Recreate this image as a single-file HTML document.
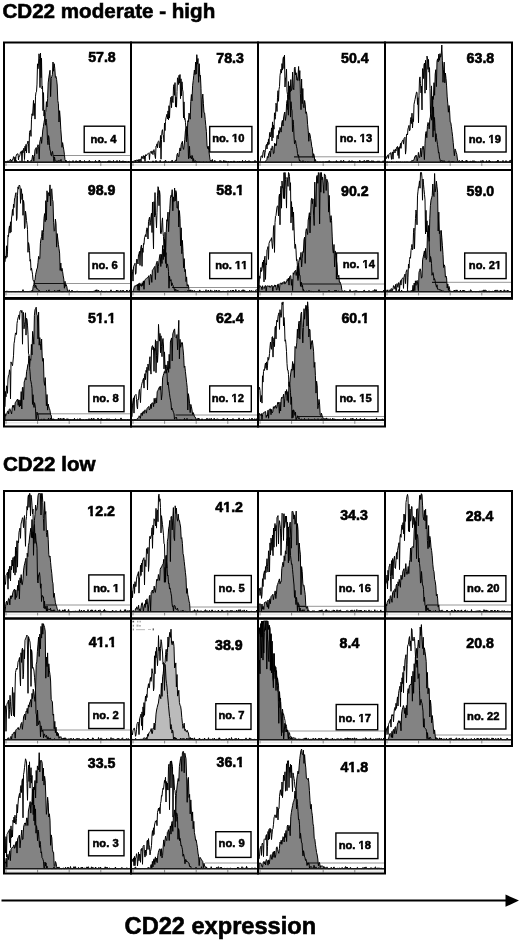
<!DOCTYPE html>
<html><head><meta charset="utf-8"><style>
html,body{margin:0;padding:0;background:#fff;}
svg{display:block;filter:grayscale(1);}
text{font-kerning:none;font-family:"Liberation Sans",sans-serif;font-weight:bold;fill:#000;stroke:#000;stroke-width:0.6px;}
.n{font-size:14.2px;}
.b{font-size:11.2px;stroke-width:0.5px;}
.t{font-size:20.6px;}
.x{font-size:23.6px;}
</style></head><body>
<svg width="520" height="941" viewBox="0 0 520 941">
<rect width="520" height="941" fill="#fff"/>
<defs><clipPath id="one_n"><path d="M-2.00,-11.09 L14.20,-11.09 L14.20,-2.60 L5.56,-2.60 L5.56,2.00 L3.01,2.00 L3.01,-2.60 L-2.00,-2.60 Z"/></clipPath><clipPath id="one_b"><path d="M-2.00,-8.75 L11.20,-8.75 L11.20,-2.60 L4.40,-2.60 L4.40,2.00 L2.36,2.00 L2.36,-2.60 L-2.00,-2.60 Z"/></clipPath></defs>
<text x="2.4" y="18.2" class="t">CD22 moderate - high</text>
<text x="2.9" y="470.7" class="t">CD22 low</text>
<g><clipPath id="c100"><rect x="5.0" y="43.5" width="125.0" height="119.3"/></clipPath><line x1="53.5" y1="155.5" x2="130.0" y2="155.5" stroke="#8a8a8a" stroke-width="0.9"/><g clip-path="url(#c100)"><path d="M5.0,162.3L5.0,162.3L5.6,162.0L6.2,161.3L6.8,162.2L7.4,162.1L8.0,160.7L8.6,162.3L9.2,162.3L9.8,162.3L10.4,162.3L11.0,162.0L11.6,161.1L12.2,162.3L12.8,162.0L13.4,162.3L14.0,162.2L14.6,162.0L15.2,162.2L15.8,162.3L16.4,160.5L17.0,162.3L17.6,162.0L18.2,162.2L18.8,162.2L19.4,162.3L20.0,160.8L20.6,161.4L21.2,162.3L21.8,162.2L22.4,162.2L23.0,162.1L23.6,162.3L24.2,160.7L24.8,161.2L25.4,162.1L26.0,162.0L26.6,162.3L27.2,162.0L27.8,160.0L28.4,162.3L29.0,162.3L29.6,162.0L30.2,161.4L30.8,160.6L31.4,161.3L32.0,159.1L32.6,155.0L33.2,155.9L33.8,161.2L34.4,156.4L35.0,149.9L35.6,148.6L36.2,147.6L36.8,153.7L37.4,147.3L38.0,144.7L38.6,146.4L39.2,159.1L39.8,141.7L40.4,139.5L41.0,136.9L41.6,143.4L42.2,137.3L42.8,129.9L43.4,126.7L44.0,122.5L44.6,119.2L45.2,112.4L45.8,111.4L46.4,101.7L47.0,107.0L47.6,98.7L48.2,82.9L48.8,77.8L49.4,74.0L50.0,70.3L50.6,96.6L51.2,78.4L51.8,76.4L52.4,74.7L53.0,62.0L53.6,71.2L54.2,63.7L54.8,68.6L55.4,77.4L56.0,76.5L56.6,79.5L57.2,85.0L57.8,100.7L58.4,103.7L59.0,122.0L59.6,110.7L60.2,118.0L60.8,129.3L61.4,137.0L62.0,147.3L62.6,142.6L63.2,146.3L63.8,149.9L64.4,154.3L65.0,159.7L65.6,161.0L66.2,162.3L66.8,161.3L67.4,162.0L68.0,162.0L68.6,162.3L69.2,162.3L69.8,162.3L70.4,162.0L71.0,162.3L71.6,162.0L72.2,162.3L72.8,162.3L73.4,162.0L74.0,162.0L74.6,162.3L75.2,162.3L75.8,160.8L76.4,160.8L77.0,162.3L77.6,162.1L78.2,162.3L78.8,161.7L79.4,160.5L80.0,162.3L80.6,162.3L81.2,162.0L81.8,162.0L82.4,162.0L83.0,162.0L83.6,162.3L84.2,162.0L84.8,162.0L85.4,162.3L86.0,161.4L86.6,162.3L87.2,162.0L87.8,162.3L88.4,162.2L89.0,160.6L89.6,160.7L90.2,162.3L90.8,162.0L91.4,162.3L92.0,162.2L92.6,162.1L93.2,162.1L93.8,162.3L94.4,162.3L95.0,162.3L95.6,162.3L96.2,161.8L96.8,162.0L97.4,162.3L98.0,162.3L98.6,162.3L99.2,160.1L99.8,162.3L100.4,162.3L101.0,162.0L101.6,162.3L102.2,162.0L102.8,162.3L103.4,162.0L104.0,162.0L104.6,162.3L105.2,162.3L105.8,162.0L106.4,162.3L107.0,162.0L107.6,161.4L108.2,162.3L108.8,160.7L109.4,161.3L110.0,162.0L110.6,162.0L111.2,162.0L111.8,162.0L112.4,162.3L113.0,162.0L113.6,162.3L114.2,162.3L114.8,162.0L115.4,162.0L116.0,162.3L116.6,162.0L117.2,162.3L117.8,162.0L118.4,162.3L119.0,162.3L119.6,160.4L120.2,162.3L120.8,162.3L121.4,161.2L122.0,162.1L122.6,162.0L123.2,162.3L123.8,162.0L124.4,162.0L125.0,161.1L125.6,162.1L126.2,161.6L126.8,162.0L127.4,162.3L128.0,162.3L128.6,161.0L129.2,162.0L129.8,162.0L129.8,162.3Z" fill="#838383" stroke="#000" stroke-width="1.0"/><clipPath id="f100"><path d="M5.0,162.3L5.0,162.3L5.6,162.0L6.2,161.3L6.8,162.2L7.4,162.1L8.0,160.7L8.6,162.3L9.2,162.3L9.8,162.3L10.4,162.3L11.0,162.0L11.6,161.1L12.2,162.3L12.8,162.0L13.4,162.3L14.0,162.2L14.6,162.0L15.2,162.2L15.8,162.3L16.4,160.5L17.0,162.3L17.6,162.0L18.2,162.2L18.8,162.2L19.4,162.3L20.0,160.8L20.6,161.4L21.2,162.3L21.8,162.2L22.4,162.2L23.0,162.1L23.6,162.3L24.2,160.7L24.8,161.2L25.4,162.1L26.0,162.0L26.6,162.3L27.2,162.0L27.8,160.0L28.4,162.3L29.0,162.3L29.6,162.0L30.2,161.4L30.8,160.6L31.4,161.3L32.0,159.1L32.6,155.0L33.2,155.9L33.8,161.2L34.4,156.4L35.0,149.9L35.6,148.6L36.2,147.6L36.8,153.7L37.4,147.3L38.0,144.7L38.6,146.4L39.2,159.1L39.8,141.7L40.4,139.5L41.0,136.9L41.6,143.4L42.2,137.3L42.8,129.9L43.4,126.7L44.0,122.5L44.6,119.2L45.2,112.4L45.8,111.4L46.4,101.7L47.0,107.0L47.6,98.7L48.2,82.9L48.8,77.8L49.4,74.0L50.0,70.3L50.6,96.6L51.2,78.4L51.8,76.4L52.4,74.7L53.0,62.0L53.6,71.2L54.2,63.7L54.8,68.6L55.4,77.4L56.0,76.5L56.6,79.5L57.2,85.0L57.8,100.7L58.4,103.7L59.0,122.0L59.6,110.7L60.2,118.0L60.8,129.3L61.4,137.0L62.0,147.3L62.6,142.6L63.2,146.3L63.8,149.9L64.4,154.3L65.0,159.7L65.6,161.0L66.2,162.3L66.8,161.3L67.4,162.0L68.0,162.0L68.6,162.3L69.2,162.3L69.8,162.3L70.4,162.0L71.0,162.3L71.6,162.0L72.2,162.3L72.8,162.3L73.4,162.0L74.0,162.0L74.6,162.3L75.2,162.3L75.8,160.8L76.4,160.8L77.0,162.3L77.6,162.1L78.2,162.3L78.8,161.7L79.4,160.5L80.0,162.3L80.6,162.3L81.2,162.0L81.8,162.0L82.4,162.0L83.0,162.0L83.6,162.3L84.2,162.0L84.8,162.0L85.4,162.3L86.0,161.4L86.6,162.3L87.2,162.0L87.8,162.3L88.4,162.2L89.0,160.6L89.6,160.7L90.2,162.3L90.8,162.0L91.4,162.3L92.0,162.2L92.6,162.1L93.2,162.1L93.8,162.3L94.4,162.3L95.0,162.3L95.6,162.3L96.2,161.8L96.8,162.0L97.4,162.3L98.0,162.3L98.6,162.3L99.2,160.1L99.8,162.3L100.4,162.3L101.0,162.0L101.6,162.3L102.2,162.0L102.8,162.3L103.4,162.0L104.0,162.0L104.6,162.3L105.2,162.3L105.8,162.0L106.4,162.3L107.0,162.0L107.6,161.4L108.2,162.3L108.8,160.7L109.4,161.3L110.0,162.0L110.6,162.0L111.2,162.0L111.8,162.0L112.4,162.3L113.0,162.0L113.6,162.3L114.2,162.3L114.8,162.0L115.4,162.0L116.0,162.3L116.6,162.0L117.2,162.3L117.8,162.0L118.4,162.3L119.0,162.3L119.6,160.4L120.2,162.3L120.8,162.3L121.4,161.2L122.0,162.1L122.6,162.0L123.2,162.3L123.8,162.0L124.4,162.0L125.0,161.1L125.6,162.1L126.2,161.6L126.8,162.0L127.4,162.3L128.0,162.3L128.6,161.0L129.2,162.0L129.8,162.0L129.8,162.3Z"/></clipPath><line x1="53.5" y1="155.5" x2="130.0" y2="155.5" stroke="#111" stroke-width="1.2" clip-path="url(#f100)"/><path d="M5.0,162.0L5.5,161.9L6.0,162.0L6.5,162.3L7.0,162.3L7.5,162.0L8.0,162.2L8.5,161.2L9.0,161.9L9.5,160.7L10.0,160.0L10.5,159.2L11.0,161.8L11.5,160.1L12.0,161.1L12.5,159.3L13.0,159.6L13.5,156.6L14.0,157.7L14.5,162.3L15.0,156.9L15.5,162.3L16.0,156.1L16.5,155.0L17.0,153.9L17.5,153.9L18.0,153.8L18.5,159.9L19.0,156.0L19.5,156.4L20.0,154.8L20.5,151.9L21.0,151.5L21.5,151.2L22.0,162.3L22.5,150.6L23.0,152.8L23.5,149.0L24.0,148.1L24.5,159.5L25.0,146.2L25.5,150.8L26.0,144.4L26.5,152.9L27.0,144.4L27.5,143.0L28.0,141.0L28.5,143.5L29.0,153.1L29.5,132.3L30.0,130.5L30.5,130.3L31.0,136.4L31.5,119.2L32.0,113.8L32.5,115.5L33.0,109.0L33.5,100.4L34.0,115.6L34.5,103.6L35.0,119.1L35.5,96.2L36.0,92.2L36.5,91.8L37.0,84.1L37.5,63.8L38.0,68.8L38.5,63.9L39.0,53.8L39.5,58.3L40.0,87.6L40.5,53.0L41.0,77.7L41.5,58.2L42.0,89.0L42.5,86.1L43.0,110.6L43.5,92.6L44.0,116.1L44.5,110.1L45.0,118.3L45.5,125.2L46.0,119.0L46.5,122.4L47.0,128.1L47.5,140.5L48.0,144.7L48.5,135.6L49.0,137.6L49.5,145.7L50.0,150.0L50.5,151.1L51.0,155.4L51.5,155.8L52.0,152.6L52.5,151.4L53.0,154.6L53.5,158.3L54.0,162.3L54.5,156.9L55.0,160.1L55.5,160.6L56.0,161.7L56.5,161.5L57.0,160.6L57.5,162.3L58.0,161.7L58.5,160.9L59.0,160.2L59.5,161.4L60.0,160.9L60.5,161.2L61.0,159.4L61.5,162.3L62.0,161.5L62.5,162.3L63.0,162.0L63.5,161.8L64.0,162.0L64.5,162.2L65.0,162.3L65.5,162.0L66.0,160.1L66.5,162.3L67.0,162.0L67.5,162.3L68.0,162.3L68.5,162.0L69.0,161.1L69.5,161.2L70.0,161.2L70.5,162.3L71.0,162.3L71.5,162.3L72.0,162.0L72.5,162.0L73.0,160.5L73.5,162.0L74.0,162.3L74.5,162.3L75.0,162.3L75.5,162.2L76.0,162.3L76.5,161.8L77.0,162.3L77.5,161.2L78.0,161.8L78.5,162.3L79.0,162.3L79.5,162.3L80.0,162.1L80.5,160.4L81.0,162.3L81.5,162.1L82.0,162.3L82.5,162.0L83.0,162.3L83.5,162.3L84.0,162.0L84.5,160.5L85.0,161.8L85.5,162.3L86.0,162.3L86.5,162.1L87.0,162.3L87.5,162.0L88.0,162.0L88.5,162.3L89.0,162.0L89.5,162.3L90.0,162.0L90.5,162.0L91.0,162.3L91.5,162.0L92.0,162.3L92.5,162.0L93.0,162.3L93.5,162.3L94.0,162.0L94.5,162.0L95.0,162.0L95.5,160.4L96.0,162.3L96.5,162.2L97.0,162.0L97.5,162.3L98.0,162.3L98.5,162.0L99.0,161.8L99.5,161.0L100.0,160.8L100.5,162.3L101.0,162.3L101.5,162.3L102.0,162.3L102.5,162.0L103.0,162.3L103.5,162.3L104.0,162.3L104.5,162.0L105.0,162.3L105.5,162.0L106.0,162.3L106.5,162.3L107.0,162.3L107.5,162.3L108.0,162.0L108.5,162.3L109.0,162.0L109.5,161.7L110.0,160.7L110.5,161.2L111.0,162.3L111.5,161.6L112.0,162.3L112.5,162.1L113.0,162.0L113.5,160.4L114.0,162.0L114.5,162.3L115.0,162.3L115.5,162.0L116.0,162.3L116.5,162.0L117.0,160.4L117.5,162.0L118.0,162.3L118.5,162.3L119.0,162.0L119.5,162.0L120.0,162.1L120.5,162.0L121.0,162.3L121.5,162.3L122.0,162.0L122.5,162.0L123.0,160.7L123.5,162.0L124.0,162.2L124.5,162.0L125.0,161.0L125.5,162.3L126.0,162.0L126.5,162.3L127.0,162.0L127.5,162.0L128.0,162.0L128.5,162.3L129.0,162.3L129.5,162.3L130.0,162.0" fill="none" stroke="#000" stroke-width="1.0"/></g><line x1="5.0" y1="164.9" x2="130.0" y2="164.9" stroke="#e6e6e6" stroke-width="1.6"/><line x1="6.0" y1="163.3" x2="6.0" y2="165.9" stroke="#777" stroke-width="0.9"/><line x1="37.6" y1="163.3" x2="37.6" y2="165.9" stroke="#777" stroke-width="0.9"/><line x1="69.2" y1="163.3" x2="69.2" y2="165.9" stroke="#777" stroke-width="0.9"/><line x1="100.8" y1="163.3" x2="100.8" y2="165.9" stroke="#777" stroke-width="0.9"/><line x1="5.0" y1="162.3" x2="130.0" y2="162.3" stroke="#1a1a1a" stroke-width="1.6"/><g transform="translate(88.15,62.25) scale(1,1.080)"><text x="0.00" y="0" class="n">57.8</text></g><rect x="84.2" y="126.2" width="40.5" height="26.2" fill="none" stroke="#000" stroke-width="1.4"/><g transform="translate(90.40,143.40)"><text x="0.00" y="0" class="b">no. 4</text></g><rect x="4.0" y="42.5" width="127.0" height="127.5" fill="none" stroke="#000" stroke-width="2"/></g>
<g><clipPath id="c101"><rect x="132.0" y="43.5" width="125.0" height="119.3"/></clipPath><g clip-path="url(#c101)"><path d="M132.0,162.3L132.0,162.3L132.6,161.5L133.2,162.3L133.8,162.0L134.4,162.0L135.0,162.2L135.6,160.3L136.2,162.3L136.8,162.0L137.4,162.0L138.0,162.3L138.6,162.3L139.2,160.8L139.8,162.3L140.4,162.0L141.0,162.3L141.6,161.9L142.2,162.3L142.8,162.3L143.4,162.3L144.0,162.3L144.6,162.1L145.2,162.3L145.8,162.1L146.4,162.3L147.0,162.3L147.6,162.3L148.2,161.2L148.8,162.3L149.4,162.3L150.0,162.3L150.6,162.3L151.2,162.3L151.8,162.3L152.4,162.0L153.0,160.8L153.6,162.0L154.2,162.3L154.8,162.0L155.4,162.0L156.0,160.4L156.6,162.3L157.2,162.1L157.8,162.0L158.4,162.3L159.0,162.3L159.6,162.3L160.2,160.3L160.8,162.3L161.4,162.3L162.0,162.0L162.6,162.3L163.2,162.0L163.8,162.0L164.4,162.2L165.0,160.9L165.6,160.1L166.2,162.1L166.8,162.3L167.4,162.3L168.0,162.3L168.6,161.6L169.2,162.3L169.8,162.1L170.4,162.0L171.0,162.0L171.6,161.0L172.2,160.1L172.8,162.3L173.4,162.3L174.0,162.3L174.6,162.3L175.2,160.4L175.8,160.1L176.4,160.9L177.0,154.6L177.6,153.2L178.2,156.2L178.8,156.8L179.4,151.5L180.0,147.9L180.6,150.8L181.2,144.7L181.8,143.0L182.4,141.3L183.0,147.9L183.6,149.4L184.2,145.1L184.8,139.2L185.4,130.9L186.0,128.4L186.6,126.5L187.2,135.9L187.8,120.7L188.4,121.9L189.0,113.1L189.6,115.2L190.2,119.2L190.8,101.6L191.4,94.5L192.0,100.9L192.6,85.7L193.2,80.7L193.8,75.3L194.4,70.0L195.0,74.6L195.6,62.0L196.2,74.1L196.8,54.7L197.4,64.1L198.0,58.5L198.6,82.3L199.2,63.7L199.8,76.2L200.4,75.3L201.0,88.4L201.6,117.7L202.2,99.3L202.8,94.1L203.4,103.7L204.0,112.7L204.6,112.9L205.2,119.3L205.8,125.6L206.4,131.7L207.0,145.2L207.6,148.5L208.2,146.2L208.8,150.4L209.4,154.9L210.0,159.7L210.6,161.2L211.2,160.4L211.8,161.3L212.4,159.4L213.0,162.3L213.6,162.3L214.2,162.1L214.8,160.3L215.4,161.8L216.0,162.3L216.6,162.3L217.2,162.3L217.8,162.3L218.4,162.3L219.0,162.1L219.6,161.8L220.2,162.3L220.8,162.0L221.4,162.3L222.0,162.3L222.6,162.3L223.2,162.3L223.8,160.3L224.4,162.3L225.0,160.8L225.6,162.3L226.2,161.4L226.8,162.2L227.4,162.3L228.0,162.0L228.6,161.1L229.2,162.2L229.8,162.3L230.4,162.0L231.0,162.0L231.6,162.3L232.2,162.3L232.8,162.0L233.4,162.3L234.0,160.8L234.6,162.0L235.2,162.3L235.8,162.0L236.4,162.1L237.0,162.0L237.6,162.3L238.2,162.2L238.8,162.0L239.4,161.3L240.0,162.3L240.6,162.0L241.2,162.0L241.8,162.0L242.4,161.5L243.0,161.7L243.6,162.3L244.2,162.3L244.8,161.5L245.4,160.6L246.0,161.2L246.6,162.3L247.2,161.0L247.8,162.0L248.4,162.0L249.0,162.2L249.6,162.0L250.2,161.3L250.8,162.2L251.4,162.0L252.0,162.1L252.6,162.3L253.2,162.3L253.8,162.3L254.4,162.3L255.0,162.0L255.6,162.0L256.2,161.4L256.8,162.3L256.8,162.3Z" fill="#838383" stroke="#000" stroke-width="1.0"/><path d="M132.0,162.3L132.5,162.3L133.0,161.4L133.5,161.3L134.0,161.1L134.5,160.8L135.0,160.6L135.5,161.5L136.0,160.3L136.5,160.2L137.0,160.0L137.5,161.0L138.0,159.7L138.5,162.3L139.0,159.4L139.5,160.6L140.0,159.2L140.5,159.3L141.0,162.3L141.5,156.5L142.0,157.0L142.5,158.4L143.0,155.9L143.5,155.7L144.0,159.1L144.5,155.9L145.0,161.3L145.5,154.9L146.0,154.7L146.5,155.7L147.0,154.3L147.5,154.0L148.0,153.7L148.5,153.3L149.0,153.6L149.5,159.6L150.0,152.3L150.5,151.9L151.0,151.6L151.5,153.4L152.0,150.9L152.5,153.8L153.0,154.6L153.5,150.3L154.0,149.6L154.5,152.3L155.0,156.1L155.5,158.6L156.0,146.0L156.5,146.1L157.0,143.8L157.5,147.8L158.0,141.6L158.5,141.2L159.0,141.4L159.5,147.9L160.0,147.3L160.5,135.5L161.0,159.2L161.5,139.4L162.0,131.2L162.5,129.7L163.0,134.6L163.5,135.2L164.0,142.1L164.5,123.1L165.0,130.6L165.5,121.3L166.0,117.8L166.5,116.0L167.0,114.2L167.5,119.0L168.0,110.9L168.5,119.9L169.0,105.7L169.5,118.1L170.0,105.3L170.5,99.4L171.0,97.2L171.5,107.7L172.0,96.0L172.5,100.7L173.0,102.6L173.5,86.7L174.0,84.6L174.5,95.3L175.0,82.6L175.5,106.8L176.0,97.1L176.5,107.2L177.0,91.4L177.5,77.8L178.0,79.4L178.5,84.5L179.0,75.3L179.5,83.1L180.0,74.5L180.5,98.6L181.0,78.8L181.5,95.8L182.0,81.8L182.5,89.2L183.0,91.9L183.5,117.8L184.0,101.9L184.5,119.4L185.0,118.5L185.5,122.7L186.0,129.5L186.5,141.8L187.0,129.6L187.5,132.9L188.0,141.1L188.5,158.7L189.0,153.2L189.5,146.3L190.0,158.2L190.5,155.9L191.0,157.3L191.5,158.9L192.0,155.4L192.5,156.1L193.0,162.3L193.5,158.6L194.0,160.7L194.5,161.9L195.0,160.8L195.5,160.7L196.0,162.2L196.5,161.5L197.0,161.3L197.5,162.3L198.0,162.3L198.5,162.2L199.0,161.6L199.5,162.1L200.0,162.3L200.5,161.8L201.0,162.3L201.5,162.3L202.0,162.3L202.5,162.3L203.0,162.3L203.5,161.8L204.0,161.8L204.5,162.3L205.0,162.3L205.5,162.3L206.0,162.1L206.5,162.0L207.0,162.0L207.5,162.3L208.0,162.0L208.5,162.3L209.0,162.0L209.5,162.0L210.0,162.3L210.5,162.3L211.0,161.5L211.5,162.3L212.0,162.3L212.5,160.6L213.0,162.3L213.5,162.3L214.0,162.3L214.5,161.9L215.0,162.0L215.5,161.6L216.0,161.2L216.5,162.3L217.0,162.1L217.5,162.0L218.0,162.3L218.5,162.0L219.0,162.3L219.5,161.9L220.0,160.4L220.5,161.5L221.0,160.8L221.5,162.0L222.0,162.0L222.5,162.3L223.0,162.0L223.5,161.6L224.0,162.3L224.5,162.0L225.0,162.2L225.5,162.3L226.0,160.9L226.5,162.3L227.0,162.3L227.5,162.0L228.0,162.3L228.5,161.9L229.0,162.2L229.5,162.3L230.0,162.0L230.5,162.0L231.0,161.1L231.5,162.0L232.0,162.3L232.5,162.0L233.0,162.3L233.5,162.0L234.0,162.0L234.5,161.0L235.0,162.0L235.5,162.3L236.0,162.0L236.5,162.3L237.0,162.0L237.5,161.3L238.0,162.3L238.5,162.0L239.0,162.0L239.5,161.3L240.0,162.0L240.5,162.0L241.0,162.1L241.5,162.3L242.0,162.3L242.5,160.3L243.0,162.0L243.5,162.0L244.0,162.3L244.5,162.0L245.0,162.0L245.5,162.3L246.0,162.0L246.5,162.0L247.0,162.0L247.5,162.0L248.0,162.0L248.5,162.3L249.0,160.6L249.5,162.3L250.0,162.3L250.5,162.3L251.0,162.0L251.5,162.3L252.0,162.2L252.5,162.3L253.0,161.4L253.5,162.0L254.0,162.2L254.5,162.0L255.0,160.3L255.5,162.3L256.0,162.2L256.5,162.0L257.0,162.3" fill="none" stroke="#000" stroke-width="1.0"/></g><line x1="132.0" y1="164.9" x2="257.0" y2="164.9" stroke="#e6e6e6" stroke-width="1.6"/><line x1="133.0" y1="163.3" x2="133.0" y2="165.9" stroke="#777" stroke-width="0.9"/><line x1="164.6" y1="163.3" x2="164.6" y2="165.9" stroke="#777" stroke-width="0.9"/><line x1="196.2" y1="163.3" x2="196.2" y2="165.9" stroke="#777" stroke-width="0.9"/><line x1="227.8" y1="163.3" x2="227.8" y2="165.9" stroke="#777" stroke-width="0.9"/><line x1="132.0" y1="162.3" x2="257.0" y2="162.3" stroke="#1a1a1a" stroke-width="1.6"/><g transform="translate(216.30,62.50) scale(1,1.080)"><text x="0.00" y="0" class="n">78.3</text></g><rect x="209.7" y="126.5" width="42.2" height="25.5" fill="none" stroke="#000" stroke-width="1.4"/><g transform="translate(212.20,141.70)"><text x="0.00" y="0" class="b">no. </text><g transform="translate(19.91,0)"><text x="0" y="0" class="b" clip-path="url(#one_b)">1</text></g><text x="26.14" y="0" class="b">0</text></g><rect x="131.0" y="42.5" width="127.0" height="127.5" fill="none" stroke="#000" stroke-width="2"/></g>
<g><clipPath id="c102"><rect x="259.0" y="43.5" width="125.0" height="119.3"/></clipPath><line x1="294.0" y1="156.8" x2="384.0" y2="156.8" stroke="#8a8a8a" stroke-width="0.9"/><g clip-path="url(#c102)"><path d="M259.0,162.3L259.0,162.0L259.6,162.2L260.2,162.2L260.8,162.0L261.4,162.0L262.0,162.3L262.6,162.0L263.2,162.0L263.8,162.1L264.4,162.0L265.0,162.3L265.6,161.2L266.2,160.3L266.8,159.7L267.4,156.5L268.0,157.8L268.6,153.9L269.2,152.6L269.8,151.2L270.4,156.7L271.0,148.6L271.6,150.0L272.2,145.9L272.8,146.7L273.4,153.7L274.0,153.2L274.6,143.3L275.2,145.8L275.8,143.8L276.4,145.5L277.0,135.4L277.6,135.4L278.2,138.9L278.8,130.6L279.4,133.4L280.0,127.4L280.6,130.2L281.2,132.1L281.8,122.5L282.4,120.4L283.0,126.0L283.6,118.0L284.2,114.1L284.8,112.0L285.4,120.4L286.0,116.2L286.6,103.4L287.2,100.3L287.8,107.4L288.4,115.2L289.0,100.1L289.6,85.9L290.2,92.1L290.8,79.6L291.4,90.6L292.0,89.1L292.6,72.1L293.2,87.7L293.8,89.7L294.4,68.3L295.0,67.1L295.6,74.9L296.2,72.8L296.8,80.0L297.4,80.5L298.0,76.1L298.6,66.5L299.2,80.6L299.8,70.6L300.4,93.4L301.0,109.7L301.6,79.1L302.2,103.7L302.8,88.5L303.4,107.1L304.0,107.8L304.6,100.5L305.2,104.2L305.8,113.4L306.4,111.8L307.0,115.6L307.6,124.3L308.2,130.3L308.8,141.3L309.4,132.9L310.0,134.6L310.6,138.5L311.2,141.8L311.8,146.8L312.4,148.3L313.0,157.4L313.6,153.7L314.2,155.4L314.8,161.6L315.4,159.5L316.0,161.4L316.6,162.3L317.2,162.3L317.8,162.1L318.4,162.2L319.0,162.3L319.6,162.0L320.2,162.3L320.8,162.3L321.4,162.3L322.0,162.0L322.6,162.0L323.2,162.2L323.8,162.3L324.4,162.3L325.0,162.3L325.6,162.0L326.2,162.0L326.8,162.0L327.4,162.2L328.0,162.3L328.6,162.2L329.2,160.6L329.8,161.3L330.4,162.3L331.0,162.3L331.6,162.3L332.2,162.3L332.8,162.0L333.4,162.3L334.0,162.2L334.6,162.3L335.2,162.1L335.8,162.3L336.4,160.6L337.0,162.0L337.6,162.0L338.2,162.3L338.8,162.3L339.4,162.0L340.0,162.2L340.6,162.3L341.2,162.1L341.8,162.3L342.4,162.0L343.0,161.5L343.6,160.2L344.2,162.3L344.8,162.0L345.4,162.0L346.0,162.3L346.6,162.3L347.2,162.0L347.8,162.3L348.4,162.0L349.0,160.6L349.6,161.0L350.2,162.3L350.8,161.6L351.4,162.3L352.0,162.0L352.6,162.3L353.2,162.2L353.8,162.0L354.4,162.2L355.0,162.3L355.6,162.3L356.2,162.3L356.8,162.3L357.4,161.7L358.0,162.3L358.6,162.0L359.2,162.3L359.8,160.3L360.4,162.0L361.0,162.3L361.6,162.0L362.2,162.3L362.8,161.1L363.4,162.3L364.0,160.4L364.6,160.7L365.2,162.3L365.8,162.3L366.4,160.7L367.0,162.3L367.6,162.0L368.2,162.3L368.8,162.1L369.4,162.0L370.0,162.1L370.6,161.7L371.2,162.3L371.8,162.3L372.4,162.3L373.0,160.6L373.6,162.3L374.2,162.0L374.8,162.1L375.4,162.0L376.0,162.3L376.6,162.2L377.2,161.1L377.8,161.3L378.4,162.0L379.0,162.3L379.6,162.3L380.2,162.3L380.8,162.0L381.4,162.3L382.0,162.0L382.6,162.3L383.2,160.7L383.8,162.3L383.8,162.3Z" fill="#838383" stroke="#000" stroke-width="1.0"/><clipPath id="f102"><path d="M259.0,162.3L259.0,162.0L259.6,162.2L260.2,162.2L260.8,162.0L261.4,162.0L262.0,162.3L262.6,162.0L263.2,162.0L263.8,162.1L264.4,162.0L265.0,162.3L265.6,161.2L266.2,160.3L266.8,159.7L267.4,156.5L268.0,157.8L268.6,153.9L269.2,152.6L269.8,151.2L270.4,156.7L271.0,148.6L271.6,150.0L272.2,145.9L272.8,146.7L273.4,153.7L274.0,153.2L274.6,143.3L275.2,145.8L275.8,143.8L276.4,145.5L277.0,135.4L277.6,135.4L278.2,138.9L278.8,130.6L279.4,133.4L280.0,127.4L280.6,130.2L281.2,132.1L281.8,122.5L282.4,120.4L283.0,126.0L283.6,118.0L284.2,114.1L284.8,112.0L285.4,120.4L286.0,116.2L286.6,103.4L287.2,100.3L287.8,107.4L288.4,115.2L289.0,100.1L289.6,85.9L290.2,92.1L290.8,79.6L291.4,90.6L292.0,89.1L292.6,72.1L293.2,87.7L293.8,89.7L294.4,68.3L295.0,67.1L295.6,74.9L296.2,72.8L296.8,80.0L297.4,80.5L298.0,76.1L298.6,66.5L299.2,80.6L299.8,70.6L300.4,93.4L301.0,109.7L301.6,79.1L302.2,103.7L302.8,88.5L303.4,107.1L304.0,107.8L304.6,100.5L305.2,104.2L305.8,113.4L306.4,111.8L307.0,115.6L307.6,124.3L308.2,130.3L308.8,141.3L309.4,132.9L310.0,134.6L310.6,138.5L311.2,141.8L311.8,146.8L312.4,148.3L313.0,157.4L313.6,153.7L314.2,155.4L314.8,161.6L315.4,159.5L316.0,161.4L316.6,162.3L317.2,162.3L317.8,162.1L318.4,162.2L319.0,162.3L319.6,162.0L320.2,162.3L320.8,162.3L321.4,162.3L322.0,162.0L322.6,162.0L323.2,162.2L323.8,162.3L324.4,162.3L325.0,162.3L325.6,162.0L326.2,162.0L326.8,162.0L327.4,162.2L328.0,162.3L328.6,162.2L329.2,160.6L329.8,161.3L330.4,162.3L331.0,162.3L331.6,162.3L332.2,162.3L332.8,162.0L333.4,162.3L334.0,162.2L334.6,162.3L335.2,162.1L335.8,162.3L336.4,160.6L337.0,162.0L337.6,162.0L338.2,162.3L338.8,162.3L339.4,162.0L340.0,162.2L340.6,162.3L341.2,162.1L341.8,162.3L342.4,162.0L343.0,161.5L343.6,160.2L344.2,162.3L344.8,162.0L345.4,162.0L346.0,162.3L346.6,162.3L347.2,162.0L347.8,162.3L348.4,162.0L349.0,160.6L349.6,161.0L350.2,162.3L350.8,161.6L351.4,162.3L352.0,162.0L352.6,162.3L353.2,162.2L353.8,162.0L354.4,162.2L355.0,162.3L355.6,162.3L356.2,162.3L356.8,162.3L357.4,161.7L358.0,162.3L358.6,162.0L359.2,162.3L359.8,160.3L360.4,162.0L361.0,162.3L361.6,162.0L362.2,162.3L362.8,161.1L363.4,162.3L364.0,160.4L364.6,160.7L365.2,162.3L365.8,162.3L366.4,160.7L367.0,162.3L367.6,162.0L368.2,162.3L368.8,162.1L369.4,162.0L370.0,162.1L370.6,161.7L371.2,162.3L371.8,162.3L372.4,162.3L373.0,160.6L373.6,162.3L374.2,162.0L374.8,162.1L375.4,162.0L376.0,162.3L376.6,162.2L377.2,161.1L377.8,161.3L378.4,162.0L379.0,162.3L379.6,162.3L380.2,162.3L380.8,162.0L381.4,162.3L382.0,162.0L382.6,162.3L383.2,160.7L383.8,162.3L383.8,162.3Z"/></clipPath><line x1="294.0" y1="156.8" x2="384.0" y2="156.8" stroke="#111" stroke-width="1.2" clip-path="url(#f102)"/><path d="M259.0,162.0L259.5,162.3L260.0,161.8L260.5,160.0L261.0,156.2L261.5,155.7L262.0,157.2L262.5,157.6L263.0,152.2L263.5,151.1L264.0,150.0L264.5,157.5L265.0,152.9L265.5,150.4L266.0,145.5L266.5,144.4L267.0,149.0L267.5,142.4L268.0,145.2L268.5,138.9L269.0,144.3L269.5,134.0L270.0,132.2L270.5,137.0L271.0,134.4L271.5,127.9L272.0,140.9L272.5,121.9L273.0,137.8L273.5,125.0L274.0,129.2L274.5,112.8L275.0,119.3L275.5,116.6L276.0,103.2L276.5,105.7L277.0,111.5L277.5,97.2L278.0,90.7L278.5,101.3L279.0,89.3L279.5,86.5L280.0,75.5L280.5,72.3L281.0,69.2L281.5,73.1L282.0,63.6L282.5,70.1L283.0,59.0L283.5,56.8L284.0,68.6L284.5,55.0L285.0,87.0L285.5,77.8L286.0,77.7L286.5,69.2L287.0,91.2L287.5,94.6L288.0,109.7L288.5,81.6L289.0,99.6L289.5,87.9L290.0,92.5L290.5,117.1L291.0,101.7L291.5,108.6L292.0,110.8L292.5,131.7L293.0,119.9L293.5,124.5L294.0,136.0L294.5,143.8L295.0,142.5L295.5,140.5L296.0,143.7L296.5,146.8L297.0,148.8L297.5,153.6L298.0,155.8L298.5,154.8L299.0,158.6L299.5,161.0L300.0,160.9L300.5,160.8L301.0,161.9L301.5,162.3L302.0,162.3L302.5,160.9L303.0,161.2L303.5,160.9L304.0,162.0L304.5,162.3L305.0,162.2L305.5,161.4L306.0,162.3L306.5,162.3L307.0,162.3L307.5,162.0L308.0,161.3L308.5,162.3L309.0,162.3L309.5,162.0L310.0,162.3L310.5,162.0L311.0,162.1L311.5,162.0L312.0,162.2L312.5,162.3L313.0,162.3L313.5,162.0L314.0,162.2L314.5,162.0L315.0,162.3L315.5,162.0L316.0,162.1L316.5,162.3L317.0,162.3L317.5,161.7L318.0,162.0L318.5,162.3L319.0,162.0L319.5,162.3L320.0,162.3L320.5,162.0L321.0,162.3L321.5,162.3L322.0,162.0L322.5,162.3L323.0,162.3L323.5,162.0L324.0,162.0L324.5,162.3L325.0,162.0L325.5,162.0L326.0,162.0L326.5,162.0L327.0,162.3L327.5,162.2L328.0,161.3L328.5,162.3L329.0,161.6L329.5,162.0L330.0,162.3L330.5,162.0L331.0,162.3L331.5,162.0L332.0,162.0L332.5,162.3L333.0,162.3L333.5,162.0L334.0,161.6L334.5,162.3L335.0,161.7L335.5,162.3L336.0,162.3L336.5,161.9L337.0,161.7L337.5,162.1L338.0,161.6L338.5,162.3L339.0,162.3L339.5,162.3L340.0,162.0L340.5,162.0L341.0,160.4L341.5,162.0L342.0,162.0L342.5,162.1L343.0,162.0L343.5,162.3L344.0,162.1L344.5,162.3L345.0,162.0L345.5,162.3L346.0,162.0L346.5,162.3L347.0,162.0L347.5,162.3L348.0,162.3L348.5,162.0L349.0,162.0L349.5,162.0L350.0,162.0L350.5,162.0L351.0,162.0L351.5,162.0L352.0,160.6L352.5,162.3L353.0,162.0L353.5,161.3L354.0,162.3L354.5,162.3L355.0,161.3L355.5,162.3L356.0,162.1L356.5,162.3L357.0,162.1L357.5,162.0L358.0,162.3L358.5,162.3L359.0,162.2L359.5,162.3L360.0,162.1L360.5,161.9L361.0,162.2L361.5,162.0L362.0,162.3L362.5,162.0L363.0,162.3L363.5,162.0L364.0,162.0L364.5,162.0L365.0,162.3L365.5,162.0L366.0,162.3L366.5,162.3L367.0,160.3L367.5,160.6L368.0,162.3L368.5,160.5L369.0,160.6L369.5,162.0L370.0,162.3L370.5,162.0L371.0,162.3L371.5,160.7L372.0,162.1L372.5,162.3L373.0,162.3L373.5,161.0L374.0,162.0L374.5,162.0L375.0,162.3L375.5,162.3L376.0,162.0L376.5,162.1L377.0,162.3L377.5,162.3L378.0,162.2L378.5,162.3L379.0,160.8L379.5,162.0L380.0,162.0L380.5,162.3L381.0,162.3L381.5,162.3L382.0,162.0L382.5,162.0L383.0,162.0L383.5,162.3L384.0,162.3" fill="none" stroke="#000" stroke-width="1.0"/></g><line x1="259.0" y1="164.9" x2="384.0" y2="164.9" stroke="#e6e6e6" stroke-width="1.6"/><line x1="260.0" y1="163.3" x2="260.0" y2="165.9" stroke="#777" stroke-width="0.9"/><line x1="291.6" y1="163.3" x2="291.6" y2="165.9" stroke="#777" stroke-width="0.9"/><line x1="323.2" y1="163.3" x2="323.2" y2="165.9" stroke="#777" stroke-width="0.9"/><line x1="354.8" y1="163.3" x2="354.8" y2="165.9" stroke="#777" stroke-width="0.9"/><line x1="259.0" y1="162.3" x2="384.0" y2="162.3" stroke="#1a1a1a" stroke-width="1.6"/><g transform="translate(341.05,62.60) scale(1,1.080)"><text x="0.00" y="0" class="n">50.4</text></g><rect x="336.2" y="126.5" width="42.1" height="25.9" fill="none" stroke="#000" stroke-width="1.4"/><g transform="translate(339.75,141.80)"><text x="0.00" y="0" class="b">no. </text><g transform="translate(19.91,0)"><text x="0" y="0" class="b" clip-path="url(#one_b)">1</text></g><text x="26.14" y="0" class="b">3</text></g><rect x="258.0" y="42.5" width="127.0" height="127.5" fill="none" stroke="#000" stroke-width="2"/></g>
<g><clipPath id="c103"><rect x="386.0" y="43.5" width="125.0" height="119.3"/></clipPath><g clip-path="url(#c103)"><path d="M386.0,162.3L386.0,162.2L386.6,162.0L387.2,161.7L387.8,162.0L388.4,162.3L389.0,162.0L389.6,162.1L390.2,162.3L390.8,162.3L391.4,162.1L392.0,161.5L392.6,162.3L393.2,162.3L393.8,162.1L394.4,162.2L395.0,162.3L395.6,162.3L396.2,162.2L396.8,161.5L397.4,162.2L398.0,162.0L398.6,162.0L399.2,162.3L399.8,161.7L400.4,162.0L401.0,162.0L401.6,162.3L402.2,162.0L402.8,162.3L403.4,162.3L404.0,162.3L404.6,162.0L405.2,162.3L405.8,162.0L406.4,162.0L407.0,162.3L407.6,162.0L408.2,162.3L408.8,162.2L409.4,162.3L410.0,162.3L410.6,162.3L411.2,161.0L411.8,160.6L412.4,161.1L413.0,160.0L413.6,160.3L414.2,159.2L414.8,156.5L415.4,156.9L416.0,155.1L416.6,156.2L417.2,161.2L417.8,158.1L418.4,152.4L419.0,156.3L419.6,157.6L420.2,154.3L420.8,148.1L421.4,156.8L422.0,150.2L422.6,147.2L423.2,146.1L423.8,150.1L424.4,159.6L425.0,143.8L425.6,133.6L426.2,131.5L426.8,137.7L427.4,126.3L428.0,122.5L428.6,123.8L429.2,128.9L429.8,119.3L430.4,117.0L431.0,106.7L431.6,120.2L432.2,117.0L432.8,100.3L433.4,99.7L434.0,82.7L434.6,95.3L435.2,74.0L435.8,69.7L436.4,86.6L437.0,61.2L437.6,58.8L438.2,62.0L438.8,54.1L439.4,60.4L440.0,53.6L440.6,57.2L441.2,55.6L441.8,45.0L442.4,60.8L443.0,82.3L443.6,69.9L444.2,62.1L444.8,82.8L445.4,73.0L446.0,78.5L446.6,85.9L447.2,96.9L447.8,103.9L448.4,112.2L449.0,105.5L449.6,110.9L450.2,122.2L450.8,122.5L451.4,126.7L452.0,131.5L452.6,136.3L453.2,142.4L453.8,149.3L454.4,155.8L455.0,148.9L455.6,150.3L456.2,152.3L456.8,154.3L457.4,159.0L458.0,161.0L458.6,162.3L459.2,160.6L459.8,160.9L460.4,161.3L461.0,162.3L461.6,162.1L462.2,160.1L462.8,162.3L463.4,162.0L464.0,161.3L464.6,162.3L465.2,162.0L465.8,162.0L466.4,162.3L467.0,160.6L467.6,162.0L468.2,162.0L468.8,162.0L469.4,162.1L470.0,162.1L470.6,160.9L471.2,162.0L471.8,162.0L472.4,162.3L473.0,162.0L473.6,162.3L474.2,162.0L474.8,162.2L475.4,162.1L476.0,162.2L476.6,162.0L477.2,162.3L477.8,162.2L478.4,162.3L479.0,162.3L479.6,162.3L480.2,162.0L480.8,162.3L481.4,162.3L482.0,162.2L482.6,160.5L483.2,160.6L483.8,162.3L484.4,162.3L485.0,162.3L485.6,162.3L486.2,162.0L486.8,161.5L487.4,162.3L488.0,162.3L488.6,162.3L489.2,160.3L489.8,162.0L490.4,161.2L491.0,162.0L491.6,162.3L492.2,162.0L492.8,162.0L493.4,162.0L494.0,162.1L494.6,162.0L495.2,161.9L495.8,162.3L496.4,162.1L497.0,162.0L497.6,160.7L498.2,162.3L498.8,162.0L499.4,162.2L500.0,162.1L500.6,162.0L501.2,162.3L501.8,162.0L502.4,162.0L503.0,162.3L503.6,162.0L504.2,162.3L504.8,162.0L505.4,161.3L506.0,162.0L506.6,162.3L507.2,161.8L507.8,162.3L508.4,162.0L509.0,162.3L509.6,162.3L510.2,162.3L510.8,162.0L510.8,162.3Z" fill="#838383" stroke="#000" stroke-width="1.0"/><path d="M386.0,156.2L386.5,158.5L387.0,157.2L387.5,155.3L388.0,154.9L388.5,158.4L389.0,154.0L389.5,153.6L390.0,153.1L390.5,152.7L391.0,155.4L391.5,159.4L392.0,153.0L392.5,151.9L393.0,159.2L393.5,151.6L394.0,149.7L394.5,151.4L395.0,153.0L395.5,149.2L396.0,151.1L396.5,147.5L397.0,147.0L397.5,146.4L398.0,155.5L398.5,147.6L399.0,158.4L399.5,146.7L400.0,148.1L400.5,143.4L401.0,148.4L401.5,143.1L402.0,141.7L402.5,140.6L403.0,139.9L403.5,144.1L404.0,138.6L404.5,137.8L405.0,137.2L405.5,154.1L406.0,149.7L406.5,134.3L407.0,134.2L407.5,135.0L408.0,128.9L408.5,127.2L409.0,125.4L409.5,130.8L410.0,130.0L410.5,119.6L411.0,117.4L411.5,123.5L412.0,113.2L412.5,127.9L413.0,118.8L413.5,121.6L414.0,104.4L414.5,101.9L415.0,99.5L415.5,97.0L416.0,94.6L416.5,92.1L417.0,92.3L417.5,104.5L418.0,97.7L418.5,122.8L419.0,95.3L419.5,79.0L420.0,76.9L420.5,83.7L421.0,92.9L421.5,86.0L422.0,109.9L422.5,68.7L423.0,68.8L423.5,78.5L424.0,64.5L424.5,63.1L425.0,93.2L425.5,60.3L426.0,69.3L426.5,90.0L427.0,56.1L427.5,59.2L428.0,69.4L428.5,59.4L429.0,72.2L429.5,67.6L430.0,88.6L430.5,113.1L431.0,109.8L431.5,85.9L432.0,106.8L432.5,96.4L433.0,137.1L433.5,106.9L434.0,130.7L434.5,117.5L435.0,127.5L435.5,141.5L436.0,133.6L436.5,137.7L437.0,141.1L437.5,144.6L438.0,148.1L438.5,153.1L439.0,152.5L439.5,158.0L440.0,159.2L440.5,162.3L441.0,160.7L441.5,160.6L442.0,160.1L442.5,161.8L443.0,162.0L443.5,162.3L444.0,160.5L444.5,162.1L445.0,162.0L445.5,162.0L446.0,162.3L446.5,162.3L447.0,162.0L447.5,162.0L448.0,162.0L448.5,161.5L449.0,160.8L449.5,162.3L450.0,162.1L450.5,162.0L451.0,162.0L451.5,162.3L452.0,161.0L452.5,161.6L453.0,161.0L453.5,162.0L454.0,162.0L454.5,162.0L455.0,162.0L455.5,162.3L456.0,162.3L456.5,162.0L457.0,162.3L457.5,162.3L458.0,162.2L458.5,162.3L459.0,162.0L459.5,162.3L460.0,162.3L460.5,162.3L461.0,162.0L461.5,162.3L462.0,162.0L462.5,162.3L463.0,161.3L463.5,161.7L464.0,162.0L464.5,162.3L465.0,162.3L465.5,162.3L466.0,160.2L466.5,160.5L467.0,162.1L467.5,162.0L468.0,162.0L468.5,162.3L469.0,162.3L469.5,161.9L470.0,162.0L470.5,162.3L471.0,162.0L471.5,162.0L472.0,162.0L472.5,162.0L473.0,160.5L473.5,162.0L474.0,162.3L474.5,160.9L475.0,161.2L475.5,162.0L476.0,162.3L476.5,162.3L477.0,162.0L477.5,162.3L478.0,162.0L478.5,162.0L479.0,162.1L479.5,162.3L480.0,162.2L480.5,162.0L481.0,160.6L481.5,162.3L482.0,162.3L482.5,162.0L483.0,162.3L483.5,162.3L484.0,162.0L484.5,162.3L485.0,162.0L485.5,162.3L486.0,162.3L486.5,160.6L487.0,162.0L487.5,162.0L488.0,162.0L488.5,162.0L489.0,162.3L489.5,162.0L490.0,162.0L490.5,162.0L491.0,162.0L491.5,162.2L492.0,162.3L492.5,162.1L493.0,162.0L493.5,162.3L494.0,162.3L494.5,162.3L495.0,162.0L495.5,162.0L496.0,162.3L496.5,162.3L497.0,161.2L497.5,162.0L498.0,160.0L498.5,162.3L499.0,162.3L499.5,162.3L500.0,162.3L500.5,162.0L501.0,162.0L501.5,162.3L502.0,162.3L502.5,161.9L503.0,160.4L503.5,162.3L504.0,162.0L504.5,162.3L505.0,162.0L505.5,162.2L506.0,160.5L506.5,162.0L507.0,162.0L507.5,162.3L508.0,162.3L508.5,162.3L509.0,161.8L509.5,162.0L510.0,160.0L510.5,160.3L511.0,162.3" fill="none" stroke="#000" stroke-width="1.0"/></g><line x1="386.0" y1="164.9" x2="511.0" y2="164.9" stroke="#e6e6e6" stroke-width="1.6"/><line x1="387.0" y1="163.3" x2="387.0" y2="165.9" stroke="#777" stroke-width="0.9"/><line x1="418.6" y1="163.3" x2="418.6" y2="165.9" stroke="#777" stroke-width="0.9"/><line x1="450.2" y1="163.3" x2="450.2" y2="165.9" stroke="#777" stroke-width="0.9"/><line x1="481.8" y1="163.3" x2="481.8" y2="165.9" stroke="#777" stroke-width="0.9"/><line x1="386.0" y1="162.3" x2="511.0" y2="162.3" stroke="#1a1a1a" stroke-width="1.6"/><g transform="translate(466.60,62.60) scale(1,1.080)"><text x="0.00" y="0" class="n">63.8</text></g><rect x="464.7" y="126.2" width="41.4" height="25.8" fill="none" stroke="#000" stroke-width="1.4"/><g transform="translate(468.65,142.80)"><text x="0.00" y="0" class="b">no. </text><g transform="translate(19.91,0)"><text x="0" y="0" class="b" clip-path="url(#one_b)">1</text></g><text x="26.14" y="0" class="b">9</text></g><rect x="385.0" y="42.5" width="127.0" height="127.5" fill="none" stroke="#000" stroke-width="2"/></g>
<g><clipPath id="c110"><rect x="5.0" y="171.0" width="125.0" height="121.3"/></clipPath><line x1="35.0" y1="283.5" x2="130.0" y2="283.5" stroke="#8a8a8a" stroke-width="0.9"/><g clip-path="url(#c110)"><path d="M5.0,291.8L5.0,291.6L5.6,291.6L6.2,291.2L6.8,291.6L7.4,290.9L8.0,291.8L8.6,291.8L9.2,291.8L9.8,291.8L10.4,291.6L11.0,291.8L11.6,291.8L12.2,291.6L12.8,291.6L13.4,291.6L14.0,291.7L14.6,291.7L15.2,291.8L15.8,291.8L16.4,291.6L17.0,291.8L17.6,291.6L18.2,291.6L18.8,291.2L19.4,291.8L20.0,291.6L20.6,291.8L21.2,291.6L21.8,291.8L22.4,291.6L23.0,289.6L23.6,291.8L24.2,291.6L24.8,291.8L25.4,291.6L26.0,291.8L26.6,291.0L27.2,291.8L27.8,291.8L28.4,291.6L29.0,291.6L29.6,291.6L30.2,290.9L30.8,291.6L31.4,291.8L32.0,290.2L32.6,291.1L33.2,286.2L33.8,284.5L34.4,280.6L35.0,280.2L35.6,274.7L36.2,272.1L36.8,269.1L37.4,268.0L38.0,262.6L38.6,256.4L39.2,258.9L39.8,258.7L40.4,243.3L41.0,238.9L41.6,236.6L42.2,230.4L42.8,240.0L43.4,232.4L44.0,218.2L44.6,213.6L45.2,221.7L45.8,200.7L46.4,220.1L47.0,190.8L47.6,201.9L48.2,192.5L48.8,194.7L49.4,196.0L50.0,184.9L50.6,205.9L51.2,189.7L51.8,188.8L52.4,199.4L53.0,201.5L53.6,222.2L54.2,231.2L54.8,230.5L55.4,219.1L56.0,223.7L56.6,247.1L57.2,233.6L57.8,239.0L58.4,244.3L59.0,248.7L59.6,253.1L60.2,270.4L60.8,263.0L61.4,271.2L62.0,268.3L62.6,271.5L63.2,275.9L63.8,279.1L64.4,288.2L65.0,281.3L65.6,286.3L66.2,284.6L66.8,286.5L67.4,290.2L68.0,291.8L68.6,291.6L69.2,289.8L69.8,291.6L70.4,291.8L71.0,291.8L71.6,291.8L72.2,291.8L72.8,291.6L73.4,291.6L74.0,291.8L74.6,291.7L75.2,291.6L75.8,291.8L76.4,291.4L77.0,291.6L77.6,291.1L78.2,291.7L78.8,291.6L79.4,291.6L80.0,291.6L80.6,291.8L81.2,291.6L81.8,291.8L82.4,291.6L83.0,291.8L83.6,291.8L84.2,291.6L84.8,291.6L85.4,291.6L86.0,291.8L86.6,291.6L87.2,291.6L87.8,291.6L88.4,291.7L89.0,291.6L89.6,291.8L90.2,291.8L90.8,291.8L91.4,291.6L92.0,291.6L92.6,291.8L93.2,291.6L93.8,291.0L94.4,291.8L95.0,291.7L95.6,291.6L96.2,289.8L96.8,291.8L97.4,291.8L98.0,291.8L98.6,290.2L99.2,291.6L99.8,291.8L100.4,291.8L101.0,291.6L101.6,290.6L102.2,291.8L102.8,291.8L103.4,291.6L104.0,291.7L104.6,291.8L105.2,291.8L105.8,291.8L106.4,290.9L107.0,291.8L107.6,291.6L108.2,291.8L108.8,291.8L109.4,291.6L110.0,291.6L110.6,290.7L111.2,291.6L111.8,291.6L112.4,291.7L113.0,291.8L113.6,291.7L114.2,291.6L114.8,291.6L115.4,291.6L116.0,291.8L116.6,290.2L117.2,291.8L117.8,290.4L118.4,291.8L119.0,291.8L119.6,291.8L120.2,291.8L120.8,290.2L121.4,291.7L122.0,291.6L122.6,291.8L123.2,291.6L123.8,291.6L124.4,291.8L125.0,291.4L125.6,291.6L126.2,291.6L126.8,290.0L127.4,291.6L128.0,291.6L128.6,291.8L129.2,290.6L129.8,290.1L129.8,291.8Z" fill="#838383" stroke="#000" stroke-width="1.0"/><clipPath id="f110"><path d="M5.0,291.8L5.0,291.6L5.6,291.6L6.2,291.2L6.8,291.6L7.4,290.9L8.0,291.8L8.6,291.8L9.2,291.8L9.8,291.8L10.4,291.6L11.0,291.8L11.6,291.8L12.2,291.6L12.8,291.6L13.4,291.6L14.0,291.7L14.6,291.7L15.2,291.8L15.8,291.8L16.4,291.6L17.0,291.8L17.6,291.6L18.2,291.6L18.8,291.2L19.4,291.8L20.0,291.6L20.6,291.8L21.2,291.6L21.8,291.8L22.4,291.6L23.0,289.6L23.6,291.8L24.2,291.6L24.8,291.8L25.4,291.6L26.0,291.8L26.6,291.0L27.2,291.8L27.8,291.8L28.4,291.6L29.0,291.6L29.6,291.6L30.2,290.9L30.8,291.6L31.4,291.8L32.0,290.2L32.6,291.1L33.2,286.2L33.8,284.5L34.4,280.6L35.0,280.2L35.6,274.7L36.2,272.1L36.8,269.1L37.4,268.0L38.0,262.6L38.6,256.4L39.2,258.9L39.8,258.7L40.4,243.3L41.0,238.9L41.6,236.6L42.2,230.4L42.8,240.0L43.4,232.4L44.0,218.2L44.6,213.6L45.2,221.7L45.8,200.7L46.4,220.1L47.0,190.8L47.6,201.9L48.2,192.5L48.8,194.7L49.4,196.0L50.0,184.9L50.6,205.9L51.2,189.7L51.8,188.8L52.4,199.4L53.0,201.5L53.6,222.2L54.2,231.2L54.8,230.5L55.4,219.1L56.0,223.7L56.6,247.1L57.2,233.6L57.8,239.0L58.4,244.3L59.0,248.7L59.6,253.1L60.2,270.4L60.8,263.0L61.4,271.2L62.0,268.3L62.6,271.5L63.2,275.9L63.8,279.1L64.4,288.2L65.0,281.3L65.6,286.3L66.2,284.6L66.8,286.5L67.4,290.2L68.0,291.8L68.6,291.6L69.2,289.8L69.8,291.6L70.4,291.8L71.0,291.8L71.6,291.8L72.2,291.8L72.8,291.6L73.4,291.6L74.0,291.8L74.6,291.7L75.2,291.6L75.8,291.8L76.4,291.4L77.0,291.6L77.6,291.1L78.2,291.7L78.8,291.6L79.4,291.6L80.0,291.6L80.6,291.8L81.2,291.6L81.8,291.8L82.4,291.6L83.0,291.8L83.6,291.8L84.2,291.6L84.8,291.6L85.4,291.6L86.0,291.8L86.6,291.6L87.2,291.6L87.8,291.6L88.4,291.7L89.0,291.6L89.6,291.8L90.2,291.8L90.8,291.8L91.4,291.6L92.0,291.6L92.6,291.8L93.2,291.6L93.8,291.0L94.4,291.8L95.0,291.7L95.6,291.6L96.2,289.8L96.8,291.8L97.4,291.8L98.0,291.8L98.6,290.2L99.2,291.6L99.8,291.8L100.4,291.8L101.0,291.6L101.6,290.6L102.2,291.8L102.8,291.8L103.4,291.6L104.0,291.7L104.6,291.8L105.2,291.8L105.8,291.8L106.4,290.9L107.0,291.8L107.6,291.6L108.2,291.8L108.8,291.8L109.4,291.6L110.0,291.6L110.6,290.7L111.2,291.6L111.8,291.6L112.4,291.7L113.0,291.8L113.6,291.7L114.2,291.6L114.8,291.6L115.4,291.6L116.0,291.8L116.6,290.2L117.2,291.8L117.8,290.4L118.4,291.8L119.0,291.8L119.6,291.8L120.2,291.8L120.8,290.2L121.4,291.7L122.0,291.6L122.6,291.8L123.2,291.6L123.8,291.6L124.4,291.8L125.0,291.4L125.6,291.6L126.2,291.6L126.8,290.0L127.4,291.6L128.0,291.6L128.6,291.8L129.2,290.6L129.8,290.1L129.8,291.8Z"/></clipPath><line x1="35.0" y1="283.5" x2="130.0" y2="283.5" stroke="#111" stroke-width="1.2" clip-path="url(#f110)"/><path d="M5.0,261.9L5.5,256.0L6.0,258.3L6.5,245.8L7.0,257.2L7.5,251.9L8.0,235.3L8.5,236.7L9.0,229.0L9.5,225.9L10.0,233.1L10.5,221.8L11.0,232.1L11.5,218.0L12.0,215.1L12.5,209.4L13.0,215.5L13.5,204.2L14.0,207.6L14.5,199.0L15.0,197.4L15.5,194.2L16.0,192.7L16.5,220.5L17.0,218.2L17.5,195.2L18.0,186.9L18.5,189.1L19.0,185.6L19.5,185.0L20.0,186.8L20.5,203.3L21.0,188.6L21.5,190.1L22.0,199.5L22.5,193.8L23.0,215.3L23.5,200.4L24.0,203.6L24.5,228.6L25.0,227.8L25.5,211.2L26.0,214.9L26.5,220.6L27.0,224.2L27.5,229.4L28.0,252.3L28.5,242.6L29.0,245.1L29.5,250.3L30.0,261.2L30.5,259.5L31.0,270.3L31.5,268.1L32.0,271.1L32.5,274.2L33.0,279.8L33.5,280.9L34.0,280.9L34.5,282.6L35.0,287.6L35.5,285.1L36.0,285.8L36.5,288.7L37.0,289.1L37.5,288.7L38.0,289.7L38.5,290.4L39.0,290.0L39.5,290.5L40.0,291.8L40.5,291.8L41.0,291.8L41.5,291.5L42.0,291.5L42.5,291.5L43.0,291.3L43.5,291.5L44.0,291.8L44.5,291.5L45.0,291.7L45.5,291.5L46.0,291.7L46.5,290.5L47.0,291.5L47.5,291.8L48.0,291.8L48.5,290.5L49.0,289.8L49.5,291.8L50.0,291.8L50.5,291.5L51.0,291.8L51.5,291.8L52.0,291.5L52.5,291.5L53.0,291.8L53.5,291.5L54.0,291.8L54.5,290.4L55.0,291.5L55.5,291.8L56.0,290.8L56.5,291.5L57.0,291.5L57.5,291.5L58.0,290.2L58.5,290.9L59.0,291.6L59.5,289.9L60.0,291.5L60.5,291.0L61.0,291.8L61.5,291.8L62.0,291.4L62.5,291.8L63.0,291.5L63.5,291.7L64.0,291.5L64.5,291.5L65.0,291.7L65.5,291.5L66.0,291.8L66.5,291.7L67.0,291.5L67.5,291.8L68.0,291.5L68.5,291.8L69.0,291.5L69.5,291.8L70.0,291.5L70.5,291.7L71.0,291.8L71.5,291.7L72.0,290.0L72.5,291.8L73.0,291.5L73.5,291.5L74.0,291.8L74.5,291.8L75.0,291.8L75.5,291.8L76.0,291.8L76.5,291.1L77.0,291.8L77.5,291.5L78.0,291.8L78.5,291.8L79.0,291.8L79.5,291.7L80.0,291.5L80.5,291.5L81.0,291.8L81.5,291.8L82.0,291.1L82.5,291.6L83.0,291.5L83.5,291.5L84.0,291.5L84.5,291.8L85.0,291.6L85.5,291.8L86.0,291.8L86.5,291.5L87.0,291.8L87.5,291.8L88.0,291.5L88.5,291.8L89.0,291.8L89.5,291.8L90.0,291.7L90.5,291.6L91.0,291.6L91.5,291.8L92.0,291.8L92.5,291.8L93.0,291.8L93.5,291.8L94.0,291.8L94.5,291.8L95.0,290.5L95.5,291.8L96.0,290.1L96.5,291.5L97.0,289.8L97.5,291.5L98.0,291.6L98.5,291.1L99.0,291.8L99.5,291.5L100.0,291.8L100.5,291.8L101.0,291.8L101.5,291.5L102.0,291.8L102.5,291.6L103.0,291.8L103.5,291.8L104.0,291.5L104.5,291.8L105.0,291.5L105.5,291.8L106.0,291.5L106.5,291.5L107.0,291.8L107.5,291.8L108.0,291.8L108.5,291.5L109.0,291.8L109.5,291.8L110.0,291.5L110.5,291.8L111.0,289.8L111.5,291.5L112.0,291.7L112.5,291.5L113.0,291.6L113.5,291.4L114.0,291.7L114.5,291.8L115.0,291.6L115.5,291.8L116.0,291.8L116.5,290.0L117.0,291.5L117.5,291.5L118.0,291.5L118.5,291.8L119.0,290.8L119.5,291.8L120.0,291.8L120.5,291.7L121.0,291.8L121.5,291.6L122.0,291.5L122.5,290.5L123.0,291.1L123.5,290.3L124.0,291.8L124.5,291.8L125.0,291.8L125.5,291.5L126.0,291.8L126.5,291.5L127.0,290.4L127.5,291.8L128.0,291.5L128.5,291.5L129.0,291.8L129.5,291.8L130.0,291.5" fill="none" stroke="#000" stroke-width="1.0"/></g><line x1="5.0" y1="294.4" x2="130.0" y2="294.4" stroke="#e6e6e6" stroke-width="1.6"/><line x1="6.0" y1="292.8" x2="6.0" y2="295.4" stroke="#777" stroke-width="0.9"/><line x1="37.6" y1="292.8" x2="37.6" y2="295.4" stroke="#777" stroke-width="0.9"/><line x1="69.2" y1="292.8" x2="69.2" y2="295.4" stroke="#777" stroke-width="0.9"/><line x1="100.8" y1="292.8" x2="100.8" y2="295.4" stroke="#777" stroke-width="0.9"/><line x1="5.0" y1="291.8" x2="130.0" y2="291.8" stroke="#1a1a1a" stroke-width="1.6"/><g transform="translate(87.75,194.85) scale(1,1.080)"><text x="0.00" y="0" class="n">98.9</text></g><rect x="88.9" y="253.0" width="35.1" height="25.8" fill="none" stroke="#000" stroke-width="1.4"/><g transform="translate(91.70,269.00)"><text x="0.00" y="0" class="b">no. 6</text></g><rect x="4.0" y="170.0" width="127.0" height="128.3" fill="none" stroke="#000" stroke-width="2"/></g>
<g><clipPath id="c111"><rect x="132.0" y="171.0" width="125.0" height="121.3"/></clipPath><line x1="172.0" y1="287.5" x2="257.0" y2="287.5" stroke="#8a8a8a" stroke-width="0.9"/><g clip-path="url(#c111)"><path d="M132.0,291.8L132.0,291.8L132.6,291.5L133.2,290.8L133.8,289.1L134.4,286.4L135.0,285.7L135.6,286.4L136.2,285.0L136.8,285.6L137.4,284.3L138.0,290.2L138.6,283.6L139.2,290.5L139.8,282.9L140.4,285.6L141.0,284.1L141.6,286.4L142.2,282.7L142.8,285.7L143.4,280.9L144.0,289.3L144.6,280.7L145.2,279.7L145.8,279.0L146.4,278.3L147.0,277.7L147.6,277.8L148.2,277.1L148.8,275.7L149.4,284.8L150.0,276.6L150.6,274.3L151.2,275.0L151.8,282.4L152.4,270.3L153.0,269.4L153.6,268.4L154.2,267.4L154.8,266.4L155.4,279.5L156.0,265.2L156.6,262.5L157.2,261.2L157.8,272.7L158.4,266.3L159.0,260.7L159.6,256.1L160.2,254.2L160.8,266.5L161.4,254.4L162.0,263.5L162.6,245.5L163.2,259.6L163.8,248.6L164.4,256.6L165.0,232.2L165.6,255.0L166.2,232.5L166.8,219.7L167.4,221.2L168.0,212.1L168.6,231.7L169.2,218.2L169.8,208.8L170.4,198.2L171.0,195.3L171.6,196.6L172.2,189.7L172.8,210.8L173.4,196.9L174.0,201.5L174.6,188.0L175.2,200.9L175.8,190.6L176.4,193.0L177.0,208.0L177.6,208.2L178.2,201.2L178.8,227.0L179.4,210.6L180.0,218.3L180.6,245.8L181.2,227.8L181.8,253.7L182.4,240.4L183.0,251.4L183.6,267.8L184.2,258.6L184.8,271.7L185.4,269.5L186.0,281.6L186.6,276.9L187.2,286.2L187.8,284.5L188.4,285.2L189.0,289.7L189.6,291.5L190.2,291.8L190.8,289.8L191.4,291.2L192.0,291.5L192.6,291.8L193.2,290.8L193.8,291.5L194.4,291.5L195.0,291.3L195.6,291.5L196.2,291.5L196.8,291.8L197.4,291.5L198.0,291.5L198.6,291.8L199.2,291.8L199.8,289.9L200.4,291.8L201.0,291.6L201.6,291.5L202.2,291.8L202.8,291.8L203.4,291.1L204.0,291.6L204.6,291.6L205.2,291.8L205.8,291.5L206.4,291.8L207.0,291.5L207.6,291.6L208.2,290.1L208.8,291.5L209.4,291.5L210.0,291.8L210.6,289.9L211.2,291.8L211.8,291.5L212.4,291.5L213.0,291.8L213.6,291.5L214.2,291.1L214.8,290.3L215.4,290.7L216.0,291.8L216.6,290.3L217.2,291.6L217.8,291.5L218.4,291.8L219.0,291.5L219.6,291.8L220.2,291.5L220.8,291.5L221.4,291.8L222.0,291.8L222.6,291.6L223.2,290.9L223.8,291.5L224.4,291.6L225.0,291.8L225.6,291.5L226.2,291.5L226.8,291.5L227.4,291.8L228.0,291.5L228.6,291.5L229.2,291.5L229.8,291.4L230.4,291.5L231.0,291.8L231.6,291.8L232.2,290.5L232.8,291.2L233.4,290.0L234.0,291.8L234.6,291.6L235.2,291.7L235.8,289.6L236.4,291.5L237.0,291.8L237.6,291.8L238.2,291.8L238.8,291.8L239.4,291.5L240.0,291.5L240.6,291.5L241.2,291.5L241.8,290.6L242.4,291.5L243.0,291.7L243.6,291.5L244.2,291.8L244.8,291.5L245.4,291.6L246.0,291.8L246.6,291.8L247.2,291.5L247.8,291.5L248.4,291.8L249.0,291.3L249.6,290.3L250.2,291.8L250.8,291.8L251.4,290.8L252.0,291.8L252.6,291.3L253.2,291.5L253.8,291.5L254.4,291.5L255.0,291.8L255.6,291.8L256.2,291.8L256.8,291.8L256.8,291.8Z" fill="#838383" stroke="#000" stroke-width="1.0"/><clipPath id="f111"><path d="M132.0,291.8L132.0,291.8L132.6,291.5L133.2,290.8L133.8,289.1L134.4,286.4L135.0,285.7L135.6,286.4L136.2,285.0L136.8,285.6L137.4,284.3L138.0,290.2L138.6,283.6L139.2,290.5L139.8,282.9L140.4,285.6L141.0,284.1L141.6,286.4L142.2,282.7L142.8,285.7L143.4,280.9L144.0,289.3L144.6,280.7L145.2,279.7L145.8,279.0L146.4,278.3L147.0,277.7L147.6,277.8L148.2,277.1L148.8,275.7L149.4,284.8L150.0,276.6L150.6,274.3L151.2,275.0L151.8,282.4L152.4,270.3L153.0,269.4L153.6,268.4L154.2,267.4L154.8,266.4L155.4,279.5L156.0,265.2L156.6,262.5L157.2,261.2L157.8,272.7L158.4,266.3L159.0,260.7L159.6,256.1L160.2,254.2L160.8,266.5L161.4,254.4L162.0,263.5L162.6,245.5L163.2,259.6L163.8,248.6L164.4,256.6L165.0,232.2L165.6,255.0L166.2,232.5L166.8,219.7L167.4,221.2L168.0,212.1L168.6,231.7L169.2,218.2L169.8,208.8L170.4,198.2L171.0,195.3L171.6,196.6L172.2,189.7L172.8,210.8L173.4,196.9L174.0,201.5L174.6,188.0L175.2,200.9L175.8,190.6L176.4,193.0L177.0,208.0L177.6,208.2L178.2,201.2L178.8,227.0L179.4,210.6L180.0,218.3L180.6,245.8L181.2,227.8L181.8,253.7L182.4,240.4L183.0,251.4L183.6,267.8L184.2,258.6L184.8,271.7L185.4,269.5L186.0,281.6L186.6,276.9L187.2,286.2L187.8,284.5L188.4,285.2L189.0,289.7L189.6,291.5L190.2,291.8L190.8,289.8L191.4,291.2L192.0,291.5L192.6,291.8L193.2,290.8L193.8,291.5L194.4,291.5L195.0,291.3L195.6,291.5L196.2,291.5L196.8,291.8L197.4,291.5L198.0,291.5L198.6,291.8L199.2,291.8L199.8,289.9L200.4,291.8L201.0,291.6L201.6,291.5L202.2,291.8L202.8,291.8L203.4,291.1L204.0,291.6L204.6,291.6L205.2,291.8L205.8,291.5L206.4,291.8L207.0,291.5L207.6,291.6L208.2,290.1L208.8,291.5L209.4,291.5L210.0,291.8L210.6,289.9L211.2,291.8L211.8,291.5L212.4,291.5L213.0,291.8L213.6,291.5L214.2,291.1L214.8,290.3L215.4,290.7L216.0,291.8L216.6,290.3L217.2,291.6L217.8,291.5L218.4,291.8L219.0,291.5L219.6,291.8L220.2,291.5L220.8,291.5L221.4,291.8L222.0,291.8L222.6,291.6L223.2,290.9L223.8,291.5L224.4,291.6L225.0,291.8L225.6,291.5L226.2,291.5L226.8,291.5L227.4,291.8L228.0,291.5L228.6,291.5L229.2,291.5L229.8,291.4L230.4,291.5L231.0,291.8L231.6,291.8L232.2,290.5L232.8,291.2L233.4,290.0L234.0,291.8L234.6,291.6L235.2,291.7L235.8,289.6L236.4,291.5L237.0,291.8L237.6,291.8L238.2,291.8L238.8,291.8L239.4,291.5L240.0,291.5L240.6,291.5L241.2,291.5L241.8,290.6L242.4,291.5L243.0,291.7L243.6,291.5L244.2,291.8L244.8,291.5L245.4,291.6L246.0,291.8L246.6,291.8L247.2,291.5L247.8,291.5L248.4,291.8L249.0,291.3L249.6,290.3L250.2,291.8L250.8,291.8L251.4,290.8L252.0,291.8L252.6,291.3L253.2,291.5L253.8,291.5L254.4,291.5L255.0,291.8L255.6,291.8L256.2,291.8L256.8,291.8L256.8,291.8Z"/></clipPath><line x1="172.0" y1="287.5" x2="257.0" y2="287.5" stroke="#111" stroke-width="1.2" clip-path="url(#f111)"/><path d="M132.0,269.3L132.5,271.3L133.0,281.1L133.5,266.6L134.0,265.5L134.5,264.4L135.0,263.3L135.5,274.3L136.0,273.1L136.5,260.1L137.0,259.0L137.5,261.2L138.0,264.0L138.5,254.6L139.0,253.5L139.5,251.4L140.0,265.4L140.5,250.9L141.0,246.6L141.5,245.0L142.0,266.3L142.5,248.1L143.0,252.4L143.5,243.5L144.0,244.3L144.5,237.7L145.0,236.2L145.5,234.6L146.0,236.9L146.5,229.9L147.0,227.8L147.5,229.0L148.0,239.0L148.5,221.4L149.0,219.3L149.5,217.2L150.0,225.5L150.5,222.7L151.0,216.9L151.5,213.2L152.0,232.5L152.5,202.1L153.0,229.3L153.5,248.8L154.0,201.7L154.5,217.0L155.0,192.6L155.5,215.3L156.0,217.1L156.5,227.8L157.0,212.3L157.5,195.9L158.0,186.7L158.5,188.0L159.0,205.7L159.5,190.6L160.0,194.7L160.5,233.1L161.0,233.8L161.5,232.6L162.0,222.4L162.5,217.9L163.0,232.4L163.5,236.7L164.0,247.7L164.5,239.2L165.0,242.9L165.5,263.4L166.0,252.6L166.5,267.8L167.0,265.7L167.5,263.9L168.0,266.6L168.5,271.4L169.0,288.2L169.5,276.1L170.0,280.4L170.5,281.1L171.0,279.6L171.5,285.7L172.0,282.8L172.5,284.8L173.0,285.1L173.5,287.8L174.0,287.7L174.5,290.3L175.0,291.1L175.5,289.3L176.0,289.4L176.5,291.8L177.0,291.5L177.5,290.5L178.0,290.2L178.5,291.8L179.0,291.8L179.5,291.5L180.0,291.8L180.5,291.6L181.0,291.8L181.5,291.8L182.0,291.5L182.5,291.6L183.0,291.5L183.5,291.7L184.0,291.6L184.5,291.6L185.0,290.9L185.5,291.8L186.0,291.8L186.5,291.6L187.0,291.8L187.5,291.5L188.0,290.2L188.5,291.8L189.0,291.7L189.5,290.6L190.0,291.5L190.5,291.5L191.0,291.5L191.5,291.5L192.0,291.8L192.5,290.4L193.0,291.5L193.5,291.0L194.0,291.8L194.5,290.5L195.0,290.8L195.5,291.5L196.0,291.5L196.5,291.5L197.0,291.5L197.5,291.5L198.0,290.9L198.5,291.8L199.0,291.8L199.5,291.8L200.0,291.5L200.5,291.5L201.0,291.5L201.5,291.5L202.0,291.5L202.5,291.5L203.0,291.5L203.5,291.5L204.0,291.8L204.5,291.8L205.0,291.8L205.5,290.5L206.0,289.7L206.5,291.5L207.0,291.8L207.5,291.5L208.0,291.7L208.5,290.6L209.0,291.5L209.5,291.5L210.0,291.5L210.5,291.5L211.0,291.8L211.5,291.8L212.0,290.6L212.5,291.5L213.0,291.5L213.5,291.5L214.0,291.8L214.5,291.8L215.0,291.8L215.5,291.8L216.0,291.8L216.5,290.5L217.0,291.8L217.5,291.4L218.0,291.8L218.5,291.8L219.0,290.1L219.5,291.5L220.0,291.7L220.5,291.8L221.0,291.8L221.5,291.5L222.0,291.8L222.5,291.0L223.0,291.8L223.5,291.5L224.0,291.8L224.5,291.5L225.0,291.8L225.5,291.5L226.0,291.8L226.5,291.8L227.0,291.8L227.5,291.5L228.0,290.5L228.5,291.8L229.0,291.8L229.5,291.5L230.0,291.5L230.5,290.4L231.0,291.5L231.5,291.5L232.0,291.5L232.5,290.1L233.0,291.8L233.5,291.7L234.0,291.8L234.5,291.5L235.0,291.6L235.5,291.5L236.0,291.5L236.5,291.4L237.0,291.8L237.5,291.1L238.0,291.8L238.5,290.5L239.0,291.5L239.5,290.6L240.0,291.8L240.5,291.5L241.0,291.8L241.5,291.5L242.0,290.7L242.5,291.5L243.0,289.7L243.5,291.5L244.0,289.9L244.5,291.8L245.0,290.7L245.5,291.5L246.0,291.5L246.5,291.8L247.0,291.8L247.5,291.5L248.0,291.5L248.5,291.5L249.0,291.5L249.5,291.5L250.0,291.8L250.5,290.9L251.0,291.5L251.5,290.6L252.0,291.0L252.5,291.7L253.0,291.5L253.5,290.8L254.0,291.8L254.5,291.5L255.0,291.7L255.5,291.1L256.0,289.7L256.5,289.8L257.0,290.6" fill="none" stroke="#000" stroke-width="1.0"/></g><line x1="132.0" y1="294.4" x2="257.0" y2="294.4" stroke="#e6e6e6" stroke-width="1.6"/><line x1="133.0" y1="292.8" x2="133.0" y2="295.4" stroke="#777" stroke-width="0.9"/><line x1="164.6" y1="292.8" x2="164.6" y2="295.4" stroke="#777" stroke-width="0.9"/><line x1="196.2" y1="292.8" x2="196.2" y2="295.4" stroke="#777" stroke-width="0.9"/><line x1="227.8" y1="292.8" x2="227.8" y2="295.4" stroke="#777" stroke-width="0.9"/><line x1="132.0" y1="291.8" x2="257.0" y2="291.8" stroke="#1a1a1a" stroke-width="1.6"/><g transform="translate(216.35,195.40) scale(1,1.080)"><text x="0.00" y="0" class="n">58.</text><g transform="translate(19.74,0)"><text x="0" y="0" class="n" clip-path="url(#one_n)">1</text></g></g><rect x="209.7" y="253.0" width="41.9" height="25.6" fill="none" stroke="#000" stroke-width="1.4"/><g transform="translate(215.20,269.30)"><text x="0.00" y="0" class="b">no. </text><g transform="translate(19.91,0)"><text x="0" y="0" class="b" clip-path="url(#one_b)">1</text></g><g transform="translate(26.14,0)"><text x="0" y="0" class="b" clip-path="url(#one_b)">1</text></g></g><rect x="131.0" y="170.0" width="127.0" height="128.3" fill="none" stroke="#000" stroke-width="2"/></g>
<g><clipPath id="c112"><rect x="259.0" y="171.0" width="125.0" height="121.3"/></clipPath><line x1="300.0" y1="284.0" x2="384.0" y2="284.0" stroke="#8a8a8a" stroke-width="0.9"/><g clip-path="url(#c112)"><path d="M259.0,291.8L259.0,286.2L259.6,285.7L260.2,285.7L260.8,286.8L261.4,286.9L262.0,289.7L262.6,285.7L263.2,287.9L263.8,288.2L264.4,288.4L265.0,285.7L265.6,285.7L266.2,291.8L266.8,286.1L267.4,285.7L268.0,286.7L268.6,286.2L269.2,285.7L269.8,287.4L270.4,287.3L271.0,285.7L271.6,285.7L272.2,285.6L272.8,291.6L273.4,286.6L274.0,286.7L274.6,284.9L275.2,286.9L275.8,285.0L276.4,289.9L277.0,289.8L277.6,284.8L278.2,283.9L278.8,288.4L279.4,290.6L280.0,283.3L280.6,283.2L281.2,283.0L281.8,284.5L282.4,282.5L283.0,283.6L283.6,282.9L284.2,281.4L284.8,284.0L285.4,283.7L286.0,281.6L286.6,282.1L287.2,279.4L287.8,280.8L288.4,278.1L289.0,285.1L289.6,276.8L290.2,276.1L290.8,275.5L291.4,285.3L292.0,279.2L292.6,290.5L293.2,272.8L293.8,274.4L294.4,271.6L295.0,270.9L295.6,270.3L296.2,275.5L296.8,271.3L297.4,266.1L298.0,280.5L298.6,262.3L299.2,260.0L299.8,257.4L300.4,259.6L301.0,252.4L301.6,266.9L302.2,258.8L302.8,251.7L303.4,252.4L304.0,239.7L304.6,237.2L305.2,263.4L305.8,231.6L306.4,228.7L307.0,231.5L307.6,234.5L308.2,220.0L308.8,217.1L309.4,212.7L310.0,232.9L310.6,215.6L311.2,200.2L311.8,198.2L312.4,203.7L313.0,198.9L313.6,215.1L314.2,225.5L314.8,182.1L315.4,206.5L316.0,206.9L316.6,177.0L317.2,175.4L317.8,183.3L318.4,172.5L319.0,175.0L319.6,223.9L320.2,172.5L320.8,192.2L321.4,172.5L322.0,179.8L322.6,177.1L323.2,184.1L323.8,193.2L324.4,173.9L325.0,174.9L325.6,176.4L326.2,190.5L326.8,179.2L327.4,180.7L328.0,183.0L328.6,212.1L329.2,195.4L329.8,215.4L330.4,222.3L331.0,215.6L331.6,220.7L332.2,236.1L332.8,250.2L333.4,253.1L334.0,244.5L334.6,266.9L335.2,250.9L335.8,255.4L336.4,260.2L337.0,264.3L337.6,275.6L338.2,277.0L338.8,275.2L339.4,282.3L340.0,281.8L340.6,283.8L341.2,285.2L341.8,289.6L342.4,291.3L343.0,291.8L343.6,291.8L344.2,290.7L344.8,291.8L345.4,291.8L346.0,291.5L346.6,291.5L347.2,291.6L347.8,291.6L348.4,291.8L349.0,291.8L349.6,291.5L350.2,291.8L350.8,291.1L351.4,291.6L352.0,291.5L352.6,291.7L353.2,291.0L353.8,291.5L354.4,291.1L355.0,291.5L355.6,291.8L356.2,291.8L356.8,291.8L357.4,291.8L358.0,291.5L358.6,291.8L359.2,291.8L359.8,291.8L360.4,291.5L361.0,291.5L361.6,291.5L362.2,291.5L362.8,291.8L363.4,291.8L364.0,291.5L364.6,291.5L365.2,291.5L365.8,291.5L366.4,291.6L367.0,291.5L367.6,291.8L368.2,291.5L368.8,291.7L369.4,291.5L370.0,291.8L370.6,291.5L371.2,291.8L371.8,291.5L372.4,291.8L373.0,290.6L373.6,291.8L374.2,291.8L374.8,291.8L375.4,291.5L376.0,289.6L376.6,291.2L377.2,291.5L377.8,291.5L378.4,291.5L379.0,291.5L379.6,291.8L380.2,291.5L380.8,291.8L381.4,291.8L382.0,291.8L382.6,291.8L383.2,291.7L383.8,290.1L383.8,291.8Z" fill="#838383" stroke="#000" stroke-width="1.0"/><clipPath id="f112"><path d="M259.0,291.8L259.0,286.2L259.6,285.7L260.2,285.7L260.8,286.8L261.4,286.9L262.0,289.7L262.6,285.7L263.2,287.9L263.8,288.2L264.4,288.4L265.0,285.7L265.6,285.7L266.2,291.8L266.8,286.1L267.4,285.7L268.0,286.7L268.6,286.2L269.2,285.7L269.8,287.4L270.4,287.3L271.0,285.7L271.6,285.7L272.2,285.6L272.8,291.6L273.4,286.6L274.0,286.7L274.6,284.9L275.2,286.9L275.8,285.0L276.4,289.9L277.0,289.8L277.6,284.8L278.2,283.9L278.8,288.4L279.4,290.6L280.0,283.3L280.6,283.2L281.2,283.0L281.8,284.5L282.4,282.5L283.0,283.6L283.6,282.9L284.2,281.4L284.8,284.0L285.4,283.7L286.0,281.6L286.6,282.1L287.2,279.4L287.8,280.8L288.4,278.1L289.0,285.1L289.6,276.8L290.2,276.1L290.8,275.5L291.4,285.3L292.0,279.2L292.6,290.5L293.2,272.8L293.8,274.4L294.4,271.6L295.0,270.9L295.6,270.3L296.2,275.5L296.8,271.3L297.4,266.1L298.0,280.5L298.6,262.3L299.2,260.0L299.8,257.4L300.4,259.6L301.0,252.4L301.6,266.9L302.2,258.8L302.8,251.7L303.4,252.4L304.0,239.7L304.6,237.2L305.2,263.4L305.8,231.6L306.4,228.7L307.0,231.5L307.6,234.5L308.2,220.0L308.8,217.1L309.4,212.7L310.0,232.9L310.6,215.6L311.2,200.2L311.8,198.2L312.4,203.7L313.0,198.9L313.6,215.1L314.2,225.5L314.8,182.1L315.4,206.5L316.0,206.9L316.6,177.0L317.2,175.4L317.8,183.3L318.4,172.5L319.0,175.0L319.6,223.9L320.2,172.5L320.8,192.2L321.4,172.5L322.0,179.8L322.6,177.1L323.2,184.1L323.8,193.2L324.4,173.9L325.0,174.9L325.6,176.4L326.2,190.5L326.8,179.2L327.4,180.7L328.0,183.0L328.6,212.1L329.2,195.4L329.8,215.4L330.4,222.3L331.0,215.6L331.6,220.7L332.2,236.1L332.8,250.2L333.4,253.1L334.0,244.5L334.6,266.9L335.2,250.9L335.8,255.4L336.4,260.2L337.0,264.3L337.6,275.6L338.2,277.0L338.8,275.2L339.4,282.3L340.0,281.8L340.6,283.8L341.2,285.2L341.8,289.6L342.4,291.3L343.0,291.8L343.6,291.8L344.2,290.7L344.8,291.8L345.4,291.8L346.0,291.5L346.6,291.5L347.2,291.6L347.8,291.6L348.4,291.8L349.0,291.8L349.6,291.5L350.2,291.8L350.8,291.1L351.4,291.6L352.0,291.5L352.6,291.7L353.2,291.0L353.8,291.5L354.4,291.1L355.0,291.5L355.6,291.8L356.2,291.8L356.8,291.8L357.4,291.8L358.0,291.5L358.6,291.8L359.2,291.8L359.8,291.8L360.4,291.5L361.0,291.5L361.6,291.5L362.2,291.5L362.8,291.8L363.4,291.8L364.0,291.5L364.6,291.5L365.2,291.5L365.8,291.5L366.4,291.6L367.0,291.5L367.6,291.8L368.2,291.5L368.8,291.7L369.4,291.5L370.0,291.8L370.6,291.5L371.2,291.8L371.8,291.5L372.4,291.8L373.0,290.6L373.6,291.8L374.2,291.8L374.8,291.8L375.4,291.5L376.0,289.6L376.6,291.2L377.2,291.5L377.8,291.5L378.4,291.5L379.0,291.5L379.6,291.8L380.2,291.5L380.8,291.8L381.4,291.8L382.0,291.8L382.6,291.8L383.2,291.7L383.8,290.1L383.8,291.8Z"/></clipPath><line x1="300.0" y1="284.0" x2="384.0" y2="284.0" stroke="#111" stroke-width="1.2" clip-path="url(#f112)"/><path d="M259.0,288.4L259.5,275.9L260.0,278.4L260.5,269.7L261.0,267.5L261.5,271.5L262.0,269.6L262.5,262.2L263.0,267.4L263.5,260.1L264.0,281.9L264.5,257.8L265.0,256.2L265.5,279.4L266.0,263.3L266.5,265.0L267.0,249.8L267.5,249.2L268.0,246.6L268.5,259.4L269.0,243.4L269.5,242.0L270.0,240.9L270.5,239.9L271.0,240.2L271.5,237.7L272.0,243.3L272.5,248.6L273.0,242.2L273.5,228.0L274.0,225.4L274.5,252.4L275.0,222.7L275.5,216.2L276.0,215.6L276.5,211.0L277.0,207.1L277.5,205.9L278.0,206.3L278.5,216.0L279.0,196.7L279.5,194.0L280.0,224.8L280.5,192.2L281.0,186.2L281.5,208.2L282.0,181.0L282.5,187.8L283.0,187.4L283.5,198.4L284.0,172.6L284.5,198.6L285.0,172.5L285.5,179.6L286.0,189.6L286.5,208.1L287.0,177.4L287.5,179.3L288.0,186.4L288.5,172.5L289.0,173.3L289.5,176.4L290.0,190.5L290.5,182.7L291.0,222.9L291.5,201.6L292.0,216.8L292.5,207.1L293.0,230.3L293.5,212.0L294.0,226.8L294.5,241.1L295.0,248.5L295.5,244.3L296.0,250.1L296.5,260.7L297.0,259.5L297.5,267.2L298.0,278.4L298.5,265.3L299.0,268.9L299.5,275.3L300.0,275.2L300.5,286.3L301.0,282.0L301.5,283.0L302.0,287.1L302.5,285.3L303.0,290.4L303.5,289.4L304.0,291.5L304.5,291.1L305.0,291.8L305.5,291.8L306.0,291.8L306.5,290.8L307.0,291.8L307.5,291.8L308.0,291.8L308.5,291.7L309.0,290.3L309.5,291.5L310.0,291.5L310.5,291.5L311.0,290.9L311.5,291.8L312.0,291.5L312.5,291.5L313.0,291.8L313.5,291.8L314.0,291.8L314.5,291.5L315.0,291.5L315.5,291.5L316.0,291.8L316.5,291.5L317.0,291.5L317.5,291.5L318.0,291.8L318.5,291.8L319.0,289.7L319.5,291.8L320.0,291.8L320.5,291.8L321.0,291.8L321.5,291.5L322.0,291.8L322.5,291.8L323.0,291.8L323.5,291.8L324.0,291.8L324.5,291.8L325.0,291.5L325.5,291.8L326.0,291.8L326.5,291.8L327.0,291.8L327.5,291.5L328.0,291.8L328.5,291.5L329.0,290.2L329.5,291.8L330.0,291.8L330.5,291.5L331.0,291.8L331.5,291.6L332.0,291.5L332.5,291.8L333.0,291.8L333.5,291.8L334.0,291.1L334.5,291.8L335.0,290.0L335.5,291.8L336.0,291.5L336.5,290.4L337.0,291.5L337.5,291.5L338.0,291.3L338.5,290.9L339.0,291.7L339.5,291.8L340.0,291.8L340.5,291.8L341.0,291.6L341.5,291.8L342.0,291.8L342.5,291.5L343.0,291.8L343.5,291.8L344.0,291.5L344.5,290.9L345.0,290.7L345.5,291.8L346.0,290.9L346.5,291.8L347.0,291.8L347.5,291.5L348.0,291.8L348.5,291.5L349.0,291.8L349.5,291.8L350.0,289.7L350.5,291.5L351.0,291.8L351.5,291.5L352.0,291.5L352.5,291.8L353.0,291.5L353.5,291.3L354.0,291.8L354.5,291.8L355.0,291.5L355.5,291.7L356.0,290.2L356.5,291.5L357.0,291.5L357.5,291.2L358.0,291.7L358.5,291.8L359.0,291.8L359.5,291.5L360.0,291.5L360.5,291.5L361.0,291.8L361.5,291.8L362.0,291.8L362.5,291.6L363.0,291.7L363.5,291.7L364.0,290.0L364.5,290.3L365.0,291.8L365.5,291.8L366.0,291.8L366.5,291.5L367.0,291.8L367.5,291.5L368.0,291.8L368.5,291.8L369.0,290.4L369.5,291.8L370.0,291.5L370.5,291.8L371.0,291.5L371.5,291.8L372.0,291.8L372.5,291.8L373.0,291.8L373.5,291.8L374.0,290.7L374.5,289.6L375.0,291.5L375.5,291.8L376.0,291.5L376.5,291.7L377.0,291.5L377.5,291.8L378.0,291.8L378.5,291.8L379.0,291.7L379.5,291.5L380.0,291.8L380.5,291.5L381.0,291.8L381.5,291.8L382.0,291.5L382.5,291.8L383.0,291.8L383.5,291.8L384.0,290.4" fill="none" stroke="#000" stroke-width="1.0"/></g><line x1="259.0" y1="294.4" x2="384.0" y2="294.4" stroke="#e6e6e6" stroke-width="1.6"/><line x1="260.0" y1="292.8" x2="260.0" y2="295.4" stroke="#777" stroke-width="0.9"/><line x1="291.6" y1="292.8" x2="291.6" y2="295.4" stroke="#777" stroke-width="0.9"/><line x1="323.2" y1="292.8" x2="323.2" y2="295.4" stroke="#777" stroke-width="0.9"/><line x1="354.8" y1="292.8" x2="354.8" y2="295.4" stroke="#777" stroke-width="0.9"/><line x1="259.0" y1="291.8" x2="384.0" y2="291.8" stroke="#1a1a1a" stroke-width="1.6"/><g transform="translate(341.05,195.70) scale(1,1.080)"><text x="0.00" y="0" class="n">90.2</text></g><rect x="336.5" y="253.0" width="41.5" height="25.6" fill="none" stroke="#000" stroke-width="1.4"/><g transform="translate(342.70,268.40)"><text x="0.00" y="0" class="b">no. </text><g transform="translate(19.91,0)"><text x="0" y="0" class="b" clip-path="url(#one_b)">1</text></g><text x="26.14" y="0" class="b">4</text></g><rect x="258.0" y="170.0" width="127.0" height="128.3" fill="none" stroke="#000" stroke-width="2"/></g>
<g><clipPath id="c113"><rect x="386.0" y="171.0" width="125.0" height="121.3"/></clipPath><line x1="432.0" y1="282.3" x2="511.0" y2="282.3" stroke="#8a8a8a" stroke-width="0.9"/><g clip-path="url(#c113)"><path d="M386.0,291.8L386.0,291.5L386.6,291.8L387.2,291.5L387.8,289.8L388.4,291.6L389.0,291.8L389.6,291.8L390.2,290.1L390.8,291.8L391.4,289.9L392.0,289.6L392.6,291.8L393.2,291.8L393.8,291.3L394.4,291.7L395.0,291.8L395.6,291.8L396.2,291.5L396.8,291.6L397.4,291.8L398.0,291.5L398.6,289.7L399.2,289.9L399.8,291.5L400.4,291.8L401.0,291.8L401.6,290.1L402.2,291.6L402.8,291.7L403.4,291.8L404.0,291.8L404.6,291.5L405.2,291.7L405.8,291.5L406.4,291.5L407.0,291.6L407.6,289.9L408.2,291.5L408.8,291.7L409.4,291.3L410.0,291.8L410.6,291.8L411.2,290.3L411.8,291.2L412.4,291.8L413.0,285.3L413.6,291.8L414.2,283.0L414.8,290.6L415.4,280.8L416.0,285.4L416.6,281.1L417.2,280.4L417.8,285.3L418.4,290.8L419.0,272.3L419.6,270.6L420.2,268.8L420.8,271.2L421.4,278.2L422.0,277.0L422.6,259.8L423.2,257.1L423.8,254.1L424.4,250.9L425.0,257.8L425.6,248.4L426.2,259.5L426.8,257.8L427.4,235.4L428.0,236.8L428.6,225.5L429.2,241.3L429.8,218.3L430.4,205.7L431.0,200.1L431.6,197.8L432.2,195.7L432.8,184.0L433.4,195.4L434.0,196.5L434.6,173.5L435.2,191.9L435.8,188.2L436.4,181.2L437.0,186.7L437.6,192.1L438.2,231.0L438.8,212.1L439.4,233.7L440.0,230.7L440.6,251.2L441.2,230.4L441.8,237.6L442.4,245.8L443.0,254.5L443.6,267.5L444.2,264.8L444.8,266.1L445.4,277.2L446.0,276.0L446.6,277.9L447.2,288.0L447.8,283.9L448.4,290.4L449.0,286.4L449.6,289.4L450.2,291.5L450.8,291.6L451.4,291.5L452.0,291.8L452.6,291.5L453.2,291.5L453.8,291.8L454.4,290.0L455.0,291.5L455.6,291.5L456.2,291.5L456.8,291.5L457.4,290.9L458.0,291.8L458.6,291.5L459.2,291.5L459.8,291.5L460.4,290.4L461.0,290.9L461.6,291.8L462.2,291.5L462.8,291.8L463.4,290.2L464.0,291.6L464.6,291.8L465.2,291.8L465.8,291.5L466.4,291.8L467.0,291.8L467.6,291.8L468.2,291.5L468.8,291.8L469.4,291.8L470.0,291.5L470.6,291.5L471.2,291.5L471.8,291.5L472.4,291.8L473.0,291.8L473.6,291.5L474.2,291.5L474.8,291.5L475.4,291.6L476.0,291.6L476.6,291.5L477.2,291.5L477.8,291.5L478.4,291.5L479.0,291.8L479.6,290.9L480.2,291.8L480.8,291.8L481.4,290.8L482.0,291.5L482.6,291.5L483.2,291.8L483.8,291.7L484.4,290.9L485.0,289.8L485.6,291.8L486.2,290.5L486.8,291.5L487.4,291.5L488.0,291.8L488.6,291.5L489.2,291.8L489.8,291.8L490.4,291.5L491.0,291.8L491.6,291.6L492.2,291.5L492.8,291.0L493.4,291.6L494.0,291.5L494.6,291.5L495.2,291.8L495.8,291.5L496.4,291.0L497.0,291.5L497.6,290.3L498.2,290.8L498.8,291.5L499.4,291.3L500.0,291.2L500.6,290.0L501.2,291.8L501.8,291.8L502.4,291.5L503.0,291.8L503.6,291.6L504.2,289.8L504.8,291.8L505.4,291.7L506.0,290.5L506.6,291.5L507.2,291.5L507.8,290.0L508.4,291.5L509.0,291.5L509.6,291.5L510.2,291.7L510.8,291.8L510.8,291.8Z" fill="#838383" stroke="#000" stroke-width="1.0"/><clipPath id="f113"><path d="M386.0,291.8L386.0,291.5L386.6,291.8L387.2,291.5L387.8,289.8L388.4,291.6L389.0,291.8L389.6,291.8L390.2,290.1L390.8,291.8L391.4,289.9L392.0,289.6L392.6,291.8L393.2,291.8L393.8,291.3L394.4,291.7L395.0,291.8L395.6,291.8L396.2,291.5L396.8,291.6L397.4,291.8L398.0,291.5L398.6,289.7L399.2,289.9L399.8,291.5L400.4,291.8L401.0,291.8L401.6,290.1L402.2,291.6L402.8,291.7L403.4,291.8L404.0,291.8L404.6,291.5L405.2,291.7L405.8,291.5L406.4,291.5L407.0,291.6L407.6,289.9L408.2,291.5L408.8,291.7L409.4,291.3L410.0,291.8L410.6,291.8L411.2,290.3L411.8,291.2L412.4,291.8L413.0,285.3L413.6,291.8L414.2,283.0L414.8,290.6L415.4,280.8L416.0,285.4L416.6,281.1L417.2,280.4L417.8,285.3L418.4,290.8L419.0,272.3L419.6,270.6L420.2,268.8L420.8,271.2L421.4,278.2L422.0,277.0L422.6,259.8L423.2,257.1L423.8,254.1L424.4,250.9L425.0,257.8L425.6,248.4L426.2,259.5L426.8,257.8L427.4,235.4L428.0,236.8L428.6,225.5L429.2,241.3L429.8,218.3L430.4,205.7L431.0,200.1L431.6,197.8L432.2,195.7L432.8,184.0L433.4,195.4L434.0,196.5L434.6,173.5L435.2,191.9L435.8,188.2L436.4,181.2L437.0,186.7L437.6,192.1L438.2,231.0L438.8,212.1L439.4,233.7L440.0,230.7L440.6,251.2L441.2,230.4L441.8,237.6L442.4,245.8L443.0,254.5L443.6,267.5L444.2,264.8L444.8,266.1L445.4,277.2L446.0,276.0L446.6,277.9L447.2,288.0L447.8,283.9L448.4,290.4L449.0,286.4L449.6,289.4L450.2,291.5L450.8,291.6L451.4,291.5L452.0,291.8L452.6,291.5L453.2,291.5L453.8,291.8L454.4,290.0L455.0,291.5L455.6,291.5L456.2,291.5L456.8,291.5L457.4,290.9L458.0,291.8L458.6,291.5L459.2,291.5L459.8,291.5L460.4,290.4L461.0,290.9L461.6,291.8L462.2,291.5L462.8,291.8L463.4,290.2L464.0,291.6L464.6,291.8L465.2,291.8L465.8,291.5L466.4,291.8L467.0,291.8L467.6,291.8L468.2,291.5L468.8,291.8L469.4,291.8L470.0,291.5L470.6,291.5L471.2,291.5L471.8,291.5L472.4,291.8L473.0,291.8L473.6,291.5L474.2,291.5L474.8,291.5L475.4,291.6L476.0,291.6L476.6,291.5L477.2,291.5L477.8,291.5L478.4,291.5L479.0,291.8L479.6,290.9L480.2,291.8L480.8,291.8L481.4,290.8L482.0,291.5L482.6,291.5L483.2,291.8L483.8,291.7L484.4,290.9L485.0,289.8L485.6,291.8L486.2,290.5L486.8,291.5L487.4,291.5L488.0,291.8L488.6,291.5L489.2,291.8L489.8,291.8L490.4,291.5L491.0,291.8L491.6,291.6L492.2,291.5L492.8,291.0L493.4,291.6L494.0,291.5L494.6,291.5L495.2,291.8L495.8,291.5L496.4,291.0L497.0,291.5L497.6,290.3L498.2,290.8L498.8,291.5L499.4,291.3L500.0,291.2L500.6,290.0L501.2,291.8L501.8,291.8L502.4,291.5L503.0,291.8L503.6,291.6L504.2,289.8L504.8,291.8L505.4,291.7L506.0,290.5L506.6,291.5L507.2,291.5L507.8,290.0L508.4,291.5L509.0,291.5L509.6,291.5L510.2,291.7L510.8,291.8L510.8,291.8Z"/></clipPath><line x1="432.0" y1="282.3" x2="511.0" y2="282.3" stroke="#111" stroke-width="1.2" clip-path="url(#f113)"/><path d="M386.0,289.7L386.5,291.5L387.0,291.6L387.5,291.8L388.0,291.7L388.5,291.8L389.0,291.6L389.5,291.8L390.0,289.8L390.5,289.2L391.0,289.0L391.5,288.8L392.0,288.7L392.5,290.2L393.0,289.1L393.5,285.6L394.0,286.8L394.5,286.8L395.0,289.2L395.5,284.5L396.0,291.8L396.5,290.7L397.0,283.6L397.5,286.6L398.0,287.3L398.5,282.7L399.0,282.9L399.5,290.3L400.0,283.9L400.5,280.6L401.0,285.1L401.5,279.4L402.0,278.9L402.5,278.3L403.0,277.7L403.5,288.4L404.0,277.5L404.5,275.2L405.0,274.1L405.5,283.6L406.0,272.4L406.5,270.8L407.0,269.7L407.5,289.7L408.0,277.2L408.5,264.0L409.0,268.2L409.5,259.6L410.0,257.2L410.5,258.2L411.0,250.7L411.5,247.5L412.0,244.4L412.5,249.8L413.0,248.8L413.5,232.3L414.0,228.1L414.5,248.8L415.0,231.2L415.5,218.3L416.0,210.0L416.5,213.8L417.0,224.8L417.5,195.9L418.0,191.2L418.5,186.5L419.0,185.3L419.5,180.9L420.0,188.2L420.5,172.5L421.0,172.5L421.5,172.5L422.0,178.2L422.5,200.2L423.0,179.0L423.5,184.2L424.0,189.4L424.5,194.6L425.0,199.9L425.5,234.0L426.0,210.3L426.5,231.8L427.0,220.8L427.5,235.8L428.0,231.1L428.5,235.6L429.0,240.1L429.5,252.1L430.0,262.1L430.5,256.5L431.0,258.6L431.5,263.4L432.0,275.3L432.5,273.5L433.0,272.6L433.5,275.1L434.0,280.2L434.5,278.5L435.0,280.2L435.5,283.3L436.0,285.3L436.5,287.2L437.0,284.8L437.5,289.2L438.0,289.1L438.5,289.3L439.0,289.1L439.5,289.5L440.0,290.3L440.5,289.7L441.0,290.5L441.5,290.0L442.0,291.5L442.5,291.5L443.0,290.6L443.5,291.5L444.0,291.5L444.5,291.8L445.0,291.8L445.5,291.8L446.0,291.5L446.5,291.8L447.0,291.8L447.5,291.5L448.0,291.6L448.5,291.8L449.0,291.5L449.5,290.5L450.0,291.5L450.5,291.8L451.0,291.5L451.5,291.3L452.0,291.8L452.5,291.5L453.0,291.8L453.5,291.5L454.0,290.4L454.5,290.5L455.0,291.5L455.5,291.8L456.0,289.9L456.5,291.5L457.0,289.9L457.5,291.5L458.0,291.8L458.5,291.5L459.0,291.8L459.5,291.8L460.0,291.5L460.5,290.1L461.0,291.8L461.5,291.8L462.0,291.5L462.5,290.5L463.0,291.5L463.5,291.6L464.0,290.1L464.5,291.0L465.0,291.8L465.5,291.4L466.0,291.8L466.5,291.8L467.0,291.5L467.5,291.5L468.0,291.5L468.5,290.9L469.0,291.5L469.5,291.6L470.0,291.5L470.5,289.8L471.0,289.9L471.5,291.5L472.0,291.5L472.5,291.8L473.0,291.2L473.5,291.8L474.0,291.2L474.5,291.5L475.0,291.6L475.5,291.8L476.0,291.8L476.5,291.8L477.0,291.5L477.5,291.5L478.0,291.5L478.5,291.8L479.0,291.8L479.5,291.8L480.0,290.9L480.5,291.5L481.0,291.5L481.5,291.5L482.0,291.8L482.5,291.5L483.0,290.2L483.5,290.1L484.0,291.8L484.5,291.8L485.0,291.8L485.5,291.5L486.0,291.8L486.5,291.8L487.0,291.5L487.5,291.8L488.0,291.5L488.5,291.8L489.0,290.8L489.5,291.8L490.0,291.8L490.5,291.5L491.0,291.8L491.5,291.5L492.0,291.5L492.5,291.5L493.0,291.8L493.5,291.5L494.0,291.6L494.5,291.5L495.0,290.1L495.5,291.5L496.0,289.9L496.5,291.8L497.0,291.8L497.5,291.5L498.0,291.5L498.5,291.3L499.0,291.8L499.5,291.8L500.0,291.5L500.5,291.8L501.0,291.8L501.5,290.7L502.0,291.5L502.5,291.5L503.0,291.5L503.5,291.8L504.0,291.8L504.5,291.2L505.0,291.5L505.5,291.5L506.0,291.5L506.5,291.5L507.0,291.8L507.5,291.8L508.0,291.8L508.5,291.2L509.0,291.5L509.5,291.8L510.0,291.8L510.5,291.5L511.0,291.8" fill="none" stroke="#000" stroke-width="1.0"/></g><line x1="386.0" y1="294.4" x2="511.0" y2="294.4" stroke="#e6e6e6" stroke-width="1.6"/><line x1="387.0" y1="292.8" x2="387.0" y2="295.4" stroke="#777" stroke-width="0.9"/><line x1="418.6" y1="292.8" x2="418.6" y2="295.4" stroke="#777" stroke-width="0.9"/><line x1="450.2" y1="292.8" x2="450.2" y2="295.4" stroke="#777" stroke-width="0.9"/><line x1="481.8" y1="292.8" x2="481.8" y2="295.4" stroke="#777" stroke-width="0.9"/><line x1="386.0" y1="291.8" x2="511.0" y2="291.8" stroke="#1a1a1a" stroke-width="1.6"/><g transform="translate(466.60,195.70) scale(1,1.080)"><text x="0.00" y="0" class="n">59.0</text></g><rect x="464.7" y="253.0" width="41.4" height="25.6" fill="none" stroke="#000" stroke-width="1.4"/><g transform="translate(468.85,269.30)"><text x="0.00" y="0" class="b">no. 2</text><g transform="translate(26.14,0)"><text x="0" y="0" class="b" clip-path="url(#one_b)">1</text></g></g><rect x="385.0" y="170.0" width="127.0" height="128.3" fill="none" stroke="#000" stroke-width="2"/></g>
<g><clipPath id="c120"><rect x="5.0" y="299.3" width="125.0" height="121.4"/></clipPath><line x1="38.0" y1="413.8" x2="130.0" y2="413.8" stroke="#8a8a8a" stroke-width="0.9"/><g clip-path="url(#c120)"><path d="M5.0,420.2L5.0,413.6L5.6,416.2L6.2,414.3L6.8,413.9L7.4,411.6L8.0,410.8L8.6,413.9L9.2,409.4L9.8,408.7L10.4,410.2L11.0,411.9L11.6,413.9L12.2,407.9L12.8,405.4L13.4,407.3L14.0,405.0L14.6,410.4L15.2,402.8L15.8,402.0L16.4,400.9L17.0,400.0L17.6,399.0L18.2,405.3L18.8,399.8L19.4,406.9L20.0,400.0L20.6,405.9L21.2,391.6L21.8,409.0L22.4,387.8L23.0,387.1L23.6,399.6L24.2,382.1L24.8,380.2L25.4,377.7L26.0,379.8L26.6,371.4L27.2,369.1L27.8,364.8L28.4,363.5L29.0,356.0L29.6,367.1L30.2,358.8L30.8,360.3L31.4,344.4L32.0,354.9L32.6,331.4L33.2,336.8L33.8,344.2L34.4,315.4L35.0,309.8L35.6,308.5L36.2,307.2L36.8,314.3L37.4,315.2L38.0,338.9L38.6,312.1L39.2,345.2L39.8,337.6L40.4,343.7L41.0,349.8L41.6,339.1L42.2,357.0L42.8,361.3L43.4,358.4L44.0,380.9L44.6,385.3L45.2,377.6L45.8,390.1L46.4,405.8L47.0,394.5L47.6,410.1L48.2,404.0L48.8,406.9L49.4,408.5L50.0,410.4L50.6,414.9L51.2,415.2L51.8,420.2L52.4,419.9L53.0,420.2L53.6,418.8L54.2,419.9L54.8,419.9L55.4,419.9L56.0,420.2L56.6,420.2L57.2,420.2L57.8,420.1L58.4,418.0L59.0,420.2L59.6,420.2L60.2,418.2L60.8,420.2L61.4,418.7L62.0,419.9L62.6,419.9L63.2,418.1L63.8,420.2L64.4,419.6L65.0,419.9L65.6,419.9L66.2,420.2L66.8,420.2L67.4,419.8L68.0,419.9L68.6,419.9L69.2,420.0L69.8,420.2L70.4,419.4L71.0,419.9L71.6,419.9L72.2,419.9L72.8,419.9L73.4,419.9L74.0,418.9L74.6,419.2L75.2,420.0L75.8,420.2L76.4,419.9L77.0,420.2L77.6,419.9L78.2,419.9L78.8,420.2L79.4,419.9L80.0,418.4L80.6,420.2L81.2,420.1L81.8,419.9L82.4,420.2L83.0,420.2L83.6,419.9L84.2,420.2L84.8,420.2L85.4,420.2L86.0,419.5L86.6,419.9L87.2,419.9L87.8,419.9L88.4,419.9L89.0,418.6L89.6,420.2L90.2,419.9L90.8,419.9L91.4,418.2L92.0,420.2L92.6,419.9L93.2,419.9L93.8,418.3L94.4,419.5L95.0,419.9L95.6,420.2L96.2,420.2L96.8,420.2L97.4,420.1L98.0,419.9L98.6,419.9L99.2,419.9L99.8,419.1L100.4,420.2L101.0,419.9L101.6,418.5L102.2,420.2L102.8,419.8L103.4,419.9L104.0,419.9L104.6,419.8L105.2,419.9L105.8,420.1L106.4,419.9L107.0,419.9L107.6,419.9L108.2,420.2L108.8,418.9L109.4,418.9L110.0,419.9L110.6,419.9L111.2,420.2L111.8,420.2L112.4,420.2L113.0,420.2L113.6,419.9L114.2,419.9L114.8,419.2L115.4,420.2L116.0,420.1L116.6,419.9L117.2,420.2L117.8,420.2L118.4,419.9L119.0,419.9L119.6,420.2L120.2,419.9L120.8,420.2L121.4,418.9L122.0,419.9L122.6,419.9L123.2,419.9L123.8,419.7L124.4,420.2L125.0,420.2L125.6,420.2L126.2,420.1L126.8,420.2L127.4,419.2L128.0,419.9L128.6,419.9L129.2,419.9L129.8,420.2L129.8,420.2Z" fill="#838383" stroke="#000" stroke-width="1.0"/><clipPath id="f120"><path d="M5.0,420.2L5.0,413.6L5.6,416.2L6.2,414.3L6.8,413.9L7.4,411.6L8.0,410.8L8.6,413.9L9.2,409.4L9.8,408.7L10.4,410.2L11.0,411.9L11.6,413.9L12.2,407.9L12.8,405.4L13.4,407.3L14.0,405.0L14.6,410.4L15.2,402.8L15.8,402.0L16.4,400.9L17.0,400.0L17.6,399.0L18.2,405.3L18.8,399.8L19.4,406.9L20.0,400.0L20.6,405.9L21.2,391.6L21.8,409.0L22.4,387.8L23.0,387.1L23.6,399.6L24.2,382.1L24.8,380.2L25.4,377.7L26.0,379.8L26.6,371.4L27.2,369.1L27.8,364.8L28.4,363.5L29.0,356.0L29.6,367.1L30.2,358.8L30.8,360.3L31.4,344.4L32.0,354.9L32.6,331.4L33.2,336.8L33.8,344.2L34.4,315.4L35.0,309.8L35.6,308.5L36.2,307.2L36.8,314.3L37.4,315.2L38.0,338.9L38.6,312.1L39.2,345.2L39.8,337.6L40.4,343.7L41.0,349.8L41.6,339.1L42.2,357.0L42.8,361.3L43.4,358.4L44.0,380.9L44.6,385.3L45.2,377.6L45.8,390.1L46.4,405.8L47.0,394.5L47.6,410.1L48.2,404.0L48.8,406.9L49.4,408.5L50.0,410.4L50.6,414.9L51.2,415.2L51.8,420.2L52.4,419.9L53.0,420.2L53.6,418.8L54.2,419.9L54.8,419.9L55.4,419.9L56.0,420.2L56.6,420.2L57.2,420.2L57.8,420.1L58.4,418.0L59.0,420.2L59.6,420.2L60.2,418.2L60.8,420.2L61.4,418.7L62.0,419.9L62.6,419.9L63.2,418.1L63.8,420.2L64.4,419.6L65.0,419.9L65.6,419.9L66.2,420.2L66.8,420.2L67.4,419.8L68.0,419.9L68.6,419.9L69.2,420.0L69.8,420.2L70.4,419.4L71.0,419.9L71.6,419.9L72.2,419.9L72.8,419.9L73.4,419.9L74.0,418.9L74.6,419.2L75.2,420.0L75.8,420.2L76.4,419.9L77.0,420.2L77.6,419.9L78.2,419.9L78.8,420.2L79.4,419.9L80.0,418.4L80.6,420.2L81.2,420.1L81.8,419.9L82.4,420.2L83.0,420.2L83.6,419.9L84.2,420.2L84.8,420.2L85.4,420.2L86.0,419.5L86.6,419.9L87.2,419.9L87.8,419.9L88.4,419.9L89.0,418.6L89.6,420.2L90.2,419.9L90.8,419.9L91.4,418.2L92.0,420.2L92.6,419.9L93.2,419.9L93.8,418.3L94.4,419.5L95.0,419.9L95.6,420.2L96.2,420.2L96.8,420.2L97.4,420.1L98.0,419.9L98.6,419.9L99.2,419.9L99.8,419.1L100.4,420.2L101.0,419.9L101.6,418.5L102.2,420.2L102.8,419.8L103.4,419.9L104.0,419.9L104.6,419.8L105.2,419.9L105.8,420.1L106.4,419.9L107.0,419.9L107.6,419.9L108.2,420.2L108.8,418.9L109.4,418.9L110.0,419.9L110.6,419.9L111.2,420.2L111.8,420.2L112.4,420.2L113.0,420.2L113.6,419.9L114.2,419.9L114.8,419.2L115.4,420.2L116.0,420.1L116.6,419.9L117.2,420.2L117.8,420.2L118.4,419.9L119.0,419.9L119.6,420.2L120.2,419.9L120.8,420.2L121.4,418.9L122.0,419.9L122.6,419.9L123.2,419.9L123.8,419.7L124.4,420.2L125.0,420.2L125.6,420.2L126.2,420.1L126.8,420.2L127.4,419.2L128.0,419.9L128.6,419.9L129.2,419.9L129.8,420.2L129.8,420.2Z"/></clipPath><line x1="38.0" y1="413.8" x2="130.0" y2="413.8" stroke="#111" stroke-width="1.2" clip-path="url(#f120)"/><path d="M5.0,406.8L5.5,391.5L6.0,396.8L6.5,385.8L7.0,386.4L7.5,393.3L8.0,379.0L8.5,375.2L9.0,374.8L9.5,369.8L10.0,372.2L10.5,398.8L11.0,361.9L11.5,363.5L12.0,364.2L12.5,365.7L13.0,361.1L13.5,355.8L14.0,343.7L14.5,340.9L15.0,336.4L15.5,332.9L16.0,334.2L16.5,334.4L17.0,323.5L17.5,320.4L18.0,318.0L18.5,316.4L19.0,314.9L19.5,319.5L20.0,311.7L20.5,310.7L21.0,310.2L21.5,312.5L22.0,310.6L22.5,344.2L23.0,312.1L23.5,312.9L24.0,328.8L24.5,324.7L25.0,321.8L25.5,312.8L26.0,335.1L26.5,318.2L27.0,319.3L27.5,325.1L28.0,334.4L28.5,353.7L29.0,354.8L29.5,367.2L30.0,371.7L30.5,379.8L31.0,381.7L31.5,384.4L32.0,388.4L32.5,404.4L33.0,394.7L33.5,403.4L34.0,407.4L34.5,402.7L35.0,404.9L35.5,408.8L36.0,419.5L36.5,418.8L37.0,412.1L37.5,414.7L38.0,414.2L38.5,420.1L39.0,420.2L39.5,420.2L40.0,420.2L40.5,419.9L41.0,419.4L41.5,418.9L42.0,420.2L42.5,420.2L43.0,420.2L43.5,419.9L44.0,418.8L44.5,419.9L45.0,420.2L45.5,419.9L46.0,419.9L46.5,420.2L47.0,419.9L47.5,419.9L48.0,420.2L48.5,418.2L49.0,419.9L49.5,420.2L50.0,419.9L50.5,418.1L51.0,419.9L51.5,418.7L52.0,418.7L52.5,420.0L53.0,418.9L53.5,420.2L54.0,420.2L54.5,419.9L55.0,419.7L55.5,420.1L56.0,420.2L56.5,419.9L57.0,419.8L57.5,420.2L58.0,419.9L58.5,420.0L59.0,420.1L59.5,420.2L60.0,420.2L60.5,420.0L61.0,419.9L61.5,419.9L62.0,420.2L62.5,420.2L63.0,419.9L63.5,420.2L64.0,418.4L64.5,419.3L65.0,419.9L65.5,420.2L66.0,419.9L66.5,420.0L67.0,418.6L67.5,419.9L68.0,418.8L68.5,420.2L69.0,419.4L69.5,420.2L70.0,420.2L70.5,420.1L71.0,419.9L71.5,419.9L72.0,419.9L72.5,419.9L73.0,420.2L73.5,420.0L74.0,420.1L74.5,418.4L75.0,419.9L75.5,420.2L76.0,420.2L76.5,420.2L77.0,420.2L77.5,418.9L78.0,419.3L78.5,419.9L79.0,419.9L79.5,420.2L80.0,419.9L80.5,419.9L81.0,419.9L81.5,420.0L82.0,419.8L82.5,419.9L83.0,420.2L83.5,419.9L84.0,419.9L84.5,420.2L85.0,419.9L85.5,419.9L86.0,420.2L86.5,419.9L87.0,419.9L87.5,420.2L88.0,420.2L88.5,420.2L89.0,419.9L89.5,420.2L90.0,419.9L90.5,419.9L91.0,420.2L91.5,419.1L92.0,420.0L92.5,420.2L93.0,418.7L93.5,420.0L94.0,420.2L94.5,420.2L95.0,419.9L95.5,420.0L96.0,420.2L96.5,420.2L97.0,420.1L97.5,419.9L98.0,418.0L98.5,419.9L99.0,419.9L99.5,419.9L100.0,419.9L100.5,420.2L101.0,418.7L101.5,420.2L102.0,420.2L102.5,419.2L103.0,419.9L103.5,419.9L104.0,419.9L104.5,419.9L105.0,420.2L105.5,419.1L106.0,420.1L106.5,420.2L107.0,418.6L107.5,419.9L108.0,420.2L108.5,420.2L109.0,420.2L109.5,420.2L110.0,419.5L110.5,419.9L111.0,419.9L111.5,419.3L112.0,419.9L112.5,419.7L113.0,420.2L113.5,419.9L114.0,419.9L114.5,420.0L115.0,420.2L115.5,418.7L116.0,419.9L116.5,419.9L117.0,419.7L117.5,419.9L118.0,419.9L118.5,419.9L119.0,420.1L119.5,420.1L120.0,420.2L120.5,419.3L121.0,417.9L121.5,419.9L122.0,420.2L122.5,419.9L123.0,420.2L123.5,420.2L124.0,419.9L124.5,419.9L125.0,419.3L125.5,420.2L126.0,420.2L126.5,420.2L127.0,420.2L127.5,420.2L128.0,420.2L128.5,420.2L129.0,420.2L129.5,420.1L130.0,419.2" fill="none" stroke="#000" stroke-width="1.0"/></g><line x1="5.0" y1="422.8" x2="130.0" y2="422.8" stroke="#e6e6e6" stroke-width="1.6"/><line x1="6.0" y1="421.2" x2="6.0" y2="423.8" stroke="#777" stroke-width="0.9"/><line x1="37.6" y1="421.2" x2="37.6" y2="423.8" stroke="#777" stroke-width="0.9"/><line x1="69.2" y1="421.2" x2="69.2" y2="423.8" stroke="#777" stroke-width="0.9"/><line x1="100.8" y1="421.2" x2="100.8" y2="423.8" stroke="#777" stroke-width="0.9"/><line x1="5.0" y1="420.2" x2="130.0" y2="420.2" stroke="#1a1a1a" stroke-width="1.6"/><g transform="translate(88.00,322.60) scale(1,1.080)"><text x="0.00" y="0" class="n">5</text><g transform="translate(7.90,0)"><text x="0" y="0" class="n" clip-path="url(#one_n)">1</text></g><text x="15.79" y="0" class="n">.</text><g transform="translate(19.74,0)"><text x="0" y="0" class="n" clip-path="url(#one_n)">1</text></g></g><rect x="88.8" y="385.9" width="35.2" height="25.8" fill="none" stroke="#000" stroke-width="1.4"/><g transform="translate(92.50,401.50)"><text x="0.00" y="0" class="b">no. 8</text></g><rect x="4.0" y="298.3" width="127.0" height="128.2" fill="none" stroke="#000" stroke-width="2"/></g>
<g><clipPath id="c121"><rect x="132.0" y="299.3" width="125.0" height="121.4"/></clipPath><line x1="175.6" y1="415.0" x2="257.0" y2="415.0" stroke="#8a8a8a" stroke-width="0.9"/><g clip-path="url(#c121)"><path d="M132.0,420.2L132.0,419.9L132.6,419.9L133.2,419.6L133.8,420.2L134.4,419.6L135.0,419.9L135.6,419.2L136.2,419.9L136.8,420.2L137.4,418.3L138.0,418.3L138.6,417.6L139.2,415.8L139.8,416.8L140.4,418.4L141.0,413.5L141.6,412.9L142.2,415.6L142.8,411.8L143.4,411.3L144.0,413.6L144.6,410.3L145.2,409.8L145.8,410.6L146.4,413.1L147.0,408.5L147.6,407.7L148.2,407.0L148.8,406.4L149.4,410.0L150.0,408.7L150.6,404.4L151.2,408.5L151.8,403.1L152.4,402.9L153.0,403.0L153.6,406.7L154.2,398.3L154.8,403.7L155.4,401.8L156.0,397.9L156.6,402.9L157.2,391.8L157.8,390.6L158.4,389.3L159.0,388.0L159.6,386.7L160.2,390.1L160.8,386.1L161.4,399.9L162.0,394.1L162.6,377.8L163.2,375.7L163.8,373.6L164.4,371.5L165.0,373.2L165.6,365.3L166.2,373.2L166.8,370.1L167.4,370.0L168.0,361.1L168.6,372.4L169.2,354.3L169.8,368.7L170.4,342.0L171.0,339.9L171.6,337.9L172.2,360.9L172.8,333.8L173.4,331.9L174.0,330.0L174.6,328.9L175.2,336.7L175.8,337.5L176.4,337.9L177.0,334.5L177.6,349.8L178.2,334.1L178.8,320.3L179.4,358.8L180.0,339.3L180.6,347.3L181.2,344.9L181.8,342.3L182.4,342.7L183.0,348.9L183.6,355.2L184.2,367.4L184.8,366.0L185.4,371.4L186.0,376.9L186.6,382.3L187.2,387.4L187.8,410.0L188.4,393.7L189.0,398.1L189.6,403.8L190.2,412.6L190.8,404.4L191.4,406.6L192.0,410.0L192.6,414.6L193.2,412.6L193.8,414.0L194.4,416.6L195.0,416.7L195.6,418.1L196.2,419.3L196.8,419.0L197.4,418.5L198.0,419.5L198.6,418.4L199.2,419.9L199.8,419.9L200.4,420.2L201.0,419.9L201.6,420.2L202.2,420.0L202.8,420.2L203.4,420.2L204.0,419.9L204.6,420.2L205.2,420.2L205.8,419.6L206.4,420.2L207.0,418.1L207.6,420.2L208.2,420.2L208.8,420.2L209.4,418.7L210.0,419.9L210.6,420.2L211.2,418.2L211.8,419.9L212.4,420.2L213.0,419.9L213.6,419.9L214.2,418.2L214.8,420.0L215.4,419.9L216.0,420.2L216.6,419.9L217.2,420.2L217.8,419.9L218.4,419.9L219.0,419.9L219.6,420.2L220.2,420.2L220.8,420.0L221.4,419.7L222.0,419.0L222.6,420.2L223.2,420.0L223.8,418.4L224.4,420.0L225.0,420.2L225.6,420.2L226.2,420.2L226.8,419.9L227.4,418.2L228.0,420.1L228.6,420.0L229.2,420.1L229.8,420.2L230.4,419.9L231.0,420.2L231.6,419.9L232.2,419.9L232.8,420.2L233.4,419.9L234.0,420.2L234.6,419.9L235.2,420.2L235.8,420.2L236.4,420.2L237.0,420.2L237.6,420.0L238.2,419.9L238.8,419.1L239.4,419.9L240.0,419.9L240.6,420.2L241.2,419.9L241.8,419.6L242.4,419.9L243.0,420.1L243.6,418.3L244.2,420.1L244.8,420.2L245.4,420.2L246.0,419.9L246.6,420.2L247.2,419.9L247.8,419.7L248.4,420.2L249.0,420.2L249.6,420.2L250.2,419.9L250.8,420.2L251.4,420.2L252.0,419.9L252.6,419.9L253.2,420.2L253.8,419.9L254.4,420.2L255.0,420.2L255.6,420.2L256.2,419.9L256.8,418.6L256.8,420.2Z" fill="#838383" stroke="#000" stroke-width="1.0"/><clipPath id="f121"><path d="M132.0,420.2L132.0,419.9L132.6,419.9L133.2,419.6L133.8,420.2L134.4,419.6L135.0,419.9L135.6,419.2L136.2,419.9L136.8,420.2L137.4,418.3L138.0,418.3L138.6,417.6L139.2,415.8L139.8,416.8L140.4,418.4L141.0,413.5L141.6,412.9L142.2,415.6L142.8,411.8L143.4,411.3L144.0,413.6L144.6,410.3L145.2,409.8L145.8,410.6L146.4,413.1L147.0,408.5L147.6,407.7L148.2,407.0L148.8,406.4L149.4,410.0L150.0,408.7L150.6,404.4L151.2,408.5L151.8,403.1L152.4,402.9L153.0,403.0L153.6,406.7L154.2,398.3L154.8,403.7L155.4,401.8L156.0,397.9L156.6,402.9L157.2,391.8L157.8,390.6L158.4,389.3L159.0,388.0L159.6,386.7L160.2,390.1L160.8,386.1L161.4,399.9L162.0,394.1L162.6,377.8L163.2,375.7L163.8,373.6L164.4,371.5L165.0,373.2L165.6,365.3L166.2,373.2L166.8,370.1L167.4,370.0L168.0,361.1L168.6,372.4L169.2,354.3L169.8,368.7L170.4,342.0L171.0,339.9L171.6,337.9L172.2,360.9L172.8,333.8L173.4,331.9L174.0,330.0L174.6,328.9L175.2,336.7L175.8,337.5L176.4,337.9L177.0,334.5L177.6,349.8L178.2,334.1L178.8,320.3L179.4,358.8L180.0,339.3L180.6,347.3L181.2,344.9L181.8,342.3L182.4,342.7L183.0,348.9L183.6,355.2L184.2,367.4L184.8,366.0L185.4,371.4L186.0,376.9L186.6,382.3L187.2,387.4L187.8,410.0L188.4,393.7L189.0,398.1L189.6,403.8L190.2,412.6L190.8,404.4L191.4,406.6L192.0,410.0L192.6,414.6L193.2,412.6L193.8,414.0L194.4,416.6L195.0,416.7L195.6,418.1L196.2,419.3L196.8,419.0L197.4,418.5L198.0,419.5L198.6,418.4L199.2,419.9L199.8,419.9L200.4,420.2L201.0,419.9L201.6,420.2L202.2,420.0L202.8,420.2L203.4,420.2L204.0,419.9L204.6,420.2L205.2,420.2L205.8,419.6L206.4,420.2L207.0,418.1L207.6,420.2L208.2,420.2L208.8,420.2L209.4,418.7L210.0,419.9L210.6,420.2L211.2,418.2L211.8,419.9L212.4,420.2L213.0,419.9L213.6,419.9L214.2,418.2L214.8,420.0L215.4,419.9L216.0,420.2L216.6,419.9L217.2,420.2L217.8,419.9L218.4,419.9L219.0,419.9L219.6,420.2L220.2,420.2L220.8,420.0L221.4,419.7L222.0,419.0L222.6,420.2L223.2,420.0L223.8,418.4L224.4,420.0L225.0,420.2L225.6,420.2L226.2,420.2L226.8,419.9L227.4,418.2L228.0,420.1L228.6,420.0L229.2,420.1L229.8,420.2L230.4,419.9L231.0,420.2L231.6,419.9L232.2,419.9L232.8,420.2L233.4,419.9L234.0,420.2L234.6,419.9L235.2,420.2L235.8,420.2L236.4,420.2L237.0,420.2L237.6,420.0L238.2,419.9L238.8,419.1L239.4,419.9L240.0,419.9L240.6,420.2L241.2,419.9L241.8,419.6L242.4,419.9L243.0,420.1L243.6,418.3L244.2,420.1L244.8,420.2L245.4,420.2L246.0,419.9L246.6,420.2L247.2,419.9L247.8,419.7L248.4,420.2L249.0,420.2L249.6,420.2L250.2,419.9L250.8,420.2L251.4,420.2L252.0,419.9L252.6,419.9L253.2,420.2L253.8,419.9L254.4,420.2L255.0,420.2L255.6,420.2L256.2,419.9L256.8,418.6L256.8,420.2Z"/></clipPath><line x1="175.6" y1="415.0" x2="257.0" y2="415.0" stroke="#111" stroke-width="1.2" clip-path="url(#f121)"/><path d="M132.0,416.8L132.5,405.1L133.0,400.6L133.5,397.8L134.0,413.1L134.5,395.9L135.0,395.4L135.5,394.8L136.0,394.3L136.5,399.4L137.0,406.4L137.5,408.9L138.0,399.1L138.5,399.6L139.0,391.7L139.5,389.5L140.0,395.9L140.5,402.6L141.0,388.9L141.5,385.8L142.0,383.2L142.5,381.6L143.0,379.9L143.5,378.3L144.0,388.1L144.5,375.2L145.0,373.6L145.5,379.7L146.0,370.4L146.5,372.3L147.0,367.2L147.5,390.0L148.0,364.0L148.5,367.8L149.0,370.6L149.5,359.4L150.0,356.7L150.5,368.0L151.0,374.1L151.5,349.1L152.0,346.5L152.5,345.6L153.0,349.8L153.5,346.9L154.0,371.3L154.5,348.4L155.0,350.5L155.5,339.8L156.0,372.7L156.5,355.8L157.0,341.1L157.5,362.4L158.0,352.9L158.5,324.4L159.0,335.1L159.5,341.1L160.0,333.4L160.5,352.7L161.0,335.8L161.5,346.5L162.0,356.7L162.5,341.1L163.0,338.5L163.5,346.0L164.0,368.9L164.5,351.9L165.0,366.0L165.5,368.3L166.0,364.9L166.5,368.4L167.0,372.9L167.5,385.0L168.0,382.1L168.5,386.1L169.0,390.0L169.5,393.8L170.0,397.5L170.5,400.2L171.0,402.9L171.5,409.9L172.0,408.1L172.5,409.5L173.0,411.0L173.5,412.4L174.0,413.9L174.5,419.3L175.0,418.2L175.5,417.6L176.0,417.8L176.5,417.2L177.0,420.2L177.5,420.2L178.0,420.2L178.5,420.2L179.0,419.9L179.5,419.9L180.0,420.2L180.5,419.9L181.0,419.9L181.5,420.1L182.0,420.1L182.5,420.2L183.0,419.9L183.5,419.9L184.0,420.0L184.5,418.4L185.0,420.2L185.5,419.9L186.0,420.2L186.5,420.2L187.0,418.3L187.5,420.0L188.0,419.9L188.5,420.2L189.0,419.9L189.5,419.9L190.0,419.7L190.5,419.9L191.0,420.2L191.5,419.3L192.0,419.9L192.5,420.1L193.0,420.2L193.5,420.2L194.0,420.2L194.5,420.2L195.0,420.1L195.5,419.9L196.0,419.9L196.5,419.0L197.0,419.9L197.5,420.2L198.0,418.8L198.5,418.9L199.0,418.3L199.5,419.9L200.0,420.2L200.5,420.1L201.0,420.2L201.5,419.9L202.0,418.7L202.5,420.2L203.0,419.9L203.5,420.2L204.0,420.2L204.5,419.9L205.0,420.1L205.5,419.9L206.0,420.2L206.5,419.6L207.0,419.9L207.5,419.9L208.0,420.2L208.5,420.2L209.0,418.8L209.5,419.9L210.0,420.2L210.5,420.1L211.0,419.9L211.5,419.9L212.0,419.9L212.5,420.2L213.0,419.9L213.5,420.2L214.0,420.2L214.5,420.2L215.0,419.9L215.5,419.9L216.0,420.2L216.5,419.1L217.0,418.9L217.5,419.1L218.0,418.8L218.5,420.1L219.0,419.9L219.5,419.9L220.0,420.2L220.5,420.0L221.0,420.2L221.5,419.9L222.0,419.9L222.5,420.2L223.0,418.6L223.5,420.2L224.0,420.1L224.5,420.2L225.0,419.9L225.5,420.2L226.0,420.1L226.5,420.2L227.0,419.9L227.5,420.2L228.0,419.8L228.5,419.9L229.0,420.2L229.5,419.9L230.0,419.9L230.5,419.9L231.0,419.1L231.5,419.9L232.0,419.9L232.5,419.9L233.0,418.5L233.5,420.2L234.0,420.2L234.5,420.2L235.0,419.9L235.5,420.0L236.0,419.9L236.5,419.9L237.0,420.2L237.5,419.9L238.0,419.9L238.5,420.2L239.0,417.9L239.5,419.9L240.0,419.9L240.5,420.2L241.0,420.1L241.5,420.2L242.0,420.2L242.5,419.9L243.0,419.9L243.5,420.2L244.0,419.9L244.5,420.2L245.0,419.9L245.5,419.9L246.0,420.2L246.5,420.2L247.0,419.9L247.5,420.2L248.0,420.2L248.5,420.2L249.0,419.9L249.5,418.6L250.0,420.2L250.5,420.2L251.0,419.9L251.5,419.9L252.0,418.0L252.5,420.2L253.0,419.9L253.5,419.9L254.0,420.2L254.5,418.9L255.0,418.6L255.5,419.7L256.0,419.9L256.5,420.1L257.0,419.9" fill="none" stroke="#000" stroke-width="1.0"/></g><line x1="132.0" y1="422.8" x2="257.0" y2="422.8" stroke="#e6e6e6" stroke-width="1.6"/><line x1="133.0" y1="421.2" x2="133.0" y2="423.8" stroke="#777" stroke-width="0.9"/><line x1="164.6" y1="421.2" x2="164.6" y2="423.8" stroke="#777" stroke-width="0.9"/><line x1="196.2" y1="421.2" x2="196.2" y2="423.8" stroke="#777" stroke-width="0.9"/><line x1="227.8" y1="421.2" x2="227.8" y2="423.8" stroke="#777" stroke-width="0.9"/><line x1="132.0" y1="420.2" x2="257.0" y2="420.2" stroke="#1a1a1a" stroke-width="1.6"/><g transform="translate(216.05,322.60) scale(1,1.080)"><text x="0.00" y="0" class="n">62.4</text></g><rect x="209.7" y="385.9" width="41.6" height="25.8" fill="none" stroke="#000" stroke-width="1.4"/><g transform="translate(211.70,401.50)"><text x="0.00" y="0" class="b">no. </text><g transform="translate(19.91,0)"><text x="0" y="0" class="b" clip-path="url(#one_b)">1</text></g><text x="26.14" y="0" class="b">2</text></g><rect x="131.0" y="298.3" width="127.0" height="128.2" fill="none" stroke="#000" stroke-width="2"/></g>
<g><clipPath id="c122"><rect x="259.0" y="299.3" width="125.0" height="121.4"/></clipPath><line x1="297.0" y1="416.5" x2="384.0" y2="416.5" stroke="#8a8a8a" stroke-width="0.9"/><g clip-path="url(#c122)"><path d="M259.0,420.2L259.0,413.6L259.6,413.6L260.2,415.1L260.8,415.2L261.4,413.6L262.0,419.8L262.6,414.3L263.2,412.9L263.8,412.6L264.4,412.2L265.0,411.9L265.6,411.5L266.2,417.5L266.8,415.2L267.4,416.1L268.0,410.2L268.6,418.3L269.2,409.5L269.8,409.2L270.4,408.9L271.0,414.7L271.6,409.4L272.2,412.9L272.8,411.9L273.4,406.7L274.0,408.5L274.6,406.5L275.2,407.3L275.8,405.4L276.4,408.3L277.0,406.7L277.6,402.8L278.2,402.0L278.8,404.7L279.4,413.2L280.0,402.1L280.6,411.0L281.2,399.1L281.8,397.1L282.4,398.2L283.0,397.3L283.6,394.2L284.2,407.0L284.8,398.2L285.4,391.3L286.0,394.5L286.6,389.6L287.2,400.5L287.8,391.6L288.4,402.5L289.0,381.8L289.6,386.8L290.2,377.9L290.8,372.9L291.4,369.1L292.0,370.5L292.6,361.5L293.2,369.9L293.8,363.7L294.4,377.5L295.0,346.5L295.6,347.2L296.2,348.4L296.8,342.2L297.4,329.2L298.0,338.1L298.6,323.6L299.2,321.1L299.8,339.1L300.4,322.9L301.0,313.6L301.6,312.0L302.2,327.4L302.8,342.9L303.4,327.6L304.0,308.7L304.6,319.2L305.2,311.9L305.8,305.2L306.4,305.8L307.0,326.0L307.6,301.8L308.2,308.6L308.8,337.0L309.4,329.0L310.0,330.0L310.6,349.2L311.2,345.7L311.8,340.7L312.4,340.6L313.0,345.9L313.6,351.3L314.2,367.4L314.8,362.3L315.4,375.4L316.0,393.1L316.6,381.2L317.2,385.8L317.8,408.7L318.4,405.7L319.0,399.4L319.6,404.1L320.2,414.9L320.8,415.6L321.4,413.2L322.0,415.2L322.6,417.4L323.2,418.1L323.8,418.2L324.4,420.2L325.0,418.3L325.6,419.1L326.2,420.2L326.8,420.2L327.4,419.9L328.0,420.2L328.6,419.7L329.2,420.2L329.8,419.9L330.4,420.2L331.0,420.2L331.6,419.9L332.2,420.2L332.8,418.2L333.4,420.0L334.0,420.2L334.6,419.8L335.2,420.0L335.8,419.5L336.4,419.9L337.0,419.9L337.6,419.3L338.2,419.9L338.8,420.2L339.4,420.0L340.0,419.9L340.6,419.9L341.2,420.2L341.8,420.1L342.4,420.2L343.0,419.1L343.6,418.6L344.2,420.1L344.8,419.9L345.4,418.4L346.0,420.2L346.6,420.1L347.2,420.2L347.8,419.9L348.4,420.2L349.0,420.1L349.6,420.2L350.2,420.2L350.8,418.5L351.4,419.2L352.0,418.5L352.6,419.9L353.2,420.2L353.8,420.2L354.4,419.9L355.0,420.2L355.6,419.3L356.2,420.2L356.8,420.2L357.4,419.9L358.0,420.2L358.6,419.9L359.2,419.9L359.8,419.9L360.4,418.5L361.0,419.9L361.6,420.2L362.2,419.9L362.8,419.8L363.4,420.2L364.0,420.2L364.6,418.4L365.2,420.2L365.8,419.7L366.4,420.0L367.0,420.0L367.6,420.2L368.2,419.9L368.8,420.1L369.4,420.2L370.0,419.9L370.6,420.2L371.2,420.2L371.8,419.2L372.4,420.2L373.0,419.9L373.6,420.1L374.2,419.1L374.8,420.1L375.4,420.2L376.0,419.9L376.6,419.5L377.2,419.9L377.8,419.9L378.4,419.9L379.0,420.2L379.6,419.9L380.2,420.2L380.8,420.2L381.4,419.9L382.0,420.2L382.6,419.9L383.2,420.2L383.8,419.9L383.8,420.2Z" fill="#838383" stroke="#000" stroke-width="1.0"/><clipPath id="f122"><path d="M259.0,420.2L259.0,413.6L259.6,413.6L260.2,415.1L260.8,415.2L261.4,413.6L262.0,419.8L262.6,414.3L263.2,412.9L263.8,412.6L264.4,412.2L265.0,411.9L265.6,411.5L266.2,417.5L266.8,415.2L267.4,416.1L268.0,410.2L268.6,418.3L269.2,409.5L269.8,409.2L270.4,408.9L271.0,414.7L271.6,409.4L272.2,412.9L272.8,411.9L273.4,406.7L274.0,408.5L274.6,406.5L275.2,407.3L275.8,405.4L276.4,408.3L277.0,406.7L277.6,402.8L278.2,402.0L278.8,404.7L279.4,413.2L280.0,402.1L280.6,411.0L281.2,399.1L281.8,397.1L282.4,398.2L283.0,397.3L283.6,394.2L284.2,407.0L284.8,398.2L285.4,391.3L286.0,394.5L286.6,389.6L287.2,400.5L287.8,391.6L288.4,402.5L289.0,381.8L289.6,386.8L290.2,377.9L290.8,372.9L291.4,369.1L292.0,370.5L292.6,361.5L293.2,369.9L293.8,363.7L294.4,377.5L295.0,346.5L295.6,347.2L296.2,348.4L296.8,342.2L297.4,329.2L298.0,338.1L298.6,323.6L299.2,321.1L299.8,339.1L300.4,322.9L301.0,313.6L301.6,312.0L302.2,327.4L302.8,342.9L303.4,327.6L304.0,308.7L304.6,319.2L305.2,311.9L305.8,305.2L306.4,305.8L307.0,326.0L307.6,301.8L308.2,308.6L308.8,337.0L309.4,329.0L310.0,330.0L310.6,349.2L311.2,345.7L311.8,340.7L312.4,340.6L313.0,345.9L313.6,351.3L314.2,367.4L314.8,362.3L315.4,375.4L316.0,393.1L316.6,381.2L317.2,385.8L317.8,408.7L318.4,405.7L319.0,399.4L319.6,404.1L320.2,414.9L320.8,415.6L321.4,413.2L322.0,415.2L322.6,417.4L323.2,418.1L323.8,418.2L324.4,420.2L325.0,418.3L325.6,419.1L326.2,420.2L326.8,420.2L327.4,419.9L328.0,420.2L328.6,419.7L329.2,420.2L329.8,419.9L330.4,420.2L331.0,420.2L331.6,419.9L332.2,420.2L332.8,418.2L333.4,420.0L334.0,420.2L334.6,419.8L335.2,420.0L335.8,419.5L336.4,419.9L337.0,419.9L337.6,419.3L338.2,419.9L338.8,420.2L339.4,420.0L340.0,419.9L340.6,419.9L341.2,420.2L341.8,420.1L342.4,420.2L343.0,419.1L343.6,418.6L344.2,420.1L344.8,419.9L345.4,418.4L346.0,420.2L346.6,420.1L347.2,420.2L347.8,419.9L348.4,420.2L349.0,420.1L349.6,420.2L350.2,420.2L350.8,418.5L351.4,419.2L352.0,418.5L352.6,419.9L353.2,420.2L353.8,420.2L354.4,419.9L355.0,420.2L355.6,419.3L356.2,420.2L356.8,420.2L357.4,419.9L358.0,420.2L358.6,419.9L359.2,419.9L359.8,419.9L360.4,418.5L361.0,419.9L361.6,420.2L362.2,419.9L362.8,419.8L363.4,420.2L364.0,420.2L364.6,418.4L365.2,420.2L365.8,419.7L366.4,420.0L367.0,420.0L367.6,420.2L368.2,419.9L368.8,420.1L369.4,420.2L370.0,419.9L370.6,420.2L371.2,420.2L371.8,419.2L372.4,420.2L373.0,419.9L373.6,420.1L374.2,419.1L374.8,420.1L375.4,420.2L376.0,419.9L376.6,419.5L377.2,419.9L377.8,419.9L378.4,419.9L379.0,420.2L379.6,419.9L380.2,420.2L380.8,420.2L381.4,419.9L382.0,420.2L382.6,419.9L383.2,420.2L383.8,419.9L383.8,420.2Z"/></clipPath><line x1="297.0" y1="416.5" x2="384.0" y2="416.5" stroke="#111" stroke-width="1.2" clip-path="url(#f122)"/><path d="M259.0,389.6L259.5,387.3L260.0,390.5L260.5,401.8L261.0,399.2L261.5,395.5L262.0,403.1L262.5,375.8L263.0,382.1L263.5,371.5L264.0,369.4L264.5,370.4L265.0,365.2L265.5,363.0L266.0,368.4L266.5,361.9L267.0,370.1L267.5,365.9L268.0,357.3L268.5,360.2L269.0,358.4L269.5,353.6L270.0,347.1L270.5,342.0L271.0,347.9L271.5,349.3L272.0,337.3L272.5,336.6L273.0,357.1L273.5,341.7L274.0,337.8L274.5,346.6L275.0,327.8L275.5,326.2L276.0,338.9L276.5,322.1L277.0,320.0L277.5,322.1L278.0,316.4L278.5,314.3L279.0,312.8L279.5,329.4L280.0,309.7L280.5,315.2L281.0,317.4L281.5,315.9L282.0,302.6L282.5,304.7L283.0,301.9L283.5,325.8L284.0,317.5L284.5,324.0L285.0,341.2L285.5,339.8L286.0,344.3L286.5,351.6L287.0,363.5L287.5,370.0L288.0,369.9L288.5,374.4L289.0,386.4L289.5,383.5L290.0,386.9L290.5,392.3L291.0,404.5L291.5,396.9L292.0,418.3L292.5,410.4L293.0,417.7L293.5,409.8L294.0,410.8L294.5,412.7L295.0,415.5L295.5,412.2L296.0,420.2L296.5,419.0L297.0,417.2L297.5,415.8L298.0,418.4L298.5,418.5L299.0,417.4L299.5,418.8L300.0,419.1L300.5,419.9L301.0,420.2L301.5,419.0L302.0,419.3L302.5,420.2L303.0,419.9L303.5,420.0L304.0,420.2L304.5,418.5L305.0,420.2L305.5,419.9L306.0,419.9L306.5,419.9L307.0,420.2L307.5,420.2L308.0,420.2L308.5,418.7L309.0,420.2L309.5,419.7L310.0,420.2L310.5,419.9L311.0,419.3L311.5,420.2L312.0,419.1L312.5,420.1L313.0,420.1L313.5,420.1L314.0,420.0L314.5,418.8L315.0,419.0L315.5,420.2L316.0,419.9L316.5,419.9L317.0,420.2L317.5,419.9L318.0,418.7L318.5,419.9L319.0,420.2L319.5,420.2L320.0,420.1L320.5,419.1L321.0,420.2L321.5,420.2L322.0,418.5L322.5,420.2L323.0,419.9L323.5,419.9L324.0,419.9L324.5,420.2L325.0,420.2L325.5,419.9L326.0,419.9L326.5,417.9L327.0,419.1L327.5,419.9L328.0,418.6L328.5,420.2L329.0,420.2L329.5,420.2L330.0,418.5L330.5,418.9L331.0,420.2L331.5,420.2L332.0,420.2L332.5,420.2L333.0,420.2L333.5,419.9L334.0,420.2L334.5,418.8L335.0,420.0L335.5,419.2L336.0,420.2L336.5,420.1L337.0,419.9L337.5,419.5L338.0,420.2L338.5,419.9L339.0,419.3L339.5,419.9L340.0,420.2L340.5,419.8L341.0,420.2L341.5,420.2L342.0,419.9L342.5,419.9L343.0,420.2L343.5,420.2L344.0,419.9L344.5,419.9L345.0,420.1L345.5,419.9L346.0,419.9L346.5,419.9L347.0,420.2L347.5,419.8L348.0,420.2L348.5,419.9L349.0,420.2L349.5,420.2L350.0,419.9L350.5,419.9L351.0,419.9L351.5,419.9L352.0,420.2L352.5,418.5L353.0,420.0L353.5,418.7L354.0,420.2L354.5,419.9L355.0,420.2L355.5,419.9L356.0,420.2L356.5,418.3L357.0,419.9L357.5,420.2L358.0,420.0L358.5,419.9L359.0,419.9L359.5,419.9L360.0,418.9L360.5,420.1L361.0,420.2L361.5,419.9L362.0,419.9L362.5,419.2L363.0,420.2L363.5,419.9L364.0,419.0L364.5,420.2L365.0,419.9L365.5,420.2L366.0,420.2L366.5,420.2L367.0,419.1L367.5,420.2L368.0,420.2L368.5,420.2L369.0,420.2L369.5,420.0L370.0,419.9L370.5,420.2L371.0,420.2L371.5,419.9L372.0,420.2L372.5,419.9L373.0,419.9L373.5,420.2L374.0,420.0L374.5,420.0L375.0,419.9L375.5,419.9L376.0,420.0L376.5,417.9L377.0,420.2L377.5,420.2L378.0,420.2L378.5,419.9L379.0,420.2L379.5,419.9L380.0,419.9L380.5,419.9L381.0,420.2L381.5,419.6L382.0,420.2L382.5,418.8L383.0,419.9L383.5,419.9L384.0,419.9" fill="none" stroke="#000" stroke-width="1.0"/></g><line x1="259.0" y1="422.8" x2="384.0" y2="422.8" stroke="#e6e6e6" stroke-width="1.6"/><line x1="260.0" y1="421.2" x2="260.0" y2="423.8" stroke="#777" stroke-width="0.9"/><line x1="291.6" y1="421.2" x2="291.6" y2="423.8" stroke="#777" stroke-width="0.9"/><line x1="323.2" y1="421.2" x2="323.2" y2="423.8" stroke="#777" stroke-width="0.9"/><line x1="354.8" y1="421.2" x2="354.8" y2="423.8" stroke="#777" stroke-width="0.9"/><line x1="259.0" y1="420.2" x2="384.0" y2="420.2" stroke="#1a1a1a" stroke-width="1.6"/><g transform="translate(341.45,322.60) scale(1,1.080)"><text x="0.00" y="0" class="n">60.</text><g transform="translate(19.74,0)"><text x="0" y="0" class="n" clip-path="url(#one_n)">1</text></g></g><rect x="336.2" y="385.9" width="41.8" height="25.8" fill="none" stroke="#000" stroke-width="1.4"/><g transform="translate(339.40,401.70)"><text x="0.00" y="0" class="b">no. </text><g transform="translate(19.91,0)"><text x="0" y="0" class="b" clip-path="url(#one_b)">1</text></g><text x="26.14" y="0" class="b">5</text></g><rect x="258.0" y="298.3" width="127.0" height="128.2" fill="none" stroke="#000" stroke-width="2"/></g>
<g><clipPath id="c200"><rect x="5.0" y="492.0" width="125.0" height="120.3"/></clipPath><line x1="45.5" y1="605.0" x2="130.0" y2="605.0" stroke="#8a8a8a" stroke-width="0.9"/><g clip-path="url(#c200)"><path d="M5.0,611.8L5.0,611.8L5.6,606.2L6.2,602.0L6.8,601.1L7.4,604.8L8.0,601.4L8.6,598.4L9.2,598.9L9.8,604.9L10.4,595.8L11.0,598.8L11.6,595.7L12.2,597.1L12.8,592.8L13.4,590.9L14.0,589.9L14.6,589.0L15.2,599.5L15.8,589.9L16.4,597.5L17.0,595.4L17.6,585.4L18.2,590.5L18.8,580.4L19.4,598.9L20.0,577.8L20.6,582.9L21.2,574.6L21.8,584.5L22.4,584.7L23.0,578.8L23.6,570.1L24.2,565.8L24.8,563.2L25.4,560.7L26.0,558.2L26.6,575.6L27.2,553.2L27.8,556.6L28.4,545.7L29.0,542.8L29.6,537.0L30.2,532.6L30.8,528.2L31.4,537.6L32.0,519.5L32.6,538.1L33.2,531.9L33.8,539.4L34.4,520.8L35.0,514.6L35.6,505.0L36.2,510.3L36.8,509.8L37.4,505.3L38.0,495.8L38.6,493.5L39.2,493.5L39.8,493.5L40.4,493.5L41.0,515.0L41.6,493.5L42.2,493.5L42.8,502.4L43.4,518.4L44.0,530.6L44.6,501.6L45.2,514.3L45.8,511.5L46.4,532.4L47.0,536.9L47.6,530.3L48.2,539.2L48.8,554.5L49.4,557.2L50.0,556.0L50.6,562.3L51.2,568.8L51.8,573.3L52.4,581.1L53.0,583.5L53.6,597.4L54.2,593.2L54.8,598.0L55.4,602.8L56.0,604.9L56.6,606.3L57.2,608.9L57.8,609.8L58.4,611.5L59.0,611.5L59.6,609.7L60.2,611.5L60.8,611.4L61.4,611.5L62.0,611.4L62.6,609.9L63.2,611.5L63.8,611.1L64.4,609.8L65.0,611.8L65.6,611.5L66.2,611.5L66.8,611.8L67.4,611.5L68.0,610.9L68.6,609.5L69.2,611.8L69.8,611.8L70.4,611.8L71.0,611.5L71.6,611.8L72.2,611.7L72.8,611.4L73.4,611.8L74.0,611.8L74.6,611.8L75.2,611.8L75.8,611.5L76.4,611.6L77.0,611.4L77.6,611.5L78.2,611.5L78.8,611.7L79.4,611.8L80.0,611.8L80.6,611.8L81.2,611.5L81.8,611.8L82.4,611.5L83.0,611.8L83.6,611.5L84.2,611.7L84.8,611.5L85.4,611.7L86.0,611.8L86.6,611.8L87.2,611.8L87.8,611.8L88.4,611.8L89.0,611.7L89.6,611.8L90.2,611.1L90.8,611.8L91.4,609.8L92.0,611.1L92.6,611.8L93.2,611.5L93.8,611.8L94.4,611.6L95.0,611.5L95.6,609.9L96.2,611.5L96.8,611.8L97.4,611.8L98.0,611.8L98.6,611.5L99.2,611.8L99.8,611.8L100.4,611.5L101.0,611.5L101.6,611.8L102.2,611.8L102.8,611.5L103.4,611.8L104.0,609.9L104.6,611.8L105.2,611.8L105.8,611.5L106.4,611.4L107.0,611.5L107.6,611.4L108.2,611.6L108.8,611.2L109.4,611.8L110.0,611.8L110.6,611.8L111.2,611.8L111.8,611.5L112.4,610.3L113.0,611.5L113.6,611.6L114.2,611.8L114.8,611.5L115.4,611.8L116.0,611.5L116.6,611.8L117.2,611.5L117.8,611.5L118.4,611.5L119.0,611.5L119.6,611.5L120.2,611.8L120.8,611.7L121.4,611.8L122.0,611.5L122.6,611.8L123.2,611.8L123.8,611.8L124.4,611.8L125.0,610.9L125.6,609.8L126.2,611.8L126.8,611.5L127.4,610.6L128.0,611.8L128.6,611.0L129.2,610.3L129.8,611.8L129.8,611.8Z" fill="#838383" stroke="#000" stroke-width="1.0"/><clipPath id="f200"><path d="M5.0,611.8L5.0,611.8L5.6,606.2L6.2,602.0L6.8,601.1L7.4,604.8L8.0,601.4L8.6,598.4L9.2,598.9L9.8,604.9L10.4,595.8L11.0,598.8L11.6,595.7L12.2,597.1L12.8,592.8L13.4,590.9L14.0,589.9L14.6,589.0L15.2,599.5L15.8,589.9L16.4,597.5L17.0,595.4L17.6,585.4L18.2,590.5L18.8,580.4L19.4,598.9L20.0,577.8L20.6,582.9L21.2,574.6L21.8,584.5L22.4,584.7L23.0,578.8L23.6,570.1L24.2,565.8L24.8,563.2L25.4,560.7L26.0,558.2L26.6,575.6L27.2,553.2L27.8,556.6L28.4,545.7L29.0,542.8L29.6,537.0L30.2,532.6L30.8,528.2L31.4,537.6L32.0,519.5L32.6,538.1L33.2,531.9L33.8,539.4L34.4,520.8L35.0,514.6L35.6,505.0L36.2,510.3L36.8,509.8L37.4,505.3L38.0,495.8L38.6,493.5L39.2,493.5L39.8,493.5L40.4,493.5L41.0,515.0L41.6,493.5L42.2,493.5L42.8,502.4L43.4,518.4L44.0,530.6L44.6,501.6L45.2,514.3L45.8,511.5L46.4,532.4L47.0,536.9L47.6,530.3L48.2,539.2L48.8,554.5L49.4,557.2L50.0,556.0L50.6,562.3L51.2,568.8L51.8,573.3L52.4,581.1L53.0,583.5L53.6,597.4L54.2,593.2L54.8,598.0L55.4,602.8L56.0,604.9L56.6,606.3L57.2,608.9L57.8,609.8L58.4,611.5L59.0,611.5L59.6,609.7L60.2,611.5L60.8,611.4L61.4,611.5L62.0,611.4L62.6,609.9L63.2,611.5L63.8,611.1L64.4,609.8L65.0,611.8L65.6,611.5L66.2,611.5L66.8,611.8L67.4,611.5L68.0,610.9L68.6,609.5L69.2,611.8L69.8,611.8L70.4,611.8L71.0,611.5L71.6,611.8L72.2,611.7L72.8,611.4L73.4,611.8L74.0,611.8L74.6,611.8L75.2,611.8L75.8,611.5L76.4,611.6L77.0,611.4L77.6,611.5L78.2,611.5L78.8,611.7L79.4,611.8L80.0,611.8L80.6,611.8L81.2,611.5L81.8,611.8L82.4,611.5L83.0,611.8L83.6,611.5L84.2,611.7L84.8,611.5L85.4,611.7L86.0,611.8L86.6,611.8L87.2,611.8L87.8,611.8L88.4,611.8L89.0,611.7L89.6,611.8L90.2,611.1L90.8,611.8L91.4,609.8L92.0,611.1L92.6,611.8L93.2,611.5L93.8,611.8L94.4,611.6L95.0,611.5L95.6,609.9L96.2,611.5L96.8,611.8L97.4,611.8L98.0,611.8L98.6,611.5L99.2,611.8L99.8,611.8L100.4,611.5L101.0,611.5L101.6,611.8L102.2,611.8L102.8,611.5L103.4,611.8L104.0,609.9L104.6,611.8L105.2,611.8L105.8,611.5L106.4,611.4L107.0,611.5L107.6,611.4L108.2,611.6L108.8,611.2L109.4,611.8L110.0,611.8L110.6,611.8L111.2,611.8L111.8,611.5L112.4,610.3L113.0,611.5L113.6,611.6L114.2,611.8L114.8,611.5L115.4,611.8L116.0,611.5L116.6,611.8L117.2,611.5L117.8,611.5L118.4,611.5L119.0,611.5L119.6,611.5L120.2,611.8L120.8,611.7L121.4,611.8L122.0,611.5L122.6,611.8L123.2,611.8L123.8,611.8L124.4,611.8L125.0,610.9L125.6,609.8L126.2,611.8L126.8,611.5L127.4,610.6L128.0,611.8L128.6,611.0L129.2,610.3L129.8,611.8L129.8,611.8Z"/></clipPath><line x1="45.5" y1="605.0" x2="130.0" y2="605.0" stroke="#111" stroke-width="1.2" clip-path="url(#f200)"/><path d="M5.0,582.2L5.5,584.4L6.0,575.4L6.5,574.4L7.0,573.3L7.5,572.2L8.0,589.2L8.5,569.5L9.0,578.5L9.5,566.3L10.0,568.0L10.5,581.0L11.0,566.0L11.5,569.8L12.0,560.0L12.5,566.0L13.0,557.6L13.5,572.7L14.0,556.7L14.5,556.6L15.0,575.1L15.5,547.0L16.0,572.5L16.5,550.9L17.0,540.7L17.5,567.1L18.0,541.3L18.5,542.7L19.0,532.3L19.5,530.2L20.0,528.1L20.5,538.3L21.0,524.0L21.5,521.9L22.0,519.8L22.5,517.7L23.0,519.5L23.5,527.7L24.0,519.5L24.5,515.6L25.0,530.8L25.5,546.3L26.0,520.4L26.5,516.6L27.0,506.4L27.5,510.1L28.0,497.2L28.5,494.9L29.0,507.4L29.5,493.5L30.0,493.5L30.5,515.9L31.0,495.2L31.5,497.8L32.0,505.2L32.5,514.0L33.0,509.0L33.5,555.3L34.0,527.2L34.5,524.5L35.0,543.4L35.5,533.5L36.0,541.0L36.5,542.9L37.0,548.2L37.5,580.3L38.0,583.0L38.5,575.1L39.0,574.9L39.5,572.6L40.0,577.1L40.5,588.2L41.0,583.8L41.5,601.5L42.0,595.7L42.5,595.6L43.0,597.4L43.5,597.0L44.0,608.1L44.5,601.1L45.0,608.9L45.5,606.5L46.0,608.2L46.5,611.5L47.0,606.0L47.5,611.1L48.0,608.9L48.5,609.1L49.0,609.6L49.5,609.5L50.0,609.7L50.5,608.1L51.0,611.8L51.5,610.3L52.0,610.5L52.5,611.8L53.0,610.0L53.5,611.8L54.0,609.7L54.5,611.5L55.0,611.5L55.5,611.1L56.0,611.8L56.5,611.5L57.0,611.5L57.5,611.5L58.0,611.5L58.5,611.8L59.0,611.6L59.5,611.5L60.0,611.5L60.5,611.8L61.0,611.8L61.5,611.8L62.0,611.7L62.5,611.5L63.0,611.5L63.5,611.8L64.0,610.5L64.5,611.8L65.0,609.5L65.5,611.8L66.0,611.5L66.5,611.5L67.0,611.8L67.5,611.8L68.0,611.8L68.5,611.8L69.0,611.8L69.5,611.8L70.0,611.6L70.5,611.8L71.0,611.5L71.5,611.8L72.0,611.3L72.5,611.5L73.0,611.5L73.5,611.5L74.0,610.9L74.5,611.5L75.0,611.5L75.5,611.2L76.0,611.6L76.5,611.5L77.0,610.9L77.5,611.8L78.0,611.5L78.5,611.8L79.0,611.5L79.5,609.7L80.0,611.7L80.5,611.7L81.0,611.8L81.5,610.1L82.0,611.5L82.5,611.8L83.0,611.5L83.5,611.5L84.0,610.0L84.5,611.5L85.0,611.5L85.5,611.7L86.0,611.5L86.5,611.5L87.0,611.8L87.5,611.5L88.0,609.6L88.5,611.8L89.0,611.7L89.5,611.5L90.0,611.5L90.5,610.4L91.0,611.8L91.5,611.5L92.0,611.8L92.5,609.9L93.0,611.8L93.5,611.5L94.0,611.4L94.5,611.8L95.0,610.5L95.5,611.6L96.0,611.8L96.5,611.6L97.0,611.5L97.5,611.5L98.0,611.8L98.5,610.0L99.0,611.5L99.5,611.5L100.0,609.8L100.5,611.5L101.0,611.8L101.5,611.8L102.0,611.8L102.5,611.5L103.0,611.8L103.5,611.5L104.0,611.6L104.5,609.5L105.0,610.2L105.5,611.5L106.0,611.5L106.5,611.4L107.0,611.8L107.5,611.5L108.0,611.5L108.5,611.5L109.0,611.8L109.5,611.8L110.0,611.4L110.5,611.8L111.0,611.7L111.5,611.8L112.0,611.5L112.5,611.7L113.0,611.2L113.5,611.2L114.0,611.5L114.5,611.8L115.0,611.8L115.5,611.5L116.0,610.5L116.5,611.5L117.0,611.5L117.5,611.8L118.0,611.7L118.5,611.5L119.0,611.8L119.5,611.5L120.0,611.5L120.5,609.8L121.0,611.6L121.5,611.8L122.0,611.5L122.5,611.5L123.0,611.8L123.5,611.8L124.0,611.5L124.5,610.0L125.0,609.5L125.5,611.5L126.0,611.8L126.5,611.8L127.0,611.8L127.5,611.8L128.0,611.8L128.5,611.5L129.0,611.7L129.5,611.7L130.0,611.5" fill="none" stroke="#000" stroke-width="1.0"/></g><line x1="5.0" y1="614.4" x2="130.0" y2="614.4" stroke="#e6e6e6" stroke-width="1.6"/><line x1="6.0" y1="612.8" x2="6.0" y2="615.4" stroke="#777" stroke-width="0.9"/><line x1="37.6" y1="612.8" x2="37.6" y2="615.4" stroke="#777" stroke-width="0.9"/><line x1="69.2" y1="612.8" x2="69.2" y2="615.4" stroke="#777" stroke-width="0.9"/><line x1="100.8" y1="612.8" x2="100.8" y2="615.4" stroke="#777" stroke-width="0.9"/><line x1="5.0" y1="611.8" x2="130.0" y2="611.8" stroke="#1a1a1a" stroke-width="1.6"/><g transform="translate(87.35,515.50) scale(1,1.080)"><g transform="translate(0.00,0)"><text x="0" y="0" class="n" clip-path="url(#one_n)">1</text></g><text x="7.90" y="0" class="n">2.2</text></g><rect x="88.8" y="574.9" width="35.2" height="25.6" fill="none" stroke="#000" stroke-width="1.4"/><g transform="translate(93.15,592.40)"><text x="0.00" y="0" class="b">no. </text><g transform="translate(19.91,0)"><text x="0" y="0" class="b" clip-path="url(#one_b)">1</text></g></g><rect x="4.0" y="491.0" width="127.0" height="127.5" fill="none" stroke="#000" stroke-width="2"/></g>
<g><clipPath id="c201"><rect x="132.0" y="492.0" width="125.0" height="120.3"/></clipPath><line x1="190.0" y1="607.0" x2="257.0" y2="607.0" stroke="#8a8a8a" stroke-width="0.9"/><g clip-path="url(#c201)"><path d="M132.0,611.8L132.0,611.5L132.6,611.5L133.2,610.4L133.8,611.6L134.4,611.8L135.0,610.9L135.6,608.6L136.2,608.9L136.8,606.8L137.4,609.3L138.0,608.4L138.6,605.2L139.2,610.6L139.8,608.9L140.4,611.8L141.0,607.3L141.6,603.8L142.2,602.7L142.8,605.8L143.4,611.4L144.0,606.5L144.6,603.8L145.2,607.5L145.8,600.1L146.4,604.2L147.0,598.8L147.6,604.8L148.2,611.8L148.8,604.0L149.4,596.1L150.0,595.2L150.6,611.0L151.2,592.5L151.8,591.3L152.4,590.0L153.0,593.2L153.6,591.6L154.2,586.1L154.8,590.4L155.4,592.4L156.0,587.2L156.6,579.6L157.2,579.0L157.8,580.7L158.4,574.5L159.0,577.6L159.6,580.4L160.2,569.5L160.8,567.7L161.4,567.6L162.0,565.9L162.6,564.4L163.2,563.7L163.8,559.3L164.4,582.3L165.0,567.4L165.6,579.2L166.2,555.1L166.8,568.1L167.4,541.3L168.0,537.9L168.6,528.8L169.2,526.1L169.8,520.4L170.4,561.6L171.0,516.6L171.6,516.5L172.2,529.9L172.8,518.2L173.4,507.6L174.0,537.6L174.6,540.6L175.2,505.8L175.8,513.5L176.4,508.1L177.0,518.3L177.6,521.2L178.2,514.1L178.8,520.1L179.4,520.3L180.0,523.8L180.6,527.0L181.2,538.5L181.8,537.7L182.4,543.4L183.0,553.5L183.6,555.9L184.2,561.4L184.8,566.8L185.4,572.3L186.0,577.7L186.6,593.3L187.2,588.5L187.8,594.7L188.4,597.2L189.0,601.1L189.6,603.4L190.2,611.8L190.8,611.8L191.4,611.5L192.0,611.5L192.6,611.8L193.2,611.5L193.8,611.5L194.4,610.5L195.0,611.8L195.6,611.8L196.2,611.8L196.8,611.8L197.4,611.8L198.0,611.8L198.6,611.5L199.2,611.2L199.8,611.6L200.4,611.5L201.0,611.5L201.6,611.5L202.2,611.8L202.8,611.5L203.4,611.8L204.0,611.5L204.6,611.4L205.2,609.8L205.8,610.1L206.4,611.8L207.0,611.5L207.6,611.2L208.2,611.8L208.8,611.8L209.4,610.3L210.0,611.8L210.6,611.5L211.2,611.8L211.8,611.8L212.4,610.3L213.0,611.8L213.6,611.5L214.2,611.7L214.8,611.5L215.4,611.5L216.0,611.8L216.6,611.5L217.2,611.8L217.8,611.5L218.4,610.0L219.0,611.5L219.6,611.8L220.2,611.7L220.8,611.8L221.4,611.8L222.0,609.9L222.6,611.5L223.2,611.8L223.8,611.8L224.4,611.7L225.0,611.5L225.6,611.4L226.2,610.7L226.8,611.5L227.4,610.6L228.0,611.8L228.6,611.5L229.2,611.8L229.8,611.6L230.4,611.1L231.0,611.8L231.6,611.8L232.2,611.5L232.8,611.5L233.4,611.7L234.0,610.9L234.6,611.8L235.2,611.5L235.8,611.8L236.4,611.5L237.0,611.6L237.6,611.5L238.2,610.4L238.8,611.8L239.4,611.5L240.0,611.5L240.6,611.6L241.2,611.8L241.8,611.8L242.4,610.9L243.0,610.8L243.6,611.7L244.2,609.9L244.8,611.8L245.4,611.5L246.0,611.8L246.6,610.2L247.2,611.5L247.8,611.5L248.4,611.8L249.0,611.8L249.6,611.8L250.2,611.5L250.8,611.5L251.4,611.6L252.0,611.0L252.6,611.8L253.2,611.8L253.8,611.8L254.4,611.8L255.0,611.8L255.6,611.8L256.2,611.8L256.8,610.0L256.8,611.8Z" fill="#838383" stroke="#000" stroke-width="1.0"/><clipPath id="f201"><path d="M132.0,611.8L132.0,611.5L132.6,611.5L133.2,610.4L133.8,611.6L134.4,611.8L135.0,610.9L135.6,608.6L136.2,608.9L136.8,606.8L137.4,609.3L138.0,608.4L138.6,605.2L139.2,610.6L139.8,608.9L140.4,611.8L141.0,607.3L141.6,603.8L142.2,602.7L142.8,605.8L143.4,611.4L144.0,606.5L144.6,603.8L145.2,607.5L145.8,600.1L146.4,604.2L147.0,598.8L147.6,604.8L148.2,611.8L148.8,604.0L149.4,596.1L150.0,595.2L150.6,611.0L151.2,592.5L151.8,591.3L152.4,590.0L153.0,593.2L153.6,591.6L154.2,586.1L154.8,590.4L155.4,592.4L156.0,587.2L156.6,579.6L157.2,579.0L157.8,580.7L158.4,574.5L159.0,577.6L159.6,580.4L160.2,569.5L160.8,567.7L161.4,567.6L162.0,565.9L162.6,564.4L163.2,563.7L163.8,559.3L164.4,582.3L165.0,567.4L165.6,579.2L166.2,555.1L166.8,568.1L167.4,541.3L168.0,537.9L168.6,528.8L169.2,526.1L169.8,520.4L170.4,561.6L171.0,516.6L171.6,516.5L172.2,529.9L172.8,518.2L173.4,507.6L174.0,537.6L174.6,540.6L175.2,505.8L175.8,513.5L176.4,508.1L177.0,518.3L177.6,521.2L178.2,514.1L178.8,520.1L179.4,520.3L180.0,523.8L180.6,527.0L181.2,538.5L181.8,537.7L182.4,543.4L183.0,553.5L183.6,555.9L184.2,561.4L184.8,566.8L185.4,572.3L186.0,577.7L186.6,593.3L187.2,588.5L187.8,594.7L188.4,597.2L189.0,601.1L189.6,603.4L190.2,611.8L190.8,611.8L191.4,611.5L192.0,611.5L192.6,611.8L193.2,611.5L193.8,611.5L194.4,610.5L195.0,611.8L195.6,611.8L196.2,611.8L196.8,611.8L197.4,611.8L198.0,611.8L198.6,611.5L199.2,611.2L199.8,611.6L200.4,611.5L201.0,611.5L201.6,611.5L202.2,611.8L202.8,611.5L203.4,611.8L204.0,611.5L204.6,611.4L205.2,609.8L205.8,610.1L206.4,611.8L207.0,611.5L207.6,611.2L208.2,611.8L208.8,611.8L209.4,610.3L210.0,611.8L210.6,611.5L211.2,611.8L211.8,611.8L212.4,610.3L213.0,611.8L213.6,611.5L214.2,611.7L214.8,611.5L215.4,611.5L216.0,611.8L216.6,611.5L217.2,611.8L217.8,611.5L218.4,610.0L219.0,611.5L219.6,611.8L220.2,611.7L220.8,611.8L221.4,611.8L222.0,609.9L222.6,611.5L223.2,611.8L223.8,611.8L224.4,611.7L225.0,611.5L225.6,611.4L226.2,610.7L226.8,611.5L227.4,610.6L228.0,611.8L228.6,611.5L229.2,611.8L229.8,611.6L230.4,611.1L231.0,611.8L231.6,611.8L232.2,611.5L232.8,611.5L233.4,611.7L234.0,610.9L234.6,611.8L235.2,611.5L235.8,611.8L236.4,611.5L237.0,611.6L237.6,611.5L238.2,610.4L238.8,611.8L239.4,611.5L240.0,611.5L240.6,611.6L241.2,611.8L241.8,611.8L242.4,610.9L243.0,610.8L243.6,611.7L244.2,609.9L244.8,611.8L245.4,611.5L246.0,611.8L246.6,610.2L247.2,611.5L247.8,611.5L248.4,611.8L249.0,611.8L249.6,611.8L250.2,611.5L250.8,611.5L251.4,611.6L252.0,611.0L252.6,611.8L253.2,611.8L253.8,611.8L254.4,611.8L255.0,611.8L255.6,611.8L256.2,611.8L256.8,610.0L256.8,611.8Z"/></clipPath><line x1="190.0" y1="607.0" x2="257.0" y2="607.0" stroke="#111" stroke-width="1.2" clip-path="url(#f201)"/><path d="M132.0,591.0L132.5,597.7L133.0,589.4L133.5,585.0L134.0,583.9L134.5,593.4L135.0,581.7L135.5,586.4L136.0,586.7L136.5,579.1L137.0,576.5L137.5,574.9L138.0,573.3L138.5,571.7L139.0,593.1L139.5,577.3L140.0,576.2L140.5,565.3L141.0,575.5L141.5,563.1L142.0,572.0L142.5,560.4L143.0,560.7L143.5,558.3L144.0,557.7L144.5,584.9L145.0,559.8L145.5,566.0L146.0,566.6L146.5,548.9L147.0,548.5L147.5,553.5L148.0,547.4L148.5,571.4L149.0,563.9L149.5,538.3L150.0,536.2L150.5,538.7L151.0,536.6L151.5,534.8L152.0,527.8L152.5,548.3L153.0,525.2L153.5,534.6L154.0,518.8L154.5,519.5L155.0,521.6L155.5,525.9L156.0,508.4L156.5,528.1L157.0,511.2L157.5,509.9L158.0,521.7L158.5,495.8L159.0,494.2L159.5,501.4L160.0,498.8L160.5,507.6L161.0,532.9L161.5,515.7L162.0,520.2L162.5,524.7L163.0,529.9L163.5,535.2L164.0,543.8L164.5,544.1L165.0,568.5L165.5,582.2L166.0,556.3L166.5,561.6L167.0,566.7L167.5,576.0L168.0,575.3L168.5,583.5L169.0,583.0L169.5,588.9L170.0,587.9L170.5,590.6L171.0,593.4L171.5,596.1L172.0,603.3L172.5,606.8L173.0,606.3L173.5,611.8L174.0,605.4L174.5,605.6L175.0,605.8L175.5,608.9L176.0,608.9L176.5,609.2L177.0,609.5L177.5,608.2L178.0,610.2L178.5,611.8L179.0,611.5L179.5,611.8L180.0,611.8L180.5,611.5L181.0,610.7L181.5,611.7L182.0,611.8L182.5,610.6L183.0,610.0L183.5,611.8L184.0,611.8L184.5,611.5L185.0,611.8L185.5,610.9L186.0,611.5L186.5,611.8L187.0,611.8L187.5,611.8L188.0,611.5L188.5,611.5L189.0,611.5L189.5,611.5L190.0,611.5L190.5,611.5L191.0,611.8L191.5,611.8L192.0,611.5L192.5,611.7L193.0,610.8L193.5,611.5L194.0,611.5L194.5,609.7L195.0,610.0L195.5,611.8L196.0,611.8L196.5,611.1L197.0,611.5L197.5,609.8L198.0,611.6L198.5,610.9L199.0,611.8L199.5,611.5L200.0,611.5L200.5,611.8L201.0,610.6L201.5,611.5L202.0,611.5L202.5,611.8L203.0,611.8L203.5,611.8L204.0,610.9L204.5,611.8L205.0,611.5L205.5,611.5L206.0,611.6L206.5,611.5L207.0,610.7L207.5,611.8L208.0,611.8L208.5,611.8L209.0,611.8L209.5,611.5L210.0,611.2L210.5,611.4L211.0,611.4L211.5,610.5L212.0,609.8L212.5,611.5L213.0,611.8L213.5,611.3L214.0,611.1L214.5,611.8L215.0,610.6L215.5,611.0L216.0,611.8L216.5,611.5L217.0,611.5L217.5,611.8L218.0,611.5L218.5,611.7L219.0,611.8L219.5,611.0L220.0,611.6L220.5,611.6L221.0,611.7L221.5,611.0L222.0,611.5L222.5,610.8L223.0,611.4L223.5,610.9L224.0,611.5L224.5,611.5L225.0,611.8L225.5,611.5L226.0,611.5L226.5,611.5L227.0,611.5L227.5,611.8L228.0,611.7L228.5,611.8L229.0,610.7L229.5,611.8L230.0,611.8L230.5,611.6L231.0,610.1L231.5,611.5L232.0,611.5L232.5,610.6L233.0,611.5L233.5,611.5L234.0,611.8L234.5,610.9L235.0,611.5L235.5,611.5L236.0,611.5L236.5,610.1L237.0,611.5L237.5,611.8L238.0,611.6L238.5,611.8L239.0,609.6L239.5,611.8L240.0,611.8L240.5,609.7L241.0,611.0L241.5,611.5L242.0,611.5L242.5,611.3L243.0,611.0L243.5,611.8L244.0,611.5L244.5,611.8L245.0,611.8L245.5,611.8L246.0,611.7L246.5,611.8L247.0,611.8L247.5,611.5L248.0,611.5L248.5,611.8L249.0,611.8L249.5,611.8L250.0,611.5L250.5,611.5L251.0,611.5L251.5,611.1L252.0,611.8L252.5,611.5L253.0,611.8L253.5,611.5L254.0,611.8L254.5,611.8L255.0,611.8L255.5,611.5L256.0,611.5L256.5,611.5L257.0,611.5" fill="none" stroke="#000" stroke-width="1.0"/></g><line x1="132.0" y1="614.4" x2="257.0" y2="614.4" stroke="#e6e6e6" stroke-width="1.6"/><line x1="133.0" y1="612.8" x2="133.0" y2="615.4" stroke="#777" stroke-width="0.9"/><line x1="164.6" y1="612.8" x2="164.6" y2="615.4" stroke="#777" stroke-width="0.9"/><line x1="196.2" y1="612.8" x2="196.2" y2="615.4" stroke="#777" stroke-width="0.9"/><line x1="227.8" y1="612.8" x2="227.8" y2="615.4" stroke="#777" stroke-width="0.9"/><line x1="132.0" y1="611.8" x2="257.0" y2="611.8" stroke="#1a1a1a" stroke-width="1.6"/><g transform="translate(215.35,511.75) scale(1,1.080)"><text x="0.00" y="0" class="n">4</text><g transform="translate(7.90,0)"><text x="0" y="0" class="n" clip-path="url(#one_n)">1</text></g><text x="15.79" y="0" class="n">.2</text></g><rect x="214.6" y="575.5" width="36.7" height="27.1" fill="none" stroke="#000" stroke-width="1.4"/><g transform="translate(218.60,591.80)"><text x="0.00" y="0" class="b">no. 5</text></g><rect x="131.0" y="491.0" width="127.0" height="127.5" fill="none" stroke="#000" stroke-width="2"/></g>
<g><clipPath id="c202"><rect x="259.0" y="492.0" width="125.0" height="120.3"/></clipPath><line x1="297.0" y1="606.3" x2="384.0" y2="606.3" stroke="#8a8a8a" stroke-width="0.9"/><g clip-path="url(#c202)"><path d="M259.0,611.8L259.0,604.0L259.6,604.0L260.2,604.0L260.8,604.3L261.4,611.8L262.0,604.0L262.6,609.2L263.2,606.4L263.8,609.5L264.4,602.6L265.0,602.3L265.6,602.0L266.2,601.6L266.8,605.3L267.4,607.2L268.0,600.0L268.6,608.6L269.2,604.0L269.8,598.8L270.4,603.7L271.0,596.7L271.6,596.0L272.2,595.2L272.8,594.3L273.4,599.7L274.0,595.3L274.6,593.6L275.2,590.9L275.8,598.6L276.4,594.2L277.0,586.1L277.6,584.4L278.2,582.7L278.8,581.0L279.4,578.9L280.0,583.8L280.6,581.7L281.2,581.8L281.8,568.6L282.4,565.4L283.0,562.2L283.6,566.6L284.2,555.8L284.8,560.7L285.4,550.8L286.0,554.0L286.6,540.8L287.2,538.5L287.8,536.9L288.4,562.9L289.0,528.4L289.6,525.3L290.2,522.1L290.8,539.3L291.4,548.2L292.0,511.7L292.6,511.0L293.2,512.5L293.8,519.1L294.4,514.9L295.0,524.2L295.6,521.1L296.2,511.1L296.8,545.1L297.4,523.6L298.0,529.8L298.6,561.2L299.2,543.0L299.8,549.7L300.4,554.8L301.0,594.7L301.6,566.6L302.2,571.4L302.8,583.2L303.4,586.2L304.0,585.5L304.6,590.1L305.2,594.4L305.8,605.6L306.4,608.4L307.0,606.4L307.6,606.9L308.2,610.6L308.8,611.5L309.4,611.1L310.0,611.5L310.6,611.8L311.2,611.5L311.8,611.8L312.4,611.8L313.0,611.5L313.6,611.5L314.2,611.6L314.8,611.5L315.4,611.5L316.0,611.8L316.6,611.5L317.2,611.8L317.8,611.5L318.4,611.8L319.0,611.6L319.6,610.8L320.2,611.8L320.8,610.9L321.4,611.5L322.0,609.8L322.6,611.8L323.2,611.5L323.8,611.8L324.4,611.5L325.0,611.7L325.6,611.5L326.2,609.6L326.8,611.8L327.4,610.6L328.0,611.8L328.6,611.6L329.2,611.5L329.8,611.5L330.4,611.8L331.0,611.8L331.6,611.8L332.2,611.5L332.8,611.5L333.4,609.9L334.0,610.7L334.6,611.5L335.2,611.5L335.8,611.7L336.4,611.8L337.0,609.8L337.6,611.8L338.2,611.8L338.8,611.8L339.4,611.8L340.0,610.1L340.6,610.1L341.2,611.5L341.8,611.8L342.4,611.8L343.0,611.5L343.6,611.7L344.2,611.5L344.8,611.5L345.4,611.5L346.0,611.3L346.6,610.8L347.2,610.4L347.8,611.5L348.4,611.8L349.0,611.5L349.6,611.5L350.2,611.8L350.8,610.3L351.4,611.5L352.0,609.9L352.6,611.5L353.2,611.8L353.8,610.6L354.4,610.1L355.0,611.7L355.6,611.8L356.2,610.7L356.8,609.6L357.4,611.5L358.0,611.8L358.6,611.5L359.2,611.7L359.8,611.5L360.4,610.1L361.0,611.8L361.6,611.8L362.2,611.8L362.8,611.5L363.4,611.8L364.0,611.0L364.6,611.8L365.2,611.5L365.8,611.6L366.4,611.7L367.0,611.5L367.6,611.5L368.2,611.5L368.8,611.5L369.4,611.8L370.0,611.8L370.6,611.8L371.2,610.7L371.8,611.8L372.4,611.5L373.0,611.8L373.6,611.8L374.2,611.5L374.8,609.7L375.4,611.5L376.0,611.8L376.6,611.8L377.2,610.7L377.8,611.5L378.4,611.8L379.0,611.8L379.6,611.8L380.2,611.2L380.8,609.9L381.4,611.8L382.0,611.5L382.6,611.8L383.2,611.5L383.8,611.6L383.8,611.8Z" fill="#838383" stroke="#000" stroke-width="1.0"/><clipPath id="f202"><path d="M259.0,611.8L259.0,604.0L259.6,604.0L260.2,604.0L260.8,604.3L261.4,611.8L262.0,604.0L262.6,609.2L263.2,606.4L263.8,609.5L264.4,602.6L265.0,602.3L265.6,602.0L266.2,601.6L266.8,605.3L267.4,607.2L268.0,600.0L268.6,608.6L269.2,604.0L269.8,598.8L270.4,603.7L271.0,596.7L271.6,596.0L272.2,595.2L272.8,594.3L273.4,599.7L274.0,595.3L274.6,593.6L275.2,590.9L275.8,598.6L276.4,594.2L277.0,586.1L277.6,584.4L278.2,582.7L278.8,581.0L279.4,578.9L280.0,583.8L280.6,581.7L281.2,581.8L281.8,568.6L282.4,565.4L283.0,562.2L283.6,566.6L284.2,555.8L284.8,560.7L285.4,550.8L286.0,554.0L286.6,540.8L287.2,538.5L287.8,536.9L288.4,562.9L289.0,528.4L289.6,525.3L290.2,522.1L290.8,539.3L291.4,548.2L292.0,511.7L292.6,511.0L293.2,512.5L293.8,519.1L294.4,514.9L295.0,524.2L295.6,521.1L296.2,511.1L296.8,545.1L297.4,523.6L298.0,529.8L298.6,561.2L299.2,543.0L299.8,549.7L300.4,554.8L301.0,594.7L301.6,566.6L302.2,571.4L302.8,583.2L303.4,586.2L304.0,585.5L304.6,590.1L305.2,594.4L305.8,605.6L306.4,608.4L307.0,606.4L307.6,606.9L308.2,610.6L308.8,611.5L309.4,611.1L310.0,611.5L310.6,611.8L311.2,611.5L311.8,611.8L312.4,611.8L313.0,611.5L313.6,611.5L314.2,611.6L314.8,611.5L315.4,611.5L316.0,611.8L316.6,611.5L317.2,611.8L317.8,611.5L318.4,611.8L319.0,611.6L319.6,610.8L320.2,611.8L320.8,610.9L321.4,611.5L322.0,609.8L322.6,611.8L323.2,611.5L323.8,611.8L324.4,611.5L325.0,611.7L325.6,611.5L326.2,609.6L326.8,611.8L327.4,610.6L328.0,611.8L328.6,611.6L329.2,611.5L329.8,611.5L330.4,611.8L331.0,611.8L331.6,611.8L332.2,611.5L332.8,611.5L333.4,609.9L334.0,610.7L334.6,611.5L335.2,611.5L335.8,611.7L336.4,611.8L337.0,609.8L337.6,611.8L338.2,611.8L338.8,611.8L339.4,611.8L340.0,610.1L340.6,610.1L341.2,611.5L341.8,611.8L342.4,611.8L343.0,611.5L343.6,611.7L344.2,611.5L344.8,611.5L345.4,611.5L346.0,611.3L346.6,610.8L347.2,610.4L347.8,611.5L348.4,611.8L349.0,611.5L349.6,611.5L350.2,611.8L350.8,610.3L351.4,611.5L352.0,609.9L352.6,611.5L353.2,611.8L353.8,610.6L354.4,610.1L355.0,611.7L355.6,611.8L356.2,610.7L356.8,609.6L357.4,611.5L358.0,611.8L358.6,611.5L359.2,611.7L359.8,611.5L360.4,610.1L361.0,611.8L361.6,611.8L362.2,611.8L362.8,611.5L363.4,611.8L364.0,611.0L364.6,611.8L365.2,611.5L365.8,611.6L366.4,611.7L367.0,611.5L367.6,611.5L368.2,611.5L368.8,611.5L369.4,611.8L370.0,611.8L370.6,611.8L371.2,610.7L371.8,611.8L372.4,611.5L373.0,611.8L373.6,611.8L374.2,611.5L374.8,609.7L375.4,611.5L376.0,611.8L376.6,611.8L377.2,610.7L377.8,611.5L378.4,611.8L379.0,611.8L379.6,611.8L380.2,611.2L380.8,609.9L381.4,611.8L382.0,611.5L382.6,611.8L383.2,611.5L383.8,611.6L383.8,611.8Z"/></clipPath><line x1="297.0" y1="606.3" x2="384.0" y2="606.3" stroke="#111" stroke-width="1.2" clip-path="url(#f202)"/><path d="M259.0,590.1L259.5,588.4L260.0,595.5L260.5,591.7L261.0,587.6L261.5,598.4L262.0,594.6L262.5,578.7L263.0,586.6L263.5,575.1L264.0,573.0L264.5,570.8L265.0,579.4L265.5,566.6L266.0,572.6L266.5,564.9L267.0,558.7L267.5,566.4L268.0,572.1L268.5,550.8L269.0,556.6L269.5,571.8L270.0,542.9L270.5,554.8L271.0,538.1L271.5,541.8L272.0,550.4L272.5,535.0L273.0,555.7L273.5,528.2L274.0,547.2L274.5,529.2L275.0,523.5L275.5,531.0L276.0,525.4L276.5,546.4L277.0,517.2L277.5,517.0L278.0,515.6L278.5,544.0L279.0,525.2L279.5,520.7L280.0,524.8L280.5,528.8L281.0,555.4L281.5,537.1L282.0,513.4L282.5,514.0L283.0,514.2L283.5,540.4L284.0,513.7L284.5,527.6L285.0,524.4L285.5,516.0L286.0,522.3L286.5,516.1L287.0,540.4L287.5,522.3L288.0,546.0L288.5,527.1L289.0,560.6L289.5,537.6L290.0,542.8L290.5,555.6L291.0,559.4L291.5,564.4L292.0,563.9L292.5,569.3L293.0,574.6L293.5,580.0L294.0,585.0L294.5,597.4L295.0,590.4L295.5,599.5L296.0,604.6L296.5,597.4L297.0,602.0L297.5,611.8L298.0,602.5L298.5,605.3L299.0,604.6L299.5,611.6L300.0,608.0L300.5,610.7L301.0,610.0L301.5,611.8L302.0,611.8L302.5,609.8L303.0,611.8L303.5,611.5L304.0,609.7L304.5,611.7L305.0,611.8L305.5,611.8L306.0,611.8L306.5,611.5L307.0,611.5L307.5,611.5L308.0,609.9L308.5,611.4L309.0,611.8L309.5,611.5L310.0,611.5L310.5,611.8L311.0,611.2L311.5,611.8L312.0,611.6L312.5,610.7L313.0,611.5L313.5,611.8L314.0,610.5L314.5,611.8L315.0,611.8L315.5,611.5L316.0,611.8L316.5,611.6L317.0,611.7L317.5,611.5L318.0,611.8L318.5,610.8L319.0,611.5L319.5,611.7L320.0,610.1L320.5,611.5L321.0,610.1L321.5,611.5L322.0,611.8L322.5,611.5L323.0,611.5L323.5,611.6L324.0,611.8L324.5,611.2L325.0,611.5L325.5,611.8L326.0,610.2L326.5,611.8L327.0,611.8L327.5,611.5L328.0,611.7L328.5,611.8L329.0,610.6L329.5,611.8L330.0,611.5L330.5,611.5L331.0,611.6L331.5,611.8L332.0,610.7L332.5,611.5L333.0,611.8L333.5,611.5L334.0,611.5L334.5,610.1L335.0,611.8L335.5,611.6L336.0,611.8L336.5,611.8L337.0,611.8L337.5,611.8L338.0,611.5L338.5,611.8L339.0,610.3L339.5,611.5L340.0,611.5L340.5,611.5L341.0,611.8L341.5,611.5L342.0,611.8L342.5,611.5L343.0,611.8L343.5,611.8L344.0,611.1L344.5,611.5L345.0,611.8L345.5,611.8L346.0,611.6L346.5,611.5L347.0,611.8L347.5,611.5L348.0,611.5L348.5,611.2L349.0,611.5L349.5,611.5L350.0,611.7L350.5,611.8L351.0,611.8L351.5,611.8L352.0,611.8L352.5,611.8L353.0,611.5L353.5,611.8L354.0,611.5L354.5,610.7L355.0,611.5L355.5,611.8L356.0,611.8L356.5,611.5L357.0,611.5L357.5,611.5L358.0,611.5L358.5,611.8L359.0,610.1L359.5,611.6L360.0,611.5L360.5,611.6L361.0,611.5L361.5,610.3L362.0,611.5L362.5,611.8L363.0,611.7L363.5,611.5L364.0,611.7L364.5,610.2L365.0,611.7L365.5,611.5L366.0,610.5L366.5,611.7L367.0,611.5L367.5,611.5L368.0,611.5L368.5,611.8L369.0,609.9L369.5,611.8L370.0,611.5L370.5,611.8L371.0,611.6L371.5,611.8L372.0,611.8L372.5,611.8L373.0,611.5L373.5,611.5L374.0,611.3L374.5,611.8L375.0,611.8L375.5,611.8L376.0,611.8L376.5,611.5L377.0,611.8L377.5,611.8L378.0,611.5L378.5,611.8L379.0,611.5L379.5,611.5L380.0,611.5L380.5,611.7L381.0,611.8L381.5,611.5L382.0,611.8L382.5,611.5L383.0,611.5L383.5,611.5L384.0,611.8" fill="none" stroke="#000" stroke-width="1.0"/></g><line x1="259.0" y1="614.4" x2="384.0" y2="614.4" stroke="#e6e6e6" stroke-width="1.6"/><line x1="260.0" y1="612.8" x2="260.0" y2="615.4" stroke="#777" stroke-width="0.9"/><line x1="291.6" y1="612.8" x2="291.6" y2="615.4" stroke="#777" stroke-width="0.9"/><line x1="323.2" y1="612.8" x2="323.2" y2="615.4" stroke="#777" stroke-width="0.9"/><line x1="354.8" y1="612.8" x2="354.8" y2="615.4" stroke="#777" stroke-width="0.9"/><line x1="259.0" y1="611.8" x2="384.0" y2="611.8" stroke="#1a1a1a" stroke-width="1.6"/><g transform="translate(340.20,519.50) scale(1,1.080)"><text x="0.00" y="0" class="n">34.3</text></g><rect x="336.2" y="575.5" width="41.8" height="25.5" fill="none" stroke="#000" stroke-width="1.4"/><g transform="translate(338.70,591.80)"><text x="0.00" y="0" class="b">no. </text><g transform="translate(19.91,0)"><text x="0" y="0" class="b" clip-path="url(#one_b)">1</text></g><text x="26.14" y="0" class="b">6</text></g><rect x="258.0" y="491.0" width="127.0" height="127.5" fill="none" stroke="#000" stroke-width="2"/></g>
<g><clipPath id="c203"><rect x="386.0" y="492.0" width="125.0" height="120.3"/></clipPath><line x1="426.5" y1="605.0" x2="511.0" y2="605.0" stroke="#8a8a8a" stroke-width="0.9"/><g clip-path="url(#c203)"><path d="M386.0,611.8L386.0,604.0L386.6,606.0L387.2,602.4L387.8,601.0L388.4,599.7L389.0,598.9L389.6,603.5L390.2,596.4L390.8,595.6L391.4,598.7L392.0,602.3L392.6,592.5L393.2,591.5L393.8,590.6L394.4,597.6L395.0,588.8L395.6,591.6L396.2,585.4L396.8,584.1L397.4,598.1L398.0,581.8L398.6,585.8L399.2,579.3L399.8,583.3L400.4,587.3L401.0,575.2L401.6,579.5L402.2,579.3L402.8,571.4L403.4,570.1L404.0,568.7L404.6,576.8L405.2,571.4L405.8,563.6L406.4,571.8L407.0,574.4L407.6,572.1L408.2,566.5L408.8,573.6L409.4,562.8L410.0,559.5L410.6,548.0L411.2,561.7L411.8,547.5L412.4,546.6L413.0,547.6L413.6,547.3L414.2,530.1L414.8,520.5L415.4,521.4L416.0,537.9L416.6,509.3L417.2,509.6L417.8,508.6L418.4,525.9L419.0,508.1L419.6,495.4L420.2,495.0L420.8,499.5L421.4,493.7L422.0,494.9L422.6,505.9L423.2,516.9L423.8,519.9L424.4,510.4L425.0,520.9L425.6,509.2L426.2,529.0L426.8,515.4L427.4,540.4L428.0,548.7L428.6,525.5L429.2,547.3L429.8,536.3L430.4,539.7L431.0,547.2L431.6,550.4L432.2,555.8L432.8,564.2L433.4,569.8L434.0,571.7L434.6,579.3L435.2,581.3L435.8,585.9L436.4,596.0L437.0,594.0L437.6,598.1L438.2,607.1L438.8,604.9L439.4,611.8L440.0,610.3L440.6,611.6L441.2,611.8L441.8,611.3L442.4,611.1L443.0,611.8L443.6,611.5L444.2,611.4L444.8,611.8L445.4,611.8L446.0,611.6L446.6,611.5L447.2,610.1L447.8,611.8L448.4,611.5L449.0,611.2L449.6,611.7L450.2,611.5L450.8,611.5L451.4,611.5L452.0,610.0L452.6,611.8L453.2,611.8L453.8,611.8L454.4,611.8L455.0,611.8L455.6,611.5L456.2,611.5L456.8,611.5L457.4,611.7L458.0,611.8L458.6,611.5L459.2,611.5L459.8,611.5L460.4,611.6L461.0,611.5L461.6,609.9L462.2,611.8L462.8,611.8L463.4,611.5L464.0,611.8L464.6,610.6L465.2,611.8L465.8,611.5L466.4,611.8L467.0,611.5L467.6,611.0L468.2,611.5L468.8,611.5L469.4,611.8L470.0,611.5L470.6,611.5L471.2,611.7L471.8,611.5L472.4,611.5L473.0,611.8L473.6,611.7L474.2,611.8L474.8,611.5L475.4,611.8L476.0,611.8L476.6,610.8L477.2,611.5L477.8,610.7L478.4,611.5L479.0,610.6L479.6,611.5L480.2,611.8L480.8,611.6L481.4,611.8L482.0,611.8L482.6,611.0L483.2,611.8L483.8,611.7L484.4,610.3L485.0,611.6L485.6,611.8L486.2,610.6L486.8,611.8L487.4,611.5L488.0,610.9L488.6,611.5L489.2,611.5L489.8,611.6L490.4,611.6L491.0,610.2L491.6,611.6L492.2,611.5L492.8,611.8L493.4,611.5L494.0,611.5L494.6,610.0L495.2,611.5L495.8,611.8L496.4,611.5L497.0,611.8L497.6,610.0L498.2,610.6L498.8,611.5L499.4,610.8L500.0,611.5L500.6,611.5L501.2,611.5L501.8,611.6L502.4,611.5L503.0,611.8L503.6,611.8L504.2,610.5L504.8,611.5L505.4,611.5L506.0,611.8L506.6,611.5L507.2,611.8L507.8,610.9L508.4,611.8L509.0,611.5L509.6,611.8L510.2,611.5L510.8,611.5L510.8,611.8Z" fill="#838383" stroke="#000" stroke-width="1.0"/><clipPath id="f203"><path d="M386.0,611.8L386.0,604.0L386.6,606.0L387.2,602.4L387.8,601.0L388.4,599.7L389.0,598.9L389.6,603.5L390.2,596.4L390.8,595.6L391.4,598.7L392.0,602.3L392.6,592.5L393.2,591.5L393.8,590.6L394.4,597.6L395.0,588.8L395.6,591.6L396.2,585.4L396.8,584.1L397.4,598.1L398.0,581.8L398.6,585.8L399.2,579.3L399.8,583.3L400.4,587.3L401.0,575.2L401.6,579.5L402.2,579.3L402.8,571.4L403.4,570.1L404.0,568.7L404.6,576.8L405.2,571.4L405.8,563.6L406.4,571.8L407.0,574.4L407.6,572.1L408.2,566.5L408.8,573.6L409.4,562.8L410.0,559.5L410.6,548.0L411.2,561.7L411.8,547.5L412.4,546.6L413.0,547.6L413.6,547.3L414.2,530.1L414.8,520.5L415.4,521.4L416.0,537.9L416.6,509.3L417.2,509.6L417.8,508.6L418.4,525.9L419.0,508.1L419.6,495.4L420.2,495.0L420.8,499.5L421.4,493.7L422.0,494.9L422.6,505.9L423.2,516.9L423.8,519.9L424.4,510.4L425.0,520.9L425.6,509.2L426.2,529.0L426.8,515.4L427.4,540.4L428.0,548.7L428.6,525.5L429.2,547.3L429.8,536.3L430.4,539.7L431.0,547.2L431.6,550.4L432.2,555.8L432.8,564.2L433.4,569.8L434.0,571.7L434.6,579.3L435.2,581.3L435.8,585.9L436.4,596.0L437.0,594.0L437.6,598.1L438.2,607.1L438.8,604.9L439.4,611.8L440.0,610.3L440.6,611.6L441.2,611.8L441.8,611.3L442.4,611.1L443.0,611.8L443.6,611.5L444.2,611.4L444.8,611.8L445.4,611.8L446.0,611.6L446.6,611.5L447.2,610.1L447.8,611.8L448.4,611.5L449.0,611.2L449.6,611.7L450.2,611.5L450.8,611.5L451.4,611.5L452.0,610.0L452.6,611.8L453.2,611.8L453.8,611.8L454.4,611.8L455.0,611.8L455.6,611.5L456.2,611.5L456.8,611.5L457.4,611.7L458.0,611.8L458.6,611.5L459.2,611.5L459.8,611.5L460.4,611.6L461.0,611.5L461.6,609.9L462.2,611.8L462.8,611.8L463.4,611.5L464.0,611.8L464.6,610.6L465.2,611.8L465.8,611.5L466.4,611.8L467.0,611.5L467.6,611.0L468.2,611.5L468.8,611.5L469.4,611.8L470.0,611.5L470.6,611.5L471.2,611.7L471.8,611.5L472.4,611.5L473.0,611.8L473.6,611.7L474.2,611.8L474.8,611.5L475.4,611.8L476.0,611.8L476.6,610.8L477.2,611.5L477.8,610.7L478.4,611.5L479.0,610.6L479.6,611.5L480.2,611.8L480.8,611.6L481.4,611.8L482.0,611.8L482.6,611.0L483.2,611.8L483.8,611.7L484.4,610.3L485.0,611.6L485.6,611.8L486.2,610.6L486.8,611.8L487.4,611.5L488.0,610.9L488.6,611.5L489.2,611.5L489.8,611.6L490.4,611.6L491.0,610.2L491.6,611.6L492.2,611.5L492.8,611.8L493.4,611.5L494.0,611.5L494.6,610.0L495.2,611.5L495.8,611.8L496.4,611.5L497.0,611.8L497.6,610.0L498.2,610.6L498.8,611.5L499.4,610.8L500.0,611.5L500.6,611.5L501.2,611.5L501.8,611.6L502.4,611.5L503.0,611.8L503.6,611.8L504.2,610.5L504.8,611.5L505.4,611.5L506.0,611.8L506.6,611.5L507.2,611.8L507.8,610.9L508.4,611.8L509.0,611.5L509.6,611.8L510.2,611.5L510.8,611.5L510.8,611.8Z"/></clipPath><line x1="426.5" y1="605.0" x2="511.0" y2="605.0" stroke="#111" stroke-width="1.2" clip-path="url(#f203)"/><path d="M386.0,583.6L386.5,580.8L387.0,575.0L387.5,589.0L388.0,570.3L388.5,580.4L389.0,567.1L389.5,565.5L390.0,563.9L390.5,576.5L391.0,591.3L391.5,560.6L392.0,575.3L392.5,558.6L393.0,579.0L393.5,561.1L394.0,558.8L394.5,556.2L395.0,567.8L395.5,568.5L396.0,560.6L396.5,552.6L397.0,559.2L397.5,550.5L398.0,548.0L398.5,545.4L399.0,542.7L399.5,569.6L400.0,537.5L400.5,534.3L401.0,537.4L401.5,528.1L402.0,524.9L402.5,529.4L403.0,522.6L403.5,533.8L404.0,514.0L404.5,540.7L405.0,514.7L405.5,521.4L406.0,502.5L406.5,499.3L407.0,496.2L407.5,494.4L408.0,497.0L408.5,531.3L409.0,504.1L409.5,532.0L410.0,509.0L410.5,521.2L411.0,519.5L411.5,506.6L412.0,506.6L412.5,527.7L413.0,522.3L413.5,516.4L414.0,524.6L414.5,518.6L415.0,517.5L415.5,539.5L416.0,522.0L416.5,558.6L417.0,534.8L417.5,534.7L418.0,539.2L418.5,562.0L419.0,558.1L419.5,563.4L420.0,568.0L420.5,583.1L421.0,582.1L421.5,571.5L422.0,578.4L422.5,585.4L423.0,585.4L423.5,589.3L424.0,601.5L424.5,597.2L425.0,605.5L425.5,605.7L426.0,611.8L426.5,605.1L427.0,610.3L427.5,608.9L428.0,607.9L428.5,610.3L429.0,611.8L429.5,609.9L430.0,611.8L430.5,610.4L431.0,611.5L431.5,611.8L432.0,611.5L432.5,611.5L433.0,611.5L433.5,610.8L434.0,611.8L434.5,611.5L435.0,611.8L435.5,610.3L436.0,611.8L436.5,611.3L437.0,611.8L437.5,611.5L438.0,611.5L438.5,611.8L439.0,611.5L439.5,611.5L440.0,611.5L440.5,611.8L441.0,611.5L441.5,610.6L442.0,609.9L442.5,611.8L443.0,611.8L443.5,610.9L444.0,611.5L444.5,611.5L445.0,611.8L445.5,611.5L446.0,611.5L446.5,610.6L447.0,611.8L447.5,611.5L448.0,611.8L448.5,611.8L449.0,611.5L449.5,611.7L450.0,611.5L450.5,611.7L451.0,611.5L451.5,610.2L452.0,611.8L452.5,611.5L453.0,611.5L453.5,611.8L454.0,611.8L454.5,609.7L455.0,611.6L455.5,610.0L456.0,611.4L456.5,611.8L457.0,611.8L457.5,611.5L458.0,610.0L458.5,611.5L459.0,610.7L459.5,611.5L460.0,611.4L460.5,610.7L461.0,611.5L461.5,611.8L462.0,611.8L462.5,611.5L463.0,611.7L463.5,611.5L464.0,611.5L464.5,611.6L465.0,610.3L465.5,610.0L466.0,611.3L466.5,611.8L467.0,611.5L467.5,611.5L468.0,611.8L468.5,611.8L469.0,611.5L469.5,611.5L470.0,611.8L470.5,611.5L471.0,611.8L471.5,609.6L472.0,611.8L472.5,611.5L473.0,611.5L473.5,611.5L474.0,611.8L474.5,611.5L475.0,611.8L475.5,610.9L476.0,611.5L476.5,611.8L477.0,611.8L477.5,611.5L478.0,611.8L478.5,611.8L479.0,611.5L479.5,611.6L480.0,610.5L480.5,611.6L481.0,611.8L481.5,611.5L482.0,611.5L482.5,611.5L483.0,611.5L483.5,611.8L484.0,609.6L484.5,611.5L485.0,611.8L485.5,611.8L486.0,609.9L486.5,611.5L487.0,610.3L487.5,611.5L488.0,610.8L488.5,611.5L489.0,611.8L489.5,611.8L490.0,611.8L490.5,611.8L491.0,611.8L491.5,611.8L492.0,610.1L492.5,611.5L493.0,611.6L493.5,611.8L494.0,611.8L494.5,611.8L495.0,610.2L495.5,611.8L496.0,611.8L496.5,611.5L497.0,611.5L497.5,611.5L498.0,611.8L498.5,611.8L499.0,611.5L499.5,611.5L500.0,611.5L500.5,611.8L501.0,611.8L501.5,611.5L502.0,610.6L502.5,611.1L503.0,611.5L503.5,611.8L504.0,611.7L504.5,611.5L505.0,611.8L505.5,611.8L506.0,611.5L506.5,611.5L507.0,611.5L507.5,611.8L508.0,611.8L508.5,611.5L509.0,611.5L509.5,611.7L510.0,611.8L510.5,611.5L511.0,611.8" fill="none" stroke="#000" stroke-width="1.0"/></g><line x1="386.0" y1="614.4" x2="511.0" y2="614.4" stroke="#e6e6e6" stroke-width="1.6"/><line x1="387.0" y1="612.8" x2="387.0" y2="615.4" stroke="#777" stroke-width="0.9"/><line x1="418.6" y1="612.8" x2="418.6" y2="615.4" stroke="#777" stroke-width="0.9"/><line x1="450.2" y1="612.8" x2="450.2" y2="615.4" stroke="#777" stroke-width="0.9"/><line x1="481.8" y1="612.8" x2="481.8" y2="615.4" stroke="#777" stroke-width="0.9"/><line x1="386.0" y1="611.8" x2="511.0" y2="611.8" stroke="#1a1a1a" stroke-width="1.6"/><g transform="translate(465.80,521.30) scale(1,1.080)"><text x="0.00" y="0" class="n">28.4</text></g><rect x="464.4" y="575.7" width="41.5" height="25.7" fill="none" stroke="#000" stroke-width="1.4"/><g transform="translate(467.10,591.80)"><text x="0.00" y="0" class="b">no. 20</text></g><rect x="385.0" y="491.0" width="127.0" height="127.5" fill="none" stroke="#000" stroke-width="2"/></g>
<g><clipPath id="c210"><rect x="5.0" y="619.5" width="125.0" height="120.8"/></clipPath><line x1="42.4" y1="730.0" x2="130.0" y2="730.0" stroke="#8a8a8a" stroke-width="0.9"/><g clip-path="url(#c210)"><path d="M5.0,739.8L5.0,739.0L5.6,739.7L6.2,739.8L6.8,739.5L7.4,738.6L8.0,737.7L8.6,738.0L9.2,739.8L9.8,739.8L10.4,737.4L11.0,736.4L11.6,739.5L12.2,734.1L12.8,734.4L13.4,733.5L14.0,732.1L14.6,732.0L15.2,738.2L15.8,730.1L16.4,729.4L17.0,728.7L17.6,728.7L18.2,727.4L18.8,729.7L19.4,729.1L20.0,728.7L20.6,725.4L21.2,723.5L21.8,722.4L22.4,729.3L23.0,723.3L23.6,716.9L24.2,715.2L24.8,714.0L25.4,719.8L26.0,711.4L26.6,712.0L27.2,708.3L27.8,713.5L28.4,704.9L29.0,707.1L29.6,702.9L30.2,701.7L30.8,699.5L31.4,707.1L32.0,693.4L32.6,698.6L33.2,689.2L33.8,691.4L34.4,696.9L35.0,701.4L35.6,687.7L36.2,664.4L36.8,661.9L37.4,651.3L38.0,644.1L38.6,637.1L39.2,656.5L39.8,634.1L40.4,648.9L41.0,626.4L41.6,638.1L42.2,623.5L42.8,634.2L43.4,623.7L44.0,625.6L44.6,627.5L45.2,631.1L45.8,678.2L46.4,657.0L47.0,666.6L47.6,652.9L48.2,676.9L48.8,663.8L49.4,670.8L50.0,674.5L50.6,681.0L51.2,699.5L51.8,700.9L52.4,701.9L53.0,715.2L53.6,714.0L54.2,728.8L54.8,721.4L55.4,732.7L56.0,727.2L56.6,735.5L57.2,732.1L57.8,736.1L58.4,733.5L59.0,738.4L59.6,736.8L60.2,737.3L60.8,736.6L61.4,738.1L62.0,739.0L62.6,738.6L63.2,738.6L63.8,738.1L64.4,739.8L65.0,739.5L65.6,739.7L66.2,739.5L66.8,739.6L67.4,739.5L68.0,739.7L68.6,739.5L69.2,739.8L69.8,739.6L70.4,739.5L71.0,738.1L71.6,739.5L72.2,739.5L72.8,739.6L73.4,738.2L74.0,739.8L74.6,739.5L75.2,739.8L75.8,739.8L76.4,738.5L77.0,739.8L77.6,738.4L78.2,739.8L78.8,739.8L79.4,739.8L80.0,739.5L80.6,739.8L81.2,739.5L81.8,739.5L82.4,739.5L83.0,739.7L83.6,739.5L84.2,739.8L84.8,739.8L85.4,739.8L86.0,739.5L86.6,739.8L87.2,739.8L87.8,739.7L88.4,738.3L89.0,739.5L89.6,739.6L90.2,739.8L90.8,739.8L91.4,739.8L92.0,739.8L92.6,737.9L93.2,738.1L93.8,739.6L94.4,739.5L95.0,739.5L95.6,739.5L96.2,739.5L96.8,739.8L97.4,739.5L98.0,739.8L98.6,739.5L99.2,739.8L99.8,739.8L100.4,739.5L101.0,737.9L101.6,739.8L102.2,739.5L102.8,739.2L103.4,739.5L104.0,739.8L104.6,739.5L105.2,739.5L105.8,739.8L106.4,739.5L107.0,739.5L107.6,739.5L108.2,739.5L108.8,739.5L109.4,739.5L110.0,739.7L110.6,739.8L111.2,739.8L111.8,739.5L112.4,739.8L113.0,738.3L113.6,739.5L114.2,738.9L114.8,739.5L115.4,739.8L116.0,739.8L116.6,739.5L117.2,739.8L117.8,739.5L118.4,739.7L119.0,739.8L119.6,739.8L120.2,739.5L120.8,739.8L121.4,739.7L122.0,739.5L122.6,739.5L123.2,739.7L123.8,739.5L124.4,739.8L125.0,739.8L125.6,739.8L126.2,739.8L126.8,738.4L127.4,739.8L128.0,739.8L128.6,739.8L129.2,739.8L129.8,739.7L129.8,739.8Z" fill="#838383" stroke="#000" stroke-width="1.0"/><clipPath id="f210"><path d="M5.0,739.8L5.0,739.0L5.6,739.7L6.2,739.8L6.8,739.5L7.4,738.6L8.0,737.7L8.6,738.0L9.2,739.8L9.8,739.8L10.4,737.4L11.0,736.4L11.6,739.5L12.2,734.1L12.8,734.4L13.4,733.5L14.0,732.1L14.6,732.0L15.2,738.2L15.8,730.1L16.4,729.4L17.0,728.7L17.6,728.7L18.2,727.4L18.8,729.7L19.4,729.1L20.0,728.7L20.6,725.4L21.2,723.5L21.8,722.4L22.4,729.3L23.0,723.3L23.6,716.9L24.2,715.2L24.8,714.0L25.4,719.8L26.0,711.4L26.6,712.0L27.2,708.3L27.8,713.5L28.4,704.9L29.0,707.1L29.6,702.9L30.2,701.7L30.8,699.5L31.4,707.1L32.0,693.4L32.6,698.6L33.2,689.2L33.8,691.4L34.4,696.9L35.0,701.4L35.6,687.7L36.2,664.4L36.8,661.9L37.4,651.3L38.0,644.1L38.6,637.1L39.2,656.5L39.8,634.1L40.4,648.9L41.0,626.4L41.6,638.1L42.2,623.5L42.8,634.2L43.4,623.7L44.0,625.6L44.6,627.5L45.2,631.1L45.8,678.2L46.4,657.0L47.0,666.6L47.6,652.9L48.2,676.9L48.8,663.8L49.4,670.8L50.0,674.5L50.6,681.0L51.2,699.5L51.8,700.9L52.4,701.9L53.0,715.2L53.6,714.0L54.2,728.8L54.8,721.4L55.4,732.7L56.0,727.2L56.6,735.5L57.2,732.1L57.8,736.1L58.4,733.5L59.0,738.4L59.6,736.8L60.2,737.3L60.8,736.6L61.4,738.1L62.0,739.0L62.6,738.6L63.2,738.6L63.8,738.1L64.4,739.8L65.0,739.5L65.6,739.7L66.2,739.5L66.8,739.6L67.4,739.5L68.0,739.7L68.6,739.5L69.2,739.8L69.8,739.6L70.4,739.5L71.0,738.1L71.6,739.5L72.2,739.5L72.8,739.6L73.4,738.2L74.0,739.8L74.6,739.5L75.2,739.8L75.8,739.8L76.4,738.5L77.0,739.8L77.6,738.4L78.2,739.8L78.8,739.8L79.4,739.8L80.0,739.5L80.6,739.8L81.2,739.5L81.8,739.5L82.4,739.5L83.0,739.7L83.6,739.5L84.2,739.8L84.8,739.8L85.4,739.8L86.0,739.5L86.6,739.8L87.2,739.8L87.8,739.7L88.4,738.3L89.0,739.5L89.6,739.6L90.2,739.8L90.8,739.8L91.4,739.8L92.0,739.8L92.6,737.9L93.2,738.1L93.8,739.6L94.4,739.5L95.0,739.5L95.6,739.5L96.2,739.5L96.8,739.8L97.4,739.5L98.0,739.8L98.6,739.5L99.2,739.8L99.8,739.8L100.4,739.5L101.0,737.9L101.6,739.8L102.2,739.5L102.8,739.2L103.4,739.5L104.0,739.8L104.6,739.5L105.2,739.5L105.8,739.8L106.4,739.5L107.0,739.5L107.6,739.5L108.2,739.5L108.8,739.5L109.4,739.5L110.0,739.7L110.6,739.8L111.2,739.8L111.8,739.5L112.4,739.8L113.0,738.3L113.6,739.5L114.2,738.9L114.8,739.5L115.4,739.8L116.0,739.8L116.6,739.5L117.2,739.8L117.8,739.5L118.4,739.7L119.0,739.8L119.6,739.8L120.2,739.5L120.8,739.8L121.4,739.7L122.0,739.5L122.6,739.5L123.2,739.7L123.8,739.5L124.4,739.8L125.0,739.8L125.6,739.8L126.2,739.8L126.8,738.4L127.4,739.8L128.0,739.8L128.6,739.8L129.2,739.8L129.8,739.7L129.8,739.8Z"/></clipPath><line x1="42.4" y1="730.0" x2="130.0" y2="730.0" stroke="#111" stroke-width="1.2" clip-path="url(#f210)"/><path d="M5.0,708.5L5.5,705.8L6.0,731.3L6.5,711.0L7.0,704.1L7.5,702.6L8.0,701.7L8.5,700.1L9.0,718.5L9.5,709.4L10.0,695.3L10.5,701.7L11.0,712.8L11.5,716.0L12.0,706.8L12.5,687.3L13.0,699.8L13.5,715.7L14.0,692.6L14.5,716.7L15.0,691.0L15.5,672.4L16.0,670.3L16.5,668.2L17.0,669.4L17.5,667.5L18.0,662.2L18.5,660.6L19.0,659.5L19.5,657.5L20.0,677.3L20.5,685.9L21.0,652.8L21.5,662.4L22.0,649.6L22.5,648.1L23.0,678.9L23.5,674.8L24.0,649.7L24.5,658.8L25.0,640.2L25.5,638.9L26.0,637.6L26.5,636.3L27.0,635.0L27.5,649.1L28.0,693.3L28.5,636.6L29.0,638.4L29.5,640.2L30.0,642.0L30.5,648.3L31.0,686.4L31.5,649.7L32.0,652.4L32.5,668.3L33.0,667.4L33.5,668.4L34.0,671.0L34.5,677.3L35.0,683.6L35.5,688.9L36.0,713.1L36.5,714.9L37.0,726.0L37.5,710.1L38.0,720.5L38.5,724.6L39.0,723.2L39.5,720.8L40.0,722.5L40.5,736.9L41.0,725.8L41.5,727.5L42.0,731.7L42.5,730.0L43.0,731.0L43.5,737.8L44.0,734.7L44.5,733.9L45.0,736.0L45.5,736.9L46.0,736.6L46.5,735.3L47.0,738.2L47.5,739.4L48.0,736.8L48.5,739.6L49.0,738.2L49.5,738.5L50.0,739.8L50.5,737.9L51.0,739.8L51.5,739.5L52.0,739.5L52.5,739.8L53.0,739.8L53.5,739.5L54.0,739.5L54.5,738.6L55.0,739.8L55.5,739.5L56.0,739.5L56.5,739.5L57.0,739.3L57.5,739.6L58.0,739.5L58.5,739.5L59.0,739.8L59.5,739.5L60.0,739.3L60.5,739.5L61.0,739.8L61.5,739.5L62.0,739.5L62.5,739.4L63.0,739.8L63.5,739.8L64.0,737.9L64.5,738.0L65.0,739.8L65.5,737.8L66.0,738.7L66.5,739.8L67.0,738.8L67.5,739.5L68.0,739.0L68.5,739.6L69.0,738.5L69.5,739.5L70.0,739.6L70.5,739.8L71.0,739.0L71.5,739.8L72.0,739.5L72.5,739.7L73.0,739.8L73.5,739.5L74.0,739.8L74.5,739.8L75.0,739.2L75.5,739.3L76.0,739.8L76.5,739.5L77.0,739.7L77.5,739.8L78.0,739.6L78.5,739.5L79.0,738.2L79.5,739.7L80.0,739.5L80.5,739.7L81.0,739.8L81.5,739.8L82.0,739.5L82.5,739.5L83.0,738.5L83.5,739.8L84.0,739.8L84.5,739.2L85.0,739.5L85.5,739.8L86.0,739.8L86.5,739.8L87.0,739.5L87.5,738.2L88.0,739.5L88.5,739.8L89.0,739.6L89.5,739.8L90.0,739.5L90.5,739.6L91.0,739.5L91.5,739.5L92.0,739.8L92.5,739.8L93.0,739.5L93.5,739.8L94.0,739.8L94.5,739.5L95.0,739.8L95.5,739.8L96.0,739.8L96.5,739.5L97.0,739.8L97.5,739.8L98.0,739.8L98.5,737.5L99.0,738.8L99.5,739.5L100.0,739.8L100.5,739.8L101.0,739.8L101.5,739.8L102.0,739.5L102.5,739.8L103.0,739.8L103.5,739.8L104.0,739.5L104.5,739.5L105.0,739.8L105.5,739.5L106.0,739.5L106.5,738.4L107.0,739.7L107.5,739.5L108.0,738.8L108.5,739.7L109.0,739.6L109.5,739.7L110.0,739.5L110.5,739.8L111.0,737.6L111.5,739.8L112.0,739.8L112.5,739.1L113.0,739.5L113.5,739.8L114.0,739.5L114.5,739.5L115.0,739.8L115.5,739.5L116.0,739.6L116.5,739.1L117.0,738.8L117.5,738.5L118.0,739.8L118.5,738.5L119.0,738.3L119.5,739.8L120.0,739.5L120.5,739.8L121.0,739.5L121.5,739.5L122.0,738.3L122.5,737.8L123.0,739.5L123.5,739.8L124.0,739.7L124.5,739.7L125.0,739.5L125.5,739.3L126.0,739.8L126.5,739.6L127.0,739.0L127.5,739.8L128.0,739.7L128.5,738.6L129.0,739.8L129.5,739.5L130.0,739.8" fill="none" stroke="#000" stroke-width="1.0"/></g><line x1="5.0" y1="742.4" x2="130.0" y2="742.4" stroke="#e6e6e6" stroke-width="1.6"/><line x1="6.0" y1="740.8" x2="6.0" y2="743.4" stroke="#777" stroke-width="0.9"/><line x1="37.6" y1="740.8" x2="37.6" y2="743.4" stroke="#777" stroke-width="0.9"/><line x1="69.2" y1="740.8" x2="69.2" y2="743.4" stroke="#777" stroke-width="0.9"/><line x1="100.8" y1="740.8" x2="100.8" y2="743.4" stroke="#777" stroke-width="0.9"/><line x1="5.0" y1="739.8" x2="130.0" y2="739.8" stroke="#1a1a1a" stroke-width="1.6"/><g transform="translate(88.80,647.05) scale(1,1.080)"><text x="0.00" y="0" class="n">4</text><g transform="translate(7.90,0)"><text x="0" y="0" class="n" clip-path="url(#one_n)">1</text></g><text x="15.79" y="0" class="n">.</text><g transform="translate(19.74,0)"><text x="0" y="0" class="n" clip-path="url(#one_n)">1</text></g></g><rect x="88.8" y="702.9" width="35.2" height="25.6" fill="none" stroke="#000" stroke-width="1.4"/><g transform="translate(92.50,718.80)"><text x="0.00" y="0" class="b">no. 2</text></g><rect x="4.0" y="618.5" width="127.0" height="127.5" fill="none" stroke="#000" stroke-width="2"/></g>
<g><clipPath id="c211"><rect x="132.0" y="619.5" width="125.0" height="120.8"/></clipPath><g clip-path="url(#c211)"><path d="M132.0,739.8L132.0,739.5L132.6,739.4L133.2,739.5L133.8,739.8L134.4,739.7L135.0,739.1L135.6,738.4L136.2,739.8L136.8,739.3L137.4,739.5L138.0,739.5L138.6,739.5L139.2,739.5L139.8,739.5L140.4,738.9L141.0,739.8L141.6,738.9L142.2,739.5L142.8,739.5L143.4,738.1L144.0,738.2L144.6,737.8L145.2,738.9L145.8,738.4L146.4,737.4L147.0,739.8L147.6,734.4L148.2,736.3L148.8,733.0L149.4,732.4L150.0,731.4L150.6,731.0L151.2,728.6L151.8,733.5L152.4,733.5L153.0,728.1L153.6,728.6L154.2,723.0L154.8,729.9L155.4,723.6L156.0,714.1L156.6,710.0L157.2,707.4L157.8,704.9L158.4,703.1L159.0,698.3L159.6,694.5L160.2,696.1L160.8,698.7L161.4,683.2L162.0,696.4L162.6,676.8L163.2,673.7L163.8,667.6L164.4,663.9L165.0,662.7L165.6,654.5L166.2,649.3L166.8,661.3L167.4,652.4L168.0,637.0L168.6,647.0L169.2,637.2L169.8,632.3L170.4,637.4L171.0,629.2L171.6,643.7L172.2,644.8L172.8,641.1L173.4,641.4L174.0,646.7L174.6,668.0L175.2,667.1L175.8,662.9L176.4,686.9L177.0,674.5L177.6,696.1L178.2,694.4L178.8,690.3L179.4,702.4L180.0,705.2L180.6,706.2L181.2,710.1L181.8,717.5L182.4,723.3L183.0,728.4L183.6,725.5L184.2,723.2L184.8,730.5L185.4,729.3L186.0,731.2L186.6,732.1L187.2,730.3L187.8,731.9L188.4,733.0L189.0,736.8L189.6,739.8L190.2,739.8L190.8,738.2L191.4,738.8L192.0,738.3L192.6,738.5L193.2,739.2L193.8,739.5L194.4,737.8L195.0,739.7L195.6,739.8L196.2,739.8L196.8,739.5L197.4,739.5L198.0,739.8L198.6,738.9L199.2,739.8L199.8,739.8L200.4,739.8L201.0,739.8L201.6,739.7L202.2,739.3L202.8,739.5L203.4,739.6L204.0,739.5L204.6,739.7L205.2,739.4L205.8,739.5L206.4,739.8L207.0,739.5L207.6,739.8L208.2,739.5L208.8,739.8L209.4,739.2L210.0,739.8L210.6,739.2L211.2,739.5L211.8,739.5L212.4,739.8L213.0,739.0L213.6,739.8L214.2,738.3L214.8,739.5L215.4,739.5L216.0,739.8L216.6,739.8L217.2,739.8L217.8,739.8L218.4,739.8L219.0,737.9L219.6,738.5L220.2,739.5L220.8,739.5L221.4,739.8L222.0,739.7L222.6,739.5L223.2,739.5L223.8,739.8L224.4,739.8L225.0,739.5L225.6,739.5L226.2,738.4L226.8,739.8L227.4,739.8L228.0,739.7L228.6,739.5L229.2,738.3L229.8,739.5L230.4,739.5L231.0,739.8L231.6,739.7L232.2,739.8L232.8,739.8L233.4,739.7L234.0,739.5L234.6,739.8L235.2,738.3L235.8,739.8L236.4,739.7L237.0,739.6L237.6,739.0L238.2,739.7L238.8,739.8L239.4,739.8L240.0,739.0L240.6,739.7L241.2,739.5L241.8,739.8L242.4,739.8L243.0,739.5L243.6,739.6L244.2,739.5L244.8,739.7L245.4,739.8L246.0,737.9L246.6,739.8L247.2,739.8L247.8,739.5L248.4,739.8L249.0,739.5L249.6,737.9L250.2,739.6L250.8,738.4L251.4,739.5L252.0,739.5L252.6,739.5L253.2,739.7L253.8,739.8L254.4,739.8L255.0,739.8L255.6,739.8L256.2,739.8L256.8,739.8L256.8,739.8Z" fill="#bbbbbb" stroke="#000" stroke-width="1.0"/><path d="M132.0,732.9L132.5,734.9L133.0,730.4L133.5,729.3L134.0,728.2L134.5,728.3L135.0,731.7L135.5,736.3L136.0,734.8L136.5,729.7L137.0,723.8L137.5,723.1L138.0,722.0L138.5,723.6L139.0,734.6L139.5,718.7L140.0,717.4L140.5,715.8L141.0,714.1L141.5,725.6L142.0,711.9L142.5,730.1L143.0,706.9L143.5,716.7L144.0,702.6L144.5,715.3L145.0,702.6L145.5,696.2L146.0,701.2L146.5,694.5L147.0,697.5L147.5,688.0L148.0,687.2L148.5,683.7L149.0,688.1L149.5,685.9L150.0,680.1L150.5,677.5L151.0,681.4L151.5,678.0L152.0,668.7L152.5,673.1L153.0,673.8L153.5,690.8L154.0,687.7L154.5,655.8L155.0,673.8L155.5,651.5L156.0,657.8L156.5,647.3L157.0,657.4L157.5,665.7L158.0,656.2L158.5,635.6L159.0,650.7L159.5,647.2L160.0,660.5L160.5,648.6L161.0,639.7L161.5,641.4L162.0,647.9L162.5,652.0L163.0,664.2L163.5,662.5L164.0,677.9L164.5,690.4L165.0,664.4L165.5,668.9L166.0,679.1L166.5,683.3L167.0,687.2L167.5,694.5L168.0,700.0L168.5,705.7L169.0,711.0L169.5,716.4L170.0,718.6L170.5,729.2L171.0,724.5L171.5,726.6L172.0,733.1L172.5,730.0L173.0,731.7L173.5,739.8L174.0,737.7L174.5,737.1L175.0,739.8L175.5,737.7L176.0,739.8L176.5,738.4L177.0,739.5L177.5,739.8L178.0,739.5L178.5,739.5L179.0,739.5L179.5,739.8L180.0,739.8L180.5,738.3L181.0,739.5L181.5,739.5L182.0,738.5L182.5,739.5L183.0,738.6L183.5,739.5L184.0,738.4L184.5,739.5L185.0,739.5L185.5,739.5L186.0,739.5L186.5,738.3L187.0,739.8L187.5,739.8L188.0,738.2L188.5,739.8L189.0,739.4L189.5,739.8L190.0,739.6L190.5,737.6L191.0,739.5L191.5,739.5L192.0,738.4L192.5,739.7L193.0,739.8L193.5,739.8L194.0,739.8L194.5,739.8L195.0,739.5L195.5,739.8L196.0,739.8L196.5,739.8L197.0,739.8L197.5,739.8L198.0,739.5L198.5,739.8L199.0,739.8L199.5,738.1L200.0,739.0L200.5,739.6L201.0,739.5L201.5,739.7L202.0,739.5L202.5,739.5L203.0,739.8L203.5,739.8L204.0,739.8L204.5,738.0L205.0,739.8L205.5,739.5L206.0,739.8L206.5,739.5L207.0,739.8L207.5,739.5L208.0,739.5L208.5,737.7L209.0,739.8L209.5,739.5L210.0,739.8L210.5,739.8L211.0,739.5L211.5,739.5L212.0,739.8L212.5,738.6L213.0,739.8L213.5,739.8L214.0,739.5L214.5,738.4L215.0,739.5L215.5,739.8L216.0,739.8L216.5,739.8L217.0,738.9L217.5,739.5L218.0,739.5L218.5,739.8L219.0,739.5L219.5,737.8L220.0,739.2L220.5,739.5L221.0,739.5L221.5,739.8L222.0,739.8L222.5,739.8L223.0,739.8L223.5,739.8L224.0,739.6L224.5,739.8L225.0,739.5L225.5,739.5L226.0,739.5L226.5,739.8L227.0,739.1L227.5,739.5L228.0,739.8L228.5,739.8L229.0,739.7L229.5,739.3L230.0,739.7L230.5,739.8L231.0,739.8L231.5,737.5L232.0,739.7L232.5,739.8L233.0,739.8L233.5,739.5L234.0,739.5L234.5,739.5L235.0,739.8L235.5,739.8L236.0,739.5L236.5,738.5L237.0,739.2L237.5,739.8L238.0,739.8L238.5,738.2L239.0,739.8L239.5,739.5L240.0,739.5L240.5,739.7L241.0,739.8L241.5,739.8L242.0,739.5L242.5,739.8L243.0,739.5L243.5,739.0L244.0,739.5L244.5,739.5L245.0,739.5L245.5,739.5L246.0,739.8L246.5,739.5L247.0,739.8L247.5,739.5L248.0,739.6L248.5,739.8L249.0,738.9L249.5,738.6L250.0,739.8L250.5,739.8L251.0,739.5L251.5,739.8L252.0,739.8L252.5,739.8L253.0,739.5L253.5,739.8L254.0,739.7L254.5,738.9L255.0,739.5L255.5,739.5L256.0,739.5L256.5,739.0L257.0,739.8" fill="none" stroke="#000" stroke-width="1.0"/></g><line x1="132.0" y1="742.4" x2="257.0" y2="742.4" stroke="#e6e6e6" stroke-width="1.6"/><line x1="133.0" y1="740.8" x2="133.0" y2="743.4" stroke="#777" stroke-width="0.9"/><line x1="164.6" y1="740.8" x2="164.6" y2="743.4" stroke="#777" stroke-width="0.9"/><line x1="196.2" y1="740.8" x2="196.2" y2="743.4" stroke="#777" stroke-width="0.9"/><line x1="227.8" y1="740.8" x2="227.8" y2="743.4" stroke="#777" stroke-width="0.9"/><line x1="132.0" y1="739.8" x2="257.0" y2="739.8" stroke="#1a1a1a" stroke-width="1.6"/><g transform="translate(215.05,649.75) scale(1,1.080)"><text x="0.00" y="0" class="n">38.9</text></g><rect x="215.8" y="703.7" width="35.2" height="25.7" fill="none" stroke="#000" stroke-width="1.4"/><g transform="translate(218.40,718.80)"><text x="0.00" y="0" class="b">no. 7</text></g><rect x="131.0" y="618.5" width="127.0" height="127.5" fill="none" stroke="#000" stroke-width="2"/></g>
<g><clipPath id="c212"><rect x="259.0" y="619.5" width="125.0" height="120.8"/></clipPath><line x1="282.0" y1="731.0" x2="384.0" y2="731.0" stroke="#8a8a8a" stroke-width="0.9"/><g clip-path="url(#c212)"><path d="M259.0,739.8L259.0,637.8L259.6,627.7L260.2,633.9L260.8,623.5L261.4,658.0L262.0,624.9L262.6,625.6L263.2,634.5L263.8,653.1L264.4,632.2L265.0,621.0L265.6,621.0L266.2,621.0L266.8,669.1L267.4,621.0L268.0,621.0L268.6,629.5L269.2,625.1L269.8,627.6L270.4,670.4L271.0,633.6L271.6,671.6L272.2,641.2L272.8,675.6L273.4,687.8L274.0,653.6L274.6,672.3L275.2,678.7L275.8,667.2L276.4,675.8L277.0,677.4L277.6,690.0L278.2,692.7L278.8,723.3L279.4,694.8L280.0,707.6L280.6,702.3L281.2,716.2L281.8,732.9L282.4,712.1L283.0,715.3L283.6,739.8L284.2,733.2L284.8,723.3L285.4,725.9L286.0,731.8L286.6,729.4L287.2,731.1L287.8,732.9L288.4,739.8L289.0,736.5L289.6,737.0L290.2,739.6L290.8,737.9L291.4,737.0L292.0,739.8L292.6,739.8L293.2,739.4L293.8,739.4L294.4,739.1L295.0,739.1L295.6,739.4L296.2,739.4L296.8,739.8L297.4,739.4L298.0,739.4L298.6,739.1L299.2,739.7L299.8,739.8L300.4,739.4L301.0,739.8L301.6,739.4L302.2,739.7L302.8,739.4L303.4,739.8L304.0,738.4L304.6,739.7L305.2,737.9L305.8,739.8L306.4,737.9L307.0,739.4L307.6,739.4L308.2,739.4L308.8,739.4L309.4,739.8L310.0,739.4L310.6,739.8L311.2,739.4L311.8,739.8L312.4,738.7L313.0,739.4L313.6,738.4L314.2,739.8L314.8,739.8L315.4,738.2L316.0,739.6L316.6,739.4L317.2,739.4L317.8,739.8L318.4,739.8L319.0,739.4L319.6,739.4L320.2,739.4L320.8,739.8L321.4,739.8L322.0,739.8L322.6,739.4L323.2,739.8L323.8,739.8L324.4,739.8L325.0,739.8L325.6,739.4L326.2,739.4L326.8,739.0L327.4,739.4L328.0,738.7L328.6,739.5L329.2,739.4L329.8,739.8L330.4,739.8L331.0,739.4L331.6,739.8L332.2,739.4L332.8,739.8L333.4,739.8L334.0,739.0L334.6,739.4L335.2,739.7L335.8,739.8L336.4,739.4L337.0,739.4L337.6,738.8L338.2,738.6L338.8,739.6L339.4,739.4L340.0,739.4L340.6,738.9L341.2,738.6L341.8,739.8L342.4,739.4L343.0,739.4L343.6,739.8L344.2,739.7L344.8,739.4L345.4,739.8L346.0,738.1L346.6,739.8L347.2,739.8L347.8,739.8L348.4,739.6L349.0,739.8L349.6,739.2L350.2,739.4L350.8,739.4L351.4,739.5L352.0,739.8L352.6,739.3L353.2,738.9L353.8,739.4L354.4,739.4L355.0,738.8L355.6,739.8L356.2,738.2L356.8,739.8L357.4,739.3L358.0,739.8L358.6,739.4L359.2,739.4L359.8,739.4L360.4,739.4L361.0,739.4L361.6,739.4L362.2,739.4L362.8,739.4L363.4,739.1L364.0,738.7L364.6,739.4L365.2,739.8L365.8,739.4L366.4,738.6L367.0,739.7L367.6,739.4L368.2,739.4L368.8,739.5L369.4,739.7L370.0,739.8L370.6,738.9L371.2,739.8L371.8,739.4L372.4,739.8L373.0,739.4L373.6,739.7L374.2,739.8L374.8,739.8L375.4,739.1L376.0,738.5L376.6,739.4L377.2,738.5L377.8,739.7L378.4,739.8L379.0,739.1L379.6,739.4L380.2,739.6L380.8,739.8L381.4,738.6L382.0,739.8L382.6,739.8L383.2,739.4L383.8,738.0L383.8,739.8Z" fill="#838383" stroke="#000" stroke-width="1.0"/><clipPath id="f212"><path d="M259.0,739.8L259.0,637.8L259.6,627.7L260.2,633.9L260.8,623.5L261.4,658.0L262.0,624.9L262.6,625.6L263.2,634.5L263.8,653.1L264.4,632.2L265.0,621.0L265.6,621.0L266.2,621.0L266.8,669.1L267.4,621.0L268.0,621.0L268.6,629.5L269.2,625.1L269.8,627.6L270.4,670.4L271.0,633.6L271.6,671.6L272.2,641.2L272.8,675.6L273.4,687.8L274.0,653.6L274.6,672.3L275.2,678.7L275.8,667.2L276.4,675.8L277.0,677.4L277.6,690.0L278.2,692.7L278.8,723.3L279.4,694.8L280.0,707.6L280.6,702.3L281.2,716.2L281.8,732.9L282.4,712.1L283.0,715.3L283.6,739.8L284.2,733.2L284.8,723.3L285.4,725.9L286.0,731.8L286.6,729.4L287.2,731.1L287.8,732.9L288.4,739.8L289.0,736.5L289.6,737.0L290.2,739.6L290.8,737.9L291.4,737.0L292.0,739.8L292.6,739.8L293.2,739.4L293.8,739.4L294.4,739.1L295.0,739.1L295.6,739.4L296.2,739.4L296.8,739.8L297.4,739.4L298.0,739.4L298.6,739.1L299.2,739.7L299.8,739.8L300.4,739.4L301.0,739.8L301.6,739.4L302.2,739.7L302.8,739.4L303.4,739.8L304.0,738.4L304.6,739.7L305.2,737.9L305.8,739.8L306.4,737.9L307.0,739.4L307.6,739.4L308.2,739.4L308.8,739.4L309.4,739.8L310.0,739.4L310.6,739.8L311.2,739.4L311.8,739.8L312.4,738.7L313.0,739.4L313.6,738.4L314.2,739.8L314.8,739.8L315.4,738.2L316.0,739.6L316.6,739.4L317.2,739.4L317.8,739.8L318.4,739.8L319.0,739.4L319.6,739.4L320.2,739.4L320.8,739.8L321.4,739.8L322.0,739.8L322.6,739.4L323.2,739.8L323.8,739.8L324.4,739.8L325.0,739.8L325.6,739.4L326.2,739.4L326.8,739.0L327.4,739.4L328.0,738.7L328.6,739.5L329.2,739.4L329.8,739.8L330.4,739.8L331.0,739.4L331.6,739.8L332.2,739.4L332.8,739.8L333.4,739.8L334.0,739.0L334.6,739.4L335.2,739.7L335.8,739.8L336.4,739.4L337.0,739.4L337.6,738.8L338.2,738.6L338.8,739.6L339.4,739.4L340.0,739.4L340.6,738.9L341.2,738.6L341.8,739.8L342.4,739.4L343.0,739.4L343.6,739.8L344.2,739.7L344.8,739.4L345.4,739.8L346.0,738.1L346.6,739.8L347.2,739.8L347.8,739.8L348.4,739.6L349.0,739.8L349.6,739.2L350.2,739.4L350.8,739.4L351.4,739.5L352.0,739.8L352.6,739.3L353.2,738.9L353.8,739.4L354.4,739.4L355.0,738.8L355.6,739.8L356.2,738.2L356.8,739.8L357.4,739.3L358.0,739.8L358.6,739.4L359.2,739.4L359.8,739.4L360.4,739.4L361.0,739.4L361.6,739.4L362.2,739.4L362.8,739.4L363.4,739.1L364.0,738.7L364.6,739.4L365.2,739.8L365.8,739.4L366.4,738.6L367.0,739.7L367.6,739.4L368.2,739.4L368.8,739.5L369.4,739.7L370.0,739.8L370.6,738.9L371.2,739.8L371.8,739.4L372.4,739.8L373.0,739.4L373.6,739.7L374.2,739.8L374.8,739.8L375.4,739.1L376.0,738.5L376.6,739.4L377.2,738.5L377.8,739.7L378.4,739.8L379.0,739.1L379.6,739.4L380.2,739.6L380.8,739.8L381.4,738.6L382.0,739.8L382.6,739.8L383.2,739.4L383.8,738.0L383.8,739.8Z"/></clipPath><line x1="282.0" y1="731.0" x2="384.0" y2="731.0" stroke="#111" stroke-width="1.2" clip-path="url(#f212)"/><path d="M259.0,662.5L259.5,660.3L260.0,673.8L260.5,627.8L261.0,637.1L261.5,621.0L262.0,637.0L262.5,621.0L263.0,660.1L263.5,621.0L264.0,621.0L264.5,621.0L265.0,621.0L265.5,630.2L266.0,621.0L266.5,621.0L267.0,621.0L267.5,639.2L268.0,642.0L268.5,659.8L269.0,661.7L269.5,627.0L270.0,629.2L270.5,653.4L271.0,634.4L271.5,673.0L272.0,659.8L272.5,662.5L273.0,677.8L273.5,681.6L274.0,653.5L274.5,670.7L275.0,665.8L275.5,670.5L276.0,690.5L276.5,670.6L277.0,684.9L277.5,678.1L278.0,681.8L278.5,685.1L279.0,701.2L279.5,691.6L280.0,699.4L280.5,698.0L281.0,715.9L281.5,735.8L282.0,713.0L282.5,709.1L283.0,714.2L283.5,713.9L284.0,716.2L284.5,718.4L285.0,720.7L285.5,727.4L286.0,724.6L286.5,726.3L287.0,732.0L287.5,729.9L288.0,731.2L288.5,739.8L289.0,732.4L289.5,733.1L290.0,735.8L290.5,736.5L291.0,736.3L291.5,739.8L292.0,737.4L292.5,739.8L293.0,738.8L293.5,737.7L294.0,737.4L294.5,737.9L295.0,738.7L295.5,738.1L296.0,738.5L296.5,739.6L297.0,739.3L297.5,739.7L298.0,739.8L298.5,739.3L299.0,738.7L299.5,739.8L300.0,739.8L300.5,739.3L301.0,739.4L301.5,739.8L302.0,739.3L302.5,739.3L303.0,739.8L303.5,739.8L304.0,739.4L304.5,739.3L305.0,739.8L305.5,739.3L306.0,739.8L306.5,739.3L307.0,739.6L307.5,739.3L308.0,739.8L308.5,738.6L309.0,739.8L309.5,739.8L310.0,739.3L310.5,739.3L311.0,739.6L311.5,739.8L312.0,739.5L312.5,739.3L313.0,739.8L313.5,739.3L314.0,739.2L314.5,739.8L315.0,739.3L315.5,738.7L316.0,739.8L316.5,739.4L317.0,739.8L317.5,739.3L318.0,739.3L318.5,739.3L319.0,738.0L319.5,739.3L320.0,739.8L320.5,738.7L321.0,739.3L321.5,738.2L322.0,739.8L322.5,739.8L323.0,739.8L323.5,739.5L324.0,739.8L324.5,739.3L325.0,739.3L325.5,739.3L326.0,737.9L326.5,739.6L327.0,739.8L327.5,738.5L328.0,739.8L328.5,739.8L329.0,739.3L329.5,739.8L330.0,739.3L330.5,739.3L331.0,739.4L331.5,739.3L332.0,739.3L332.5,738.1L333.0,739.6L333.5,739.8L334.0,739.8L334.5,739.3L335.0,739.3L335.5,739.8L336.0,739.8L336.5,739.1L337.0,739.3L337.5,739.3L338.0,739.8L338.5,739.3L339.0,739.8L339.5,739.8L340.0,739.8L340.5,739.3L341.0,739.3L341.5,739.8L342.0,739.8L342.5,739.5L343.0,739.8L343.5,739.8L344.0,739.8L344.5,739.5L345.0,738.4L345.5,739.0L346.0,739.8L346.5,739.2L347.0,739.8L347.5,737.8L348.0,739.2L348.5,738.1L349.0,739.8L349.5,739.1L350.0,738.0L350.5,738.5L351.0,739.3L351.5,738.7L352.0,739.8L352.5,738.2L353.0,739.3L353.5,739.8L354.0,739.3L354.5,737.8L355.0,739.8L355.5,739.8L356.0,739.8L356.5,739.3L357.0,739.8L357.5,739.0L358.0,739.7L358.5,739.5L359.0,739.8L359.5,739.3L360.0,739.8L360.5,739.3L361.0,739.8L361.5,739.7L362.0,739.8L362.5,738.8L363.0,739.8L363.5,739.8L364.0,739.3L364.5,739.8L365.0,739.8L365.5,737.6L366.0,738.2L366.5,739.8L367.0,739.8L367.5,739.3L368.0,739.8L368.5,739.2L369.0,739.6L369.5,739.4L370.0,739.3L370.5,737.9L371.0,739.8L371.5,739.8L372.0,739.3L372.5,739.8L373.0,739.8L373.5,738.8L374.0,739.3L374.5,739.8L375.0,739.3L375.5,739.8L376.0,739.8L376.5,739.5L377.0,739.8L377.5,739.3L378.0,739.8L378.5,739.5L379.0,738.1L379.5,738.4L380.0,739.3L380.5,739.3L381.0,739.2L381.5,739.3L382.0,739.3L382.5,739.8L383.0,739.3L383.5,739.8L384.0,737.9" fill="none" stroke="#000" stroke-width="1.0"/></g><line x1="259.0" y1="742.4" x2="384.0" y2="742.4" stroke="#e6e6e6" stroke-width="1.6"/><line x1="260.0" y1="740.8" x2="260.0" y2="743.4" stroke="#777" stroke-width="0.9"/><line x1="291.6" y1="740.8" x2="291.6" y2="743.4" stroke="#777" stroke-width="0.9"/><line x1="323.2" y1="740.8" x2="323.2" y2="743.4" stroke="#777" stroke-width="0.9"/><line x1="354.8" y1="740.8" x2="354.8" y2="743.4" stroke="#777" stroke-width="0.9"/><line x1="259.0" y1="739.8" x2="384.0" y2="739.8" stroke="#1a1a1a" stroke-width="1.6"/><g transform="translate(339.55,647.90) scale(1,1.080)"><text x="0.00" y="0" class="n">8.4</text></g><rect x="336.2" y="704.5" width="41.5" height="25.3" fill="none" stroke="#000" stroke-width="1.4"/><g transform="translate(338.55,722.20)"><text x="0.00" y="0" class="b">no. </text><g transform="translate(19.91,0)"><text x="0" y="0" class="b" clip-path="url(#one_b)">1</text></g><text x="26.14" y="0" class="b">7</text></g><rect x="258.0" y="618.5" width="127.0" height="127.5" fill="none" stroke="#000" stroke-width="2"/></g>
<g><clipPath id="c213"><rect x="386.0" y="619.5" width="125.0" height="120.8"/></clipPath><line x1="435.0" y1="735.0" x2="511.0" y2="735.0" stroke="#8a8a8a" stroke-width="0.9"/><g clip-path="url(#c213)"><path d="M386.0,739.8L386.0,739.8L386.6,739.5L387.2,738.9L387.8,739.8L388.4,739.8L389.0,736.8L389.6,734.1L390.2,733.4L390.8,734.3L391.4,737.4L392.0,731.3L392.6,737.7L393.2,730.0L393.8,729.3L394.4,733.6L395.0,727.5L395.6,726.7L396.2,733.8L396.8,730.1L397.4,724.0L398.0,722.5L398.6,720.7L399.2,723.1L399.8,720.8L400.4,722.3L401.0,730.8L401.6,713.9L402.2,709.8L402.8,707.6L403.4,705.5L404.0,707.6L404.6,713.5L405.2,707.9L405.8,717.9L406.4,705.4L407.0,715.1L407.6,692.3L408.2,688.6L408.8,693.4L409.4,685.5L410.0,685.4L410.6,684.0L411.2,684.6L411.8,676.1L412.4,701.2L413.0,671.3L413.6,693.3L414.2,663.7L414.8,682.0L415.4,657.0L416.0,654.7L416.6,648.4L417.2,658.1L417.8,646.8L418.4,640.0L419.0,646.4L419.6,647.9L420.2,627.0L420.8,635.5L421.4,624.6L422.0,639.1L422.6,648.5L423.2,637.2L423.8,654.9L424.4,647.8L425.0,651.6L425.6,656.0L426.2,661.5L426.8,688.2L427.4,672.4L428.0,693.8L428.6,687.9L429.2,688.9L429.8,717.0L430.4,700.0L431.0,705.5L431.6,722.8L432.2,715.5L432.8,720.3L433.4,729.0L434.0,733.8L434.6,729.9L435.2,736.0L435.8,739.8L436.4,737.8L437.0,738.0L437.6,738.4L438.2,739.7L438.8,739.5L439.4,739.8L440.0,738.7L440.6,739.6L441.2,739.8L441.8,739.5L442.4,739.5L443.0,739.8L443.6,739.8L444.2,739.5L444.8,739.8L445.4,739.2L446.0,739.7L446.6,739.5L447.2,739.8L447.8,739.8L448.4,739.8L449.0,739.8L449.6,739.8L450.2,739.7L450.8,739.8L451.4,739.5L452.0,739.6L452.6,739.5L453.2,739.8L453.8,739.8L454.4,739.5L455.0,739.5L455.6,739.8L456.2,739.8L456.8,739.5L457.4,739.5L458.0,739.5L458.6,739.8L459.2,739.8L459.8,739.8L460.4,739.7L461.0,739.8L461.6,738.8L462.2,739.8L462.8,739.8L463.4,739.5L464.0,739.5L464.6,739.5L465.2,739.5L465.8,739.5L466.4,739.8L467.0,739.5L467.6,739.8L468.2,739.6L468.8,739.5L469.4,739.3L470.0,739.8L470.6,739.8L471.2,738.5L471.8,739.5L472.4,739.8L473.0,739.8L473.6,739.5L474.2,739.5L474.8,739.7L475.4,739.8L476.0,739.3L476.6,739.7L477.2,738.0L477.8,739.5L478.4,739.5L479.0,739.8L479.6,739.5L480.2,739.1L480.8,739.5L481.4,739.7L482.0,739.7L482.6,739.8L483.2,739.5L483.8,739.5L484.4,739.5L485.0,738.7L485.6,739.5L486.2,739.8L486.8,739.5L487.4,739.5L488.0,739.8L488.6,739.8L489.2,739.8L489.8,739.5L490.4,739.5L491.0,739.8L491.6,739.5L492.2,739.5L492.8,738.4L493.4,739.5L494.0,739.8L494.6,739.8L495.2,739.2L495.8,738.5L496.4,739.7L497.0,739.5L497.6,739.5L498.2,738.1L498.8,739.8L499.4,739.8L500.0,739.8L500.6,738.8L501.2,738.5L501.8,739.6L502.4,739.7L503.0,739.8L503.6,739.8L504.2,739.8L504.8,739.5L505.4,739.8L506.0,739.6L506.6,739.3L507.2,738.1L507.8,739.8L508.4,739.5L509.0,739.5L509.6,739.8L510.2,739.8L510.8,739.7L510.8,739.8Z" fill="#838383" stroke="#000" stroke-width="1.0"/><clipPath id="f213"><path d="M386.0,739.8L386.0,739.8L386.6,739.5L387.2,738.9L387.8,739.8L388.4,739.8L389.0,736.8L389.6,734.1L390.2,733.4L390.8,734.3L391.4,737.4L392.0,731.3L392.6,737.7L393.2,730.0L393.8,729.3L394.4,733.6L395.0,727.5L395.6,726.7L396.2,733.8L396.8,730.1L397.4,724.0L398.0,722.5L398.6,720.7L399.2,723.1L399.8,720.8L400.4,722.3L401.0,730.8L401.6,713.9L402.2,709.8L402.8,707.6L403.4,705.5L404.0,707.6L404.6,713.5L405.2,707.9L405.8,717.9L406.4,705.4L407.0,715.1L407.6,692.3L408.2,688.6L408.8,693.4L409.4,685.5L410.0,685.4L410.6,684.0L411.2,684.6L411.8,676.1L412.4,701.2L413.0,671.3L413.6,693.3L414.2,663.7L414.8,682.0L415.4,657.0L416.0,654.7L416.6,648.4L417.2,658.1L417.8,646.8L418.4,640.0L419.0,646.4L419.6,647.9L420.2,627.0L420.8,635.5L421.4,624.6L422.0,639.1L422.6,648.5L423.2,637.2L423.8,654.9L424.4,647.8L425.0,651.6L425.6,656.0L426.2,661.5L426.8,688.2L427.4,672.4L428.0,693.8L428.6,687.9L429.2,688.9L429.8,717.0L430.4,700.0L431.0,705.5L431.6,722.8L432.2,715.5L432.8,720.3L433.4,729.0L434.0,733.8L434.6,729.9L435.2,736.0L435.8,739.8L436.4,737.8L437.0,738.0L437.6,738.4L438.2,739.7L438.8,739.5L439.4,739.8L440.0,738.7L440.6,739.6L441.2,739.8L441.8,739.5L442.4,739.5L443.0,739.8L443.6,739.8L444.2,739.5L444.8,739.8L445.4,739.2L446.0,739.7L446.6,739.5L447.2,739.8L447.8,739.8L448.4,739.8L449.0,739.8L449.6,739.8L450.2,739.7L450.8,739.8L451.4,739.5L452.0,739.6L452.6,739.5L453.2,739.8L453.8,739.8L454.4,739.5L455.0,739.5L455.6,739.8L456.2,739.8L456.8,739.5L457.4,739.5L458.0,739.5L458.6,739.8L459.2,739.8L459.8,739.8L460.4,739.7L461.0,739.8L461.6,738.8L462.2,739.8L462.8,739.8L463.4,739.5L464.0,739.5L464.6,739.5L465.2,739.5L465.8,739.5L466.4,739.8L467.0,739.5L467.6,739.8L468.2,739.6L468.8,739.5L469.4,739.3L470.0,739.8L470.6,739.8L471.2,738.5L471.8,739.5L472.4,739.8L473.0,739.8L473.6,739.5L474.2,739.5L474.8,739.7L475.4,739.8L476.0,739.3L476.6,739.7L477.2,738.0L477.8,739.5L478.4,739.5L479.0,739.8L479.6,739.5L480.2,739.1L480.8,739.5L481.4,739.7L482.0,739.7L482.6,739.8L483.2,739.5L483.8,739.5L484.4,739.5L485.0,738.7L485.6,739.5L486.2,739.8L486.8,739.5L487.4,739.5L488.0,739.8L488.6,739.8L489.2,739.8L489.8,739.5L490.4,739.5L491.0,739.8L491.6,739.5L492.2,739.5L492.8,738.4L493.4,739.5L494.0,739.8L494.6,739.8L495.2,739.2L495.8,738.5L496.4,739.7L497.0,739.5L497.6,739.5L498.2,738.1L498.8,739.8L499.4,739.8L500.0,739.8L500.6,738.8L501.2,738.5L501.8,739.6L502.4,739.7L503.0,739.8L503.6,739.8L504.2,739.8L504.8,739.5L505.4,739.8L506.0,739.6L506.6,739.3L507.2,738.1L507.8,739.8L508.4,739.5L509.0,739.5L509.6,739.8L510.2,739.8L510.8,739.7L510.8,739.8Z"/></clipPath><line x1="435.0" y1="735.0" x2="511.0" y2="735.0" stroke="#111" stroke-width="1.2" clip-path="url(#f213)"/><path d="M386.0,734.9L386.5,728.8L387.0,729.1L387.5,726.5L388.0,734.5L388.5,724.3L389.0,723.2L389.5,722.2L390.0,720.9L390.5,719.5L391.0,727.1L391.5,716.2L392.0,714.6L392.5,715.8L393.0,714.6L393.5,721.8L394.0,713.1L394.5,708.5L395.0,707.4L395.5,710.3L396.0,703.3L396.5,708.4L397.0,701.2L397.5,696.9L398.0,706.0L398.5,693.8L399.0,690.5L399.5,688.4L400.0,686.2L400.5,706.6L401.0,682.0L401.5,691.8L402.0,677.8L402.5,683.5L403.0,672.4L403.5,692.7L404.0,666.1L404.5,670.5L405.0,659.9L405.5,657.3L406.0,654.7L406.5,682.7L407.0,664.7L407.5,646.9L408.0,644.8L408.5,644.2L409.0,639.0L409.5,636.6L410.0,646.2L410.5,640.9L411.0,650.9L411.5,628.5L412.0,629.6L412.5,640.6L413.0,640.9L413.5,640.5L414.0,637.1L414.5,638.4L415.0,646.3L415.5,656.6L416.0,663.9L416.5,660.2L417.0,667.4L417.5,660.2L418.0,678.5L418.5,677.9L419.0,673.7L419.5,690.2L420.0,705.2L420.5,700.4L421.0,699.4L421.5,702.1L422.0,703.2L422.5,707.2L423.0,711.1L423.5,727.1L424.0,718.6L424.5,727.6L425.0,728.1L425.5,728.7L426.0,729.2L426.5,731.5L427.0,738.7L427.5,732.7L428.0,738.8L428.5,739.5L429.0,737.8L429.5,739.4L430.0,737.1L430.5,738.0L431.0,738.3L431.5,739.8L432.0,739.0L432.5,739.5L433.0,739.8L433.5,739.8L434.0,739.8L434.5,739.1L435.0,739.8L435.5,739.8L436.0,739.8L436.5,739.5L437.0,738.6L437.5,739.8L438.0,739.5L438.5,739.8L439.0,739.8L439.5,737.8L440.0,739.5L440.5,738.7L441.0,739.5L441.5,738.0L442.0,739.8L442.5,739.5L443.0,739.5L443.5,739.8L444.0,738.6L444.5,739.5L445.0,739.2L445.5,739.8L446.0,739.5L446.5,738.3L447.0,739.6L447.5,739.5L448.0,739.5L448.5,739.3L449.0,739.5L449.5,738.4L450.0,739.5L450.5,739.5L451.0,737.9L451.5,739.8L452.0,739.8L452.5,739.1L453.0,739.6L453.5,739.8L454.0,739.8L454.5,739.8L455.0,739.8L455.5,738.7L456.0,739.6L456.5,737.8L457.0,738.9L457.5,739.5L458.0,739.5L458.5,738.8L459.0,739.0L459.5,738.2L460.0,739.5L460.5,739.5L461.0,739.5L461.5,739.8L462.0,739.5L462.5,739.5L463.0,737.9L463.5,739.8L464.0,739.8L464.5,739.8L465.0,739.4L465.5,739.7L466.0,739.8L466.5,738.6L467.0,739.8L467.5,739.8L468.0,738.9L468.5,739.6L469.0,739.5L469.5,739.5L470.0,739.5L470.5,739.5L471.0,739.5L471.5,739.4L472.0,739.5L472.5,739.5L473.0,739.5L473.5,739.7L474.0,739.7L474.5,738.3L475.0,739.5L475.5,739.5L476.0,739.8L476.5,739.5L477.0,739.5L477.5,739.5L478.0,739.8L478.5,738.5L479.0,739.8L479.5,739.7L480.0,739.5L480.5,738.0L481.0,739.5L481.5,738.2L482.0,739.6L482.5,739.6L483.0,739.8L483.5,739.5L484.0,738.1L484.5,739.7L485.0,739.8L485.5,739.5L486.0,739.5L486.5,739.5L487.0,737.9L487.5,739.5L488.0,739.8L488.5,739.5L489.0,738.5L489.5,739.8L490.0,739.6L490.5,739.5L491.0,739.8L491.5,739.5L492.0,737.9L492.5,739.5L493.0,739.5L493.5,738.3L494.0,739.5L494.5,739.8L495.0,739.2L495.5,739.2L496.0,739.5L496.5,739.8L497.0,739.8L497.5,739.5L498.0,739.8L498.5,739.8L499.0,739.5L499.5,739.5L500.0,739.8L500.5,738.1L501.0,738.5L501.5,739.5L502.0,739.8L502.5,739.8L503.0,739.5L503.5,739.5L504.0,739.6L504.5,739.7L505.0,739.5L505.5,739.8L506.0,739.6L506.5,739.8L507.0,739.5L507.5,739.5L508.0,739.8L508.5,739.8L509.0,739.5L509.5,739.6L510.0,739.0L510.5,739.8L511.0,739.5" fill="none" stroke="#000" stroke-width="1.0"/></g><line x1="386.0" y1="742.4" x2="511.0" y2="742.4" stroke="#e6e6e6" stroke-width="1.6"/><line x1="387.0" y1="740.8" x2="387.0" y2="743.4" stroke="#777" stroke-width="0.9"/><line x1="418.6" y1="740.8" x2="418.6" y2="743.4" stroke="#777" stroke-width="0.9"/><line x1="450.2" y1="740.8" x2="450.2" y2="743.4" stroke="#777" stroke-width="0.9"/><line x1="481.8" y1="740.8" x2="481.8" y2="743.4" stroke="#777" stroke-width="0.9"/><line x1="386.0" y1="739.8" x2="511.0" y2="739.8" stroke="#1a1a1a" stroke-width="1.6"/><g transform="translate(466.30,647.80) scale(1,1.080)"><text x="0.00" y="0" class="n">20.8</text></g><rect x="464.4" y="703.5" width="41.5" height="25.5" fill="none" stroke="#000" stroke-width="1.4"/><g transform="translate(467.10,720.40)"><text x="0.00" y="0" class="b">no. 22</text></g><rect x="385.0" y="618.5" width="127.0" height="127.5" fill="none" stroke="#000" stroke-width="2"/></g>
<g><clipPath id="c220"><rect x="5.0" y="747.0" width="125.0" height="122.3"/></clipPath><g clip-path="url(#c220)"><path d="M5.0,868.8L5.0,861.9L5.6,863.2L6.2,858.2L6.8,867.4L7.4,855.6L8.0,854.3L8.6,859.6L9.2,854.3L9.8,850.8L10.4,860.6L11.0,849.1L11.6,848.2L12.2,847.3L12.8,847.8L13.4,846.2L14.0,844.8L14.6,848.3L15.2,847.4L15.8,842.2L16.4,841.3L17.0,853.1L17.6,838.9L18.2,837.6L18.8,836.3L19.4,835.0L20.0,847.8L20.6,841.0L21.2,835.5L21.8,830.0L22.4,839.5L23.0,839.2L23.6,827.1L24.2,824.7L24.8,823.0L25.4,823.0L26.0,825.6L26.6,818.0L27.2,817.9L27.8,825.5L28.4,811.0L29.0,807.9L29.6,804.7L30.2,801.6L30.8,813.1L31.4,803.9L32.0,801.4L32.6,789.1L33.2,814.6L33.8,787.8L34.4,789.7L35.0,780.5L35.6,798.0L36.2,770.5L36.8,783.1L37.4,765.9L38.0,767.8L38.6,769.8L39.2,752.7L39.8,771.9L40.4,760.9L41.0,760.1L41.6,760.7L42.2,763.2L42.8,781.0L43.4,768.1L44.0,785.1L44.6,776.3L45.2,780.7L45.8,796.0L46.4,814.3L47.0,809.1L47.6,797.2L48.2,802.7L48.8,817.0L49.4,813.8L50.0,820.1L50.6,845.3L51.2,834.9L51.8,837.9L52.4,849.2L53.0,852.4L53.6,852.3L54.2,865.6L54.8,866.3L55.4,861.5L56.0,862.9L56.6,866.5L57.2,868.8L57.8,867.0L58.4,868.5L59.0,866.9L59.6,868.5L60.2,868.5L60.8,868.5L61.4,868.8L62.0,868.8L62.6,868.5L63.2,868.8L63.8,868.5L64.4,868.8L65.0,868.8L65.6,867.3L66.2,868.8L66.8,868.8L67.4,868.5L68.0,867.4L68.6,868.5L69.2,868.4L69.8,868.5L70.4,868.8L71.0,868.5L71.6,868.8L72.2,868.5L72.8,868.8L73.4,868.5L74.0,867.3L74.6,868.6L75.2,868.0L75.8,868.5L76.4,868.5L77.0,868.8L77.6,868.6L78.2,868.8L78.8,868.8L79.4,868.5L80.0,868.5L80.6,868.8L81.2,867.2L81.8,868.8L82.4,867.1L83.0,868.8L83.6,868.8L84.2,867.8L84.8,868.8L85.4,868.5L86.0,868.8L86.6,867.9L87.2,868.5L87.8,867.0L88.4,866.8L89.0,868.4L89.6,868.8L90.2,868.8L90.8,868.5L91.4,868.8L92.0,868.5L92.6,867.4L93.2,868.5L93.8,868.7L94.4,868.5L95.0,868.5L95.6,867.2L96.2,868.6L96.8,868.8L97.4,868.7L98.0,868.5L98.6,867.5L99.2,868.8L99.8,868.0L100.4,867.0L101.0,868.7L101.6,868.8L102.2,868.8L102.8,868.8L103.4,868.8L104.0,868.5L104.6,868.8L105.2,866.8L105.8,868.8L106.4,868.5L107.0,867.0L107.6,868.5L108.2,868.5L108.8,868.5L109.4,868.0L110.0,868.5L110.6,868.8L111.2,868.8L111.8,868.5L112.4,868.8L113.0,868.5L113.6,868.8L114.2,868.8L114.8,868.8L115.4,867.2L116.0,868.8L116.6,868.5L117.2,868.8L117.8,868.6L118.4,868.8L119.0,868.8L119.6,868.6L120.2,868.8L120.8,868.5L121.4,868.8L122.0,867.6L122.6,868.8L123.2,868.5L123.8,868.8L124.4,868.5L125.0,868.5L125.6,868.8L126.2,868.5L126.8,867.7L127.4,868.8L128.0,868.8L128.6,868.8L129.2,868.5L129.8,868.4L129.8,868.8Z" fill="#838383" stroke="#000" stroke-width="1.0"/><path d="M5.0,838.8L5.5,853.0L6.0,836.6L6.5,857.1L7.0,834.5L7.5,833.4L8.0,832.3L8.5,831.3L9.0,830.5L9.5,842.6L10.0,828.9L10.5,847.5L11.0,825.9L11.5,837.6L12.0,830.2L12.5,836.9L13.0,820.2L13.5,822.4L14.0,817.0L14.5,823.0L15.0,815.2L15.5,822.5L16.0,824.2L16.5,818.5L17.0,804.4L17.5,812.9L18.0,804.3L18.5,798.1L19.0,796.0L19.5,793.4L20.0,797.9L20.5,788.2L21.0,785.5L21.5,792.5L22.0,780.9L22.5,778.8L23.0,817.8L23.5,774.6L24.0,772.2L24.5,767.7L25.0,763.2L25.5,758.8L26.0,760.2L26.5,761.9L27.0,783.4L27.5,800.3L28.0,775.2L28.5,765.0L29.0,781.5L29.5,761.8L30.0,788.1L30.5,777.3L31.0,767.7L31.5,783.1L32.0,775.4L32.5,804.6L33.0,794.6L33.5,787.2L34.0,820.9L34.5,805.1L35.0,825.3L35.5,808.9L36.0,833.2L36.5,825.7L37.0,829.6L37.5,840.7L38.0,830.0L38.5,831.6L39.0,839.2L39.5,847.4L40.0,841.3L40.5,844.4L41.0,852.9L41.5,851.8L42.0,857.6L42.5,858.2L43.0,859.6L43.5,861.2L44.0,868.8L44.5,868.8L45.0,862.0L45.5,865.9L46.0,862.9L46.5,868.8L47.0,866.1L47.5,868.8L48.0,868.4L48.5,868.8L49.0,868.5L49.5,868.5L50.0,868.5L50.5,868.5L51.0,868.5L51.5,868.8L52.0,868.8L52.5,868.8L53.0,868.5L53.5,868.7L54.0,866.8L54.5,868.8L55.0,868.5L55.5,868.8L56.0,868.8L56.5,868.7L57.0,868.5L57.5,868.5L58.0,868.8L58.5,868.5L59.0,868.5L59.5,868.8L60.0,868.8L60.5,868.8L61.0,868.6L61.5,868.8L62.0,868.5L62.5,868.5L63.0,868.8L63.5,867.8L64.0,868.5L64.5,868.8L65.0,868.5L65.5,867.9L66.0,868.5L66.5,868.5L67.0,868.8L67.5,868.5L68.0,867.2L68.5,868.6L69.0,868.6L69.5,868.8L70.0,868.8L70.5,866.5L71.0,868.8L71.5,868.5L72.0,868.8L72.5,868.8L73.0,868.8L73.5,868.5L74.0,866.6L74.5,868.5L75.0,868.5L75.5,866.7L76.0,868.8L76.5,868.5L77.0,868.8L77.5,868.5L78.0,868.5L78.5,867.3L79.0,868.5L79.5,868.5L80.0,868.8L80.5,868.5L81.0,868.7L81.5,868.8L82.0,868.0L82.5,868.8L83.0,868.5L83.5,868.5L84.0,868.5L84.5,868.5L85.0,868.5L85.5,868.8L86.0,868.1L86.5,867.3L87.0,866.9L87.5,868.8L88.0,868.8L88.5,868.8L89.0,868.8L89.5,868.5L90.0,868.5L90.5,868.5L91.0,868.5L91.5,866.8L92.0,868.8L92.5,868.8L93.0,868.5L93.5,867.7L94.0,868.5L94.5,868.7L95.0,868.8L95.5,867.2L96.0,868.5L96.5,868.4L97.0,868.8L97.5,868.8L98.0,868.5L98.5,868.8L99.0,868.7L99.5,868.5L100.0,868.8L100.5,868.5L101.0,867.9L101.5,868.7L102.0,868.5L102.5,868.5L103.0,868.5L103.5,868.8L104.0,868.5L104.5,868.8L105.0,868.8L105.5,868.5L106.0,868.5L106.5,868.6L107.0,868.8L107.5,868.7L108.0,868.5L108.5,868.8L109.0,868.5L109.5,868.8L110.0,868.6L110.5,868.5L111.0,868.8L111.5,868.5L112.0,868.5L112.5,868.8L113.0,868.5L113.5,868.8L114.0,868.8L114.5,868.5L115.0,868.5L115.5,867.3L116.0,868.5L116.5,868.8L117.0,868.5L117.5,868.8L118.0,868.8L118.5,868.8L119.0,868.6L119.5,868.5L120.0,868.6L120.5,868.8L121.0,868.8L121.5,867.9L122.0,867.8L122.5,868.5L123.0,868.5L123.5,868.5L124.0,868.5L124.5,868.8L125.0,868.5L125.5,868.6L126.0,868.8L126.5,868.8L127.0,868.8L127.5,868.8L128.0,868.8L128.5,868.5L129.0,868.8L129.5,868.5L130.0,868.8" fill="none" stroke="#000" stroke-width="1.0"/></g><line x1="5.0" y1="871.4" x2="130.0" y2="871.4" stroke="#e6e6e6" stroke-width="1.6"/><line x1="6.0" y1="869.8" x2="6.0" y2="872.4" stroke="#777" stroke-width="0.9"/><line x1="37.6" y1="869.8" x2="37.6" y2="872.4" stroke="#777" stroke-width="0.9"/><line x1="69.2" y1="869.8" x2="69.2" y2="872.4" stroke="#777" stroke-width="0.9"/><line x1="100.8" y1="869.8" x2="100.8" y2="872.4" stroke="#777" stroke-width="0.9"/><line x1="5.0" y1="868.8" x2="130.0" y2="868.8" stroke="#1a1a1a" stroke-width="1.6"/><g transform="translate(87.75,767.75) scale(1,1.080)"><text x="0.00" y="0" class="n">33.5</text></g><rect x="88.6" y="830.5" width="35.4" height="25.3" fill="none" stroke="#000" stroke-width="1.4"/><g transform="translate(92.50,847.20)"><text x="0.00" y="0" class="b">no. 3</text></g><rect x="4.0" y="746.0" width="127.0" height="127.5" fill="none" stroke="#000" stroke-width="2"/></g>
<g><clipPath id="c221"><rect x="132.0" y="747.0" width="125.0" height="122.3"/></clipPath><line x1="205.0" y1="863.0" x2="257.0" y2="863.0" stroke="#8a8a8a" stroke-width="0.9"/><g clip-path="url(#c221)"><path d="M132.0,868.8L132.0,868.6L132.6,868.6L133.2,868.8L133.8,868.6L134.4,868.8L135.0,867.3L135.6,867.1L136.2,868.5L136.8,868.5L137.4,868.8L138.0,868.8L138.6,868.5L139.2,868.8L139.8,868.5L140.4,868.8L141.0,868.8L141.6,868.6L142.2,868.5L142.8,868.5L143.4,868.5L144.0,868.8L144.6,868.8L145.2,868.5L145.8,868.5L146.4,868.5L147.0,868.8L147.6,868.8L148.2,867.2L148.8,868.8L149.4,868.5L150.0,868.0L150.6,866.3L151.2,864.5L151.8,868.8L152.4,861.4L153.0,866.9L153.6,859.6L154.2,858.7L154.8,864.5L155.4,856.9L156.0,861.6L156.6,858.2L157.2,862.7L157.8,855.3L158.4,852.3L159.0,850.2L159.6,848.9L160.2,849.1L160.8,856.2L161.4,848.7L162.0,857.9L162.6,855.4L163.2,846.0L163.8,839.9L164.4,846.3L165.0,840.2L165.6,836.1L166.2,839.2L166.8,840.6L167.4,832.3L168.0,831.4L168.6,829.7L169.2,840.5L169.8,830.4L170.4,825.9L171.0,834.1L171.6,823.4L172.2,821.4L172.8,831.4L173.4,816.3L174.0,815.2L174.6,809.9L175.2,827.2L175.8,805.4L176.4,793.3L177.0,787.0L177.6,782.2L178.2,778.5L178.8,781.2L179.4,766.5L180.0,762.2L180.6,758.4L181.2,756.5L181.8,771.3L182.4,752.8L183.0,751.3L183.6,751.7L184.2,772.8L184.8,753.2L185.4,755.9L186.0,758.6L186.6,776.2L187.2,802.3L187.8,779.7L188.4,777.4L189.0,797.5L189.6,794.4L190.2,813.9L190.8,799.9L191.4,813.0L192.0,821.0L192.6,811.9L193.2,828.8L193.8,821.3L194.4,832.6L195.0,835.8L195.6,840.4L196.2,839.9L196.8,843.8L197.4,847.3L198.0,853.1L198.6,856.2L199.2,865.6L199.8,857.5L200.4,857.6L201.0,858.9L201.6,859.6L202.2,860.7L202.8,861.7L203.4,867.7L204.0,863.3L204.6,866.2L205.2,866.3L205.8,867.7L206.4,868.5L207.0,868.5L207.6,868.8L208.2,868.8L208.8,868.8L209.4,868.8L210.0,868.3L210.6,868.8L211.2,866.7L211.8,868.5L212.4,868.6L213.0,868.8L213.6,868.5L214.2,868.5L214.8,868.5L215.4,868.5L216.0,868.2L216.6,868.8L217.2,868.8L217.8,868.4L218.4,868.8L219.0,868.3L219.6,868.8L220.2,868.1L220.8,867.3L221.4,868.8L222.0,868.8L222.6,868.5L223.2,868.8L223.8,868.8L224.4,868.8L225.0,868.5L225.6,868.7L226.2,868.5L226.8,868.6L227.4,867.9L228.0,868.7L228.6,868.6L229.2,868.5L229.8,868.5L230.4,868.8L231.0,868.8L231.6,868.5L232.2,868.8L232.8,868.5L233.4,868.5L234.0,868.5L234.6,868.5L235.2,868.8L235.8,868.8L236.4,868.5L237.0,868.5L237.6,868.7L238.2,867.3L238.8,868.8L239.4,868.8L240.0,868.7L240.6,868.6L241.2,868.8L241.8,868.5L242.4,868.8L243.0,868.8L243.6,867.8L244.2,868.8L244.8,868.7L245.4,868.5L246.0,868.5L246.6,866.7L247.2,868.4L247.8,868.8L248.4,868.5L249.0,868.5L249.6,868.8L250.2,868.8L250.8,868.8L251.4,868.8L252.0,867.7L252.6,868.8L253.2,868.5L253.8,868.5L254.4,868.8L255.0,867.7L255.6,868.5L256.2,868.8L256.8,868.8L256.8,868.8Z" fill="#838383" stroke="#000" stroke-width="1.0"/><clipPath id="f221"><path d="M132.0,868.8L132.0,868.6L132.6,868.6L133.2,868.8L133.8,868.6L134.4,868.8L135.0,867.3L135.6,867.1L136.2,868.5L136.8,868.5L137.4,868.8L138.0,868.8L138.6,868.5L139.2,868.8L139.8,868.5L140.4,868.8L141.0,868.8L141.6,868.6L142.2,868.5L142.8,868.5L143.4,868.5L144.0,868.8L144.6,868.8L145.2,868.5L145.8,868.5L146.4,868.5L147.0,868.8L147.6,868.8L148.2,867.2L148.8,868.8L149.4,868.5L150.0,868.0L150.6,866.3L151.2,864.5L151.8,868.8L152.4,861.4L153.0,866.9L153.6,859.6L154.2,858.7L154.8,864.5L155.4,856.9L156.0,861.6L156.6,858.2L157.2,862.7L157.8,855.3L158.4,852.3L159.0,850.2L159.6,848.9L160.2,849.1L160.8,856.2L161.4,848.7L162.0,857.9L162.6,855.4L163.2,846.0L163.8,839.9L164.4,846.3L165.0,840.2L165.6,836.1L166.2,839.2L166.8,840.6L167.4,832.3L168.0,831.4L168.6,829.7L169.2,840.5L169.8,830.4L170.4,825.9L171.0,834.1L171.6,823.4L172.2,821.4L172.8,831.4L173.4,816.3L174.0,815.2L174.6,809.9L175.2,827.2L175.8,805.4L176.4,793.3L177.0,787.0L177.6,782.2L178.2,778.5L178.8,781.2L179.4,766.5L180.0,762.2L180.6,758.4L181.2,756.5L181.8,771.3L182.4,752.8L183.0,751.3L183.6,751.7L184.2,772.8L184.8,753.2L185.4,755.9L186.0,758.6L186.6,776.2L187.2,802.3L187.8,779.7L188.4,777.4L189.0,797.5L189.6,794.4L190.2,813.9L190.8,799.9L191.4,813.0L192.0,821.0L192.6,811.9L193.2,828.8L193.8,821.3L194.4,832.6L195.0,835.8L195.6,840.4L196.2,839.9L196.8,843.8L197.4,847.3L198.0,853.1L198.6,856.2L199.2,865.6L199.8,857.5L200.4,857.6L201.0,858.9L201.6,859.6L202.2,860.7L202.8,861.7L203.4,867.7L204.0,863.3L204.6,866.2L205.2,866.3L205.8,867.7L206.4,868.5L207.0,868.5L207.6,868.8L208.2,868.8L208.8,868.8L209.4,868.8L210.0,868.3L210.6,868.8L211.2,866.7L211.8,868.5L212.4,868.6L213.0,868.8L213.6,868.5L214.2,868.5L214.8,868.5L215.4,868.5L216.0,868.2L216.6,868.8L217.2,868.8L217.8,868.4L218.4,868.8L219.0,868.3L219.6,868.8L220.2,868.1L220.8,867.3L221.4,868.8L222.0,868.8L222.6,868.5L223.2,868.8L223.8,868.8L224.4,868.8L225.0,868.5L225.6,868.7L226.2,868.5L226.8,868.6L227.4,867.9L228.0,868.7L228.6,868.6L229.2,868.5L229.8,868.5L230.4,868.8L231.0,868.8L231.6,868.5L232.2,868.8L232.8,868.5L233.4,868.5L234.0,868.5L234.6,868.5L235.2,868.8L235.8,868.8L236.4,868.5L237.0,868.5L237.6,868.7L238.2,867.3L238.8,868.8L239.4,868.8L240.0,868.7L240.6,868.6L241.2,868.8L241.8,868.5L242.4,868.8L243.0,868.8L243.6,867.8L244.2,868.8L244.8,868.7L245.4,868.5L246.0,868.5L246.6,866.7L247.2,868.4L247.8,868.8L248.4,868.5L249.0,868.5L249.6,868.8L250.2,868.8L250.8,868.8L251.4,868.8L252.0,867.7L252.6,868.8L253.2,868.5L253.8,868.5L254.4,868.8L255.0,867.7L255.6,868.5L256.2,868.8L256.8,868.8L256.8,868.8Z"/></clipPath><line x1="205.0" y1="863.0" x2="257.0" y2="863.0" stroke="#111" stroke-width="1.2" clip-path="url(#f221)"/><path d="M132.0,859.5L132.5,859.5L133.0,861.7L133.5,857.9L134.0,865.7L134.5,856.4L135.0,865.7L135.5,858.0L136.0,857.8L136.5,853.7L137.0,856.3L137.5,866.0L138.0,859.5L138.5,852.2L139.0,860.7L139.5,854.0L140.0,854.5L140.5,862.3L141.0,849.5L141.5,850.4L142.0,848.1L142.5,864.3L143.0,846.6L143.5,845.9L144.0,845.1L144.5,853.8L145.0,857.1L145.5,850.0L146.0,855.6L146.5,851.8L147.0,841.1L147.5,840.2L148.0,849.5L148.5,838.6L149.0,844.7L149.5,847.2L150.0,854.9L150.5,851.5L151.0,849.1L151.5,845.4L152.0,835.0L152.5,830.6L153.0,835.7L153.5,827.8L154.0,834.5L154.5,825.0L155.0,823.0L155.5,820.9L156.0,821.4L156.5,820.4L157.0,825.7L157.5,812.4L158.0,810.3L158.5,808.2L159.0,811.0L159.5,807.6L160.0,813.7L160.5,803.5L161.0,801.3L161.5,795.5L162.0,796.2L162.5,790.8L163.0,788.2L163.5,789.3L164.0,784.9L164.5,780.4L165.0,782.7L165.5,777.3L166.0,802.0L166.5,781.6L167.0,790.0L167.5,783.1L168.0,790.1L168.5,766.3L169.0,764.2L169.5,809.7L170.0,763.7L170.5,761.1L171.0,787.9L171.5,760.9L172.0,763.9L172.5,766.8L173.0,817.1L173.5,774.7L174.0,779.9L174.5,789.9L175.0,790.4L175.5,795.6L176.0,821.4L176.5,812.8L177.0,813.6L177.5,816.7L178.0,839.3L178.5,828.6L179.0,830.4L179.5,840.6L180.0,838.3L180.5,840.8L181.0,845.9L181.5,845.3L182.0,847.6L182.5,849.8L183.0,856.3L183.5,854.0L184.0,856.1L184.5,859.7L185.0,863.8L185.5,859.6L186.0,859.5L186.5,861.8L187.0,861.1L187.5,861.9L188.0,862.5L188.5,862.8L189.0,863.1L189.5,866.1L190.0,866.8L190.5,866.0L191.0,867.3L191.5,868.8L192.0,868.8L192.5,868.5L193.0,868.8L193.5,868.8L194.0,868.0L194.5,868.5L195.0,868.5L195.5,868.8L196.0,867.2L196.5,868.5L197.0,868.6L197.5,868.8L198.0,868.5L198.5,868.8L199.0,868.3L199.5,868.5L200.0,868.8L200.5,868.8L201.0,868.6L201.5,866.7L202.0,868.8L202.5,868.8L203.0,868.8L203.5,868.5L204.0,868.5L204.5,868.5L205.0,868.8L205.5,868.5L206.0,868.8L206.5,866.9L207.0,868.5L207.5,868.7L208.0,868.8L208.5,868.5L209.0,868.5L209.5,868.8L210.0,868.6L210.5,868.5L211.0,868.8L211.5,868.6L212.0,868.5L212.5,868.5L213.0,868.5L213.5,868.5L214.0,868.5L214.5,868.8L215.0,868.5L215.5,868.5L216.0,868.8L216.5,867.4L217.0,868.8L217.5,868.5L218.0,866.9L218.5,866.8L219.0,868.5L219.5,868.5L220.0,867.8L220.5,868.5L221.0,868.8L221.5,867.3L222.0,868.5L222.5,868.8L223.0,868.8L223.5,868.5L224.0,868.8L224.5,868.4L225.0,868.5L225.5,868.5L226.0,868.5L226.5,868.8L227.0,868.5L227.5,868.8L228.0,868.8L228.5,868.5L229.0,868.5L229.5,868.8L230.0,868.5L230.5,868.2L231.0,868.5L231.5,868.5L232.0,868.8L232.5,868.6L233.0,868.8L233.5,868.5L234.0,868.8L234.5,868.8L235.0,868.5L235.5,868.8L236.0,868.5L236.5,868.5L237.0,868.8L237.5,867.3L238.0,868.5L238.5,868.8L239.0,868.8L239.5,868.2L240.0,868.5L240.5,868.5L241.0,868.8L241.5,868.5L242.0,866.7L242.5,868.8L243.0,868.8L243.5,868.8L244.0,868.8L244.5,868.8L245.0,868.5L245.5,868.5L246.0,868.8L246.5,866.5L247.0,868.8L247.5,868.8L248.0,868.8L248.5,868.8L249.0,868.7L249.5,868.5L250.0,868.5L250.5,868.8L251.0,868.5L251.5,868.8L252.0,868.8L252.5,868.8L253.0,868.8L253.5,868.8L254.0,868.8L254.5,868.8L255.0,868.5L255.5,868.8L256.0,868.8L256.5,868.5L257.0,868.5" fill="none" stroke="#000" stroke-width="1.0"/></g><line x1="132.0" y1="871.4" x2="257.0" y2="871.4" stroke="#e6e6e6" stroke-width="1.6"/><line x1="133.0" y1="869.8" x2="133.0" y2="872.4" stroke="#777" stroke-width="0.9"/><line x1="164.6" y1="869.8" x2="164.6" y2="872.4" stroke="#777" stroke-width="0.9"/><line x1="196.2" y1="869.8" x2="196.2" y2="872.4" stroke="#777" stroke-width="0.9"/><line x1="227.8" y1="869.8" x2="227.8" y2="872.4" stroke="#777" stroke-width="0.9"/><line x1="132.0" y1="868.8" x2="257.0" y2="868.8" stroke="#1a1a1a" stroke-width="1.6"/><g transform="translate(216.55,766.75) scale(1,1.080)"><text x="0.00" y="0" class="n">36.</text><g transform="translate(19.74,0)"><text x="0" y="0" class="n" clip-path="url(#one_n)">1</text></g></g><rect x="215.8" y="831.7" width="35.2" height="25.7" fill="none" stroke="#000" stroke-width="1.4"/><g transform="translate(218.60,846.60)"><text x="0.00" y="0" class="b">no. 9</text></g><rect x="131.0" y="746.0" width="127.0" height="127.5" fill="none" stroke="#000" stroke-width="2"/></g>
<g><clipPath id="c222"><rect x="259.0" y="747.0" width="125.0" height="122.3"/></clipPath><line x1="307.0" y1="863.0" x2="384.0" y2="863.0" stroke="#8a8a8a" stroke-width="0.9"/><g clip-path="url(#c222)"><path d="M259.0,868.8L259.0,863.1L259.6,863.1L260.2,863.1L260.8,863.1L261.4,864.3L262.0,866.8L262.6,867.1L263.2,862.1L263.8,861.6L264.4,863.9L265.0,861.5L265.6,865.0L266.2,859.6L266.8,859.9L267.4,861.1L268.0,865.2L268.6,859.9L269.2,863.9L269.8,859.8L270.4,855.3L271.0,854.6L271.6,859.2L272.2,859.4L272.8,852.9L273.4,851.7L274.0,857.3L274.6,851.0L275.2,857.5L275.8,854.8L276.4,847.7L277.0,846.8L277.6,849.6L278.2,851.7L278.8,853.3L279.4,848.4L280.0,842.1L280.6,843.5L281.2,840.2L281.8,844.3L282.4,841.2L283.0,836.7L283.6,837.8L284.2,842.0L284.8,833.4L285.4,837.4L286.0,830.5L286.6,841.5L287.2,826.6L287.8,825.0L288.4,830.7L289.0,825.4L289.6,828.4L290.2,835.7L290.8,816.5L291.4,812.3L292.0,808.7L292.6,805.6L293.2,802.5L293.8,801.1L294.4,798.6L295.0,791.0L295.6,798.5L296.2,788.8L296.8,779.0L297.4,774.8L298.0,771.1L298.6,773.7L299.2,765.9L299.8,758.6L300.4,754.0L301.0,750.4L301.6,749.1L302.2,754.3L302.8,754.9L303.4,750.2L304.0,763.4L304.6,754.6L305.2,762.9L305.8,767.9L306.4,778.4L307.0,779.0L307.6,779.3L308.2,778.1L308.8,782.1L309.4,790.5L310.0,800.4L310.6,808.9L311.2,804.3L311.8,811.9L312.4,815.7L313.0,823.9L313.6,826.6L314.2,838.3L314.8,839.1L315.4,844.3L316.0,848.5L316.6,852.6L317.2,855.0L317.8,859.0L318.4,865.8L319.0,862.5L319.6,862.7L320.2,867.7L320.8,865.6L321.4,866.1L322.0,866.4L322.6,865.9L323.2,866.7L323.8,866.8L324.4,867.0L325.0,867.5L325.6,868.8L326.2,868.6L326.8,868.8L327.4,868.6L328.0,868.8L328.6,868.8L329.2,868.6L329.8,868.7L330.4,868.8L331.0,868.1L331.6,867.6L332.2,868.7L332.8,868.6L333.4,867.9L334.0,866.9L334.6,868.6L335.2,868.6L335.8,868.6L336.4,868.8L337.0,868.7L337.6,867.9L338.2,868.8L338.8,868.6L339.4,868.3L340.0,868.6L340.6,868.6L341.2,868.4L341.8,868.6L342.4,867.6L343.0,868.6L343.6,868.6L344.2,868.8L344.8,868.6L345.4,867.5L346.0,868.6L346.6,868.6L347.2,867.2L347.8,868.8L348.4,868.8L349.0,868.6L349.6,868.8L350.2,868.6L350.8,868.6L351.4,868.8L352.0,868.2L352.6,868.6L353.2,868.8L353.8,868.8L354.4,868.6L355.0,868.6L355.6,868.6L356.2,868.8L356.8,868.8L357.4,868.8L358.0,868.6L358.6,868.0L359.2,868.6L359.8,868.8L360.4,868.8L361.0,868.6L361.6,868.8L362.2,868.8L362.8,868.6L363.4,868.8L364.0,868.7L364.6,867.4L365.2,868.8L365.8,867.8L366.4,868.8L367.0,868.6L367.6,868.8L368.2,868.8L368.8,868.8L369.4,868.8L370.0,868.6L370.6,868.8L371.2,868.6L371.8,868.6L372.4,868.6L373.0,867.9L373.6,868.6L374.2,868.6L374.8,868.8L375.4,868.6L376.0,868.8L376.6,868.6L377.2,868.8L377.8,868.8L378.4,868.6L379.0,868.0L379.6,868.1L380.2,868.8L380.8,868.7L381.4,868.3L382.0,868.6L382.6,868.7L383.2,868.7L383.8,868.8L383.8,868.8Z" fill="#838383" stroke="#000" stroke-width="1.0"/><clipPath id="f222"><path d="M259.0,868.8L259.0,863.1L259.6,863.1L260.2,863.1L260.8,863.1L261.4,864.3L262.0,866.8L262.6,867.1L263.2,862.1L263.8,861.6L264.4,863.9L265.0,861.5L265.6,865.0L266.2,859.6L266.8,859.9L267.4,861.1L268.0,865.2L268.6,859.9L269.2,863.9L269.8,859.8L270.4,855.3L271.0,854.6L271.6,859.2L272.2,859.4L272.8,852.9L273.4,851.7L274.0,857.3L274.6,851.0L275.2,857.5L275.8,854.8L276.4,847.7L277.0,846.8L277.6,849.6L278.2,851.7L278.8,853.3L279.4,848.4L280.0,842.1L280.6,843.5L281.2,840.2L281.8,844.3L282.4,841.2L283.0,836.7L283.6,837.8L284.2,842.0L284.8,833.4L285.4,837.4L286.0,830.5L286.6,841.5L287.2,826.6L287.8,825.0L288.4,830.7L289.0,825.4L289.6,828.4L290.2,835.7L290.8,816.5L291.4,812.3L292.0,808.7L292.6,805.6L293.2,802.5L293.8,801.1L294.4,798.6L295.0,791.0L295.6,798.5L296.2,788.8L296.8,779.0L297.4,774.8L298.0,771.1L298.6,773.7L299.2,765.9L299.8,758.6L300.4,754.0L301.0,750.4L301.6,749.1L302.2,754.3L302.8,754.9L303.4,750.2L304.0,763.4L304.6,754.6L305.2,762.9L305.8,767.9L306.4,778.4L307.0,779.0L307.6,779.3L308.2,778.1L308.8,782.1L309.4,790.5L310.0,800.4L310.6,808.9L311.2,804.3L311.8,811.9L312.4,815.7L313.0,823.9L313.6,826.6L314.2,838.3L314.8,839.1L315.4,844.3L316.0,848.5L316.6,852.6L317.2,855.0L317.8,859.0L318.4,865.8L319.0,862.5L319.6,862.7L320.2,867.7L320.8,865.6L321.4,866.1L322.0,866.4L322.6,865.9L323.2,866.7L323.8,866.8L324.4,867.0L325.0,867.5L325.6,868.8L326.2,868.6L326.8,868.8L327.4,868.6L328.0,868.8L328.6,868.8L329.2,868.6L329.8,868.7L330.4,868.8L331.0,868.1L331.6,867.6L332.2,868.7L332.8,868.6L333.4,867.9L334.0,866.9L334.6,868.6L335.2,868.6L335.8,868.6L336.4,868.8L337.0,868.7L337.6,867.9L338.2,868.8L338.8,868.6L339.4,868.3L340.0,868.6L340.6,868.6L341.2,868.4L341.8,868.6L342.4,867.6L343.0,868.6L343.6,868.6L344.2,868.8L344.8,868.6L345.4,867.5L346.0,868.6L346.6,868.6L347.2,867.2L347.8,868.8L348.4,868.8L349.0,868.6L349.6,868.8L350.2,868.6L350.8,868.6L351.4,868.8L352.0,868.2L352.6,868.6L353.2,868.8L353.8,868.8L354.4,868.6L355.0,868.6L355.6,868.6L356.2,868.8L356.8,868.8L357.4,868.8L358.0,868.6L358.6,868.0L359.2,868.6L359.8,868.8L360.4,868.8L361.0,868.6L361.6,868.8L362.2,868.8L362.8,868.6L363.4,868.8L364.0,868.7L364.6,867.4L365.2,868.8L365.8,867.8L366.4,868.8L367.0,868.6L367.6,868.8L368.2,868.8L368.8,868.8L369.4,868.8L370.0,868.6L370.6,868.8L371.2,868.6L371.8,868.6L372.4,868.6L373.0,867.9L373.6,868.6L374.2,868.6L374.8,868.8L375.4,868.6L376.0,868.8L376.6,868.6L377.2,868.8L377.8,868.8L378.4,868.6L379.0,868.0L379.6,868.1L380.2,868.8L380.8,868.7L381.4,868.3L382.0,868.6L382.6,868.7L383.2,868.7L383.8,868.8L383.8,868.8Z"/></clipPath><line x1="307.0" y1="863.0" x2="384.0" y2="863.0" stroke="#111" stroke-width="1.2" clip-path="url(#f222)"/><path d="M259.0,859.1L259.5,856.2L260.0,849.2L260.5,847.3L261.0,846.2L261.5,855.4L262.0,844.1L262.5,843.0L263.0,845.5L263.5,856.6L264.0,839.9L264.5,838.8L265.0,839.3L265.5,839.7L266.0,835.7L266.5,834.6L267.0,856.0L267.5,846.6L268.0,831.5L268.5,839.9L269.0,829.4L269.5,839.1L270.0,828.2L270.5,832.4L271.0,829.3L271.5,839.6L272.0,834.4L272.5,829.3L273.0,828.5L273.5,824.3L274.0,817.9L274.5,816.3L275.0,814.8L275.5,816.0L276.0,817.9L276.5,817.1L277.0,806.9L277.5,810.1L278.0,819.9L278.5,808.6L279.0,808.8L279.5,796.4L280.0,792.4L280.5,789.8L281.0,794.5L281.5,795.5L282.0,782.0L282.5,797.6L283.0,789.4L283.5,775.0L284.0,780.9L284.5,778.9L285.0,771.8L285.5,791.2L286.0,784.1L286.5,763.8L287.0,790.7L287.5,760.8L288.0,761.8L288.5,760.7L289.0,787.6L289.5,767.3L290.0,772.4L290.5,764.3L291.0,777.8L291.5,765.2L292.0,779.7L292.5,791.6L293.0,772.9L293.5,775.5L294.0,778.5L294.5,781.4L295.0,787.7L295.5,787.8L296.0,791.5L296.5,808.8L297.0,799.3L297.5,804.5L298.0,811.3L298.5,819.7L299.0,819.1L299.5,824.8L300.0,838.4L300.5,833.2L301.0,837.8L301.5,842.6L302.0,842.7L302.5,850.8L303.0,855.9L303.5,850.7L304.0,852.9L304.5,856.9L305.0,857.7L305.5,860.5L306.0,859.4L306.5,860.5L307.0,865.5L307.5,863.0L308.0,864.6L308.5,863.0L309.0,863.3L309.5,868.4L310.0,867.2L310.5,867.1L311.0,866.4L311.5,867.0L312.0,867.8L312.5,868.8L313.0,867.9L313.5,868.8L314.0,865.3L314.5,866.9L315.0,868.6L315.5,868.6L316.0,866.9L316.5,868.8L317.0,868.8L317.5,868.5L318.0,868.6L318.5,867.7L319.0,868.0L319.5,868.6L320.0,868.8L320.5,868.7L321.0,868.7L321.5,868.8L322.0,868.7L322.5,868.7L323.0,868.6L323.5,867.4L324.0,868.6L324.5,868.6L325.0,867.4L325.5,868.8L326.0,868.8L326.5,868.6L327.0,866.9L327.5,868.6L328.0,868.7L328.5,868.8L329.0,868.8L329.5,868.8L330.0,868.6L330.5,868.8L331.0,867.6L331.5,868.6L332.0,868.8L332.5,868.3L333.0,868.8L333.5,867.8L334.0,868.8L334.5,868.8L335.0,868.8L335.5,868.8L336.0,868.6L336.5,868.5L337.0,868.8L337.5,868.6L338.0,868.8L338.5,868.8L339.0,868.1L339.5,868.1L340.0,868.7L340.5,868.8L341.0,868.6L341.5,867.8L342.0,868.8L342.5,868.6L343.0,868.8L343.5,868.8L344.0,868.7L344.5,868.6L345.0,867.6L345.5,866.6L346.0,866.9L346.5,868.6L347.0,867.2L347.5,868.8L348.0,868.8L348.5,868.8L349.0,868.6L349.5,868.6L350.0,868.0L350.5,867.3L351.0,868.6L351.5,868.8L352.0,868.8L352.5,868.7L353.0,868.6L353.5,868.6L354.0,868.8L354.5,868.6L355.0,868.6L355.5,868.7L356.0,868.6L356.5,868.7L357.0,867.6L357.5,867.4L358.0,868.8L358.5,868.8L359.0,868.6L359.5,868.1L360.0,868.6L360.5,868.6L361.0,868.8L361.5,868.8L362.0,868.6L362.5,868.6L363.0,867.4L363.5,868.8L364.0,868.8L364.5,868.8L365.0,868.8L365.5,868.1L366.0,866.9L366.5,868.6L367.0,868.8L367.5,868.1L368.0,868.8L368.5,868.8L369.0,868.6L369.5,868.8L370.0,868.8L370.5,868.8L371.0,867.5L371.5,868.8L372.0,868.8L372.5,868.8L373.0,868.6L373.5,868.6L374.0,868.8L374.5,868.4L375.0,867.3L375.5,866.9L376.0,868.6L376.5,868.6L377.0,868.8L377.5,868.7L378.0,867.7L378.5,868.6L379.0,868.8L379.5,868.8L380.0,868.3L380.5,868.4L381.0,868.7L381.5,868.8L382.0,868.8L382.5,868.8L383.0,868.6L383.5,868.8L384.0,868.6" fill="none" stroke="#000" stroke-width="1.0"/></g><line x1="259.0" y1="871.4" x2="384.0" y2="871.4" stroke="#e6e6e6" stroke-width="1.6"/><line x1="260.0" y1="869.8" x2="260.0" y2="872.4" stroke="#777" stroke-width="0.9"/><line x1="291.6" y1="869.8" x2="291.6" y2="872.4" stroke="#777" stroke-width="0.9"/><line x1="323.2" y1="869.8" x2="323.2" y2="872.4" stroke="#777" stroke-width="0.9"/><line x1="354.8" y1="869.8" x2="354.8" y2="872.4" stroke="#777" stroke-width="0.9"/><line x1="259.0" y1="868.8" x2="384.0" y2="868.8" stroke="#1a1a1a" stroke-width="1.6"/><g transform="translate(340.45,772.40) scale(1,1.080)"><text x="0.00" y="0" class="n">4</text><g transform="translate(7.90,0)"><text x="0" y="0" class="n" clip-path="url(#one_n)">1</text></g><text x="15.79" y="0" class="n">.8</text></g><rect x="335.9" y="833.0" width="42.0" height="25.6" fill="none" stroke="#000" stroke-width="1.4"/><g transform="translate(338.70,848.60)"><text x="0.00" y="0" class="b">no. </text><g transform="translate(19.91,0)"><text x="0" y="0" class="b" clip-path="url(#one_b)">1</text></g><text x="26.14" y="0" class="b">8</text></g><rect x="258.0" y="746.0" width="127.0" height="127.5" fill="none" stroke="#000" stroke-width="2"/></g>
<g fill="#aaa" stroke="none">
<rect x="132.5" y="620.8" width="1.6" height="1.6" fill="#555"/><rect x="137" y="620.8" width="1.4" height="1.6"/><rect x="139.5" y="620.8" width="1.4" height="1.6"/>
<rect x="132.8" y="624.8" width="1" height="1.8" fill="#777"/><rect x="136.5" y="624.6" width="2" height="2"/><rect x="139.2" y="625" width="1.6" height="1.6"/>
<rect x="132.8" y="628.6" width="1" height="1.8" fill="#777"/><rect x="136" y="629" width="9" height="1.2" fill="#c4c4c4"/><rect x="148" y="629" width="3" height="1" fill="#c4c4c4"/><rect x="152.6" y="628.4" width="1.4" height="2" fill="#666"/>
</g>
<line x1="3" y1="298.3" x2="513" y2="298.3" stroke="#000" stroke-width="2.7"/>
<line x1="1.5" y1="900.6" x2="507" y2="900.6" stroke="#000" stroke-width="2"/>
<path d="M505.5,894.6 L519,900.6 L505.5,906.8 Z" fill="#000"/>
<text x="124.6" y="934.4" class="x">CD22 expression</text>
</svg>
</body></html>
